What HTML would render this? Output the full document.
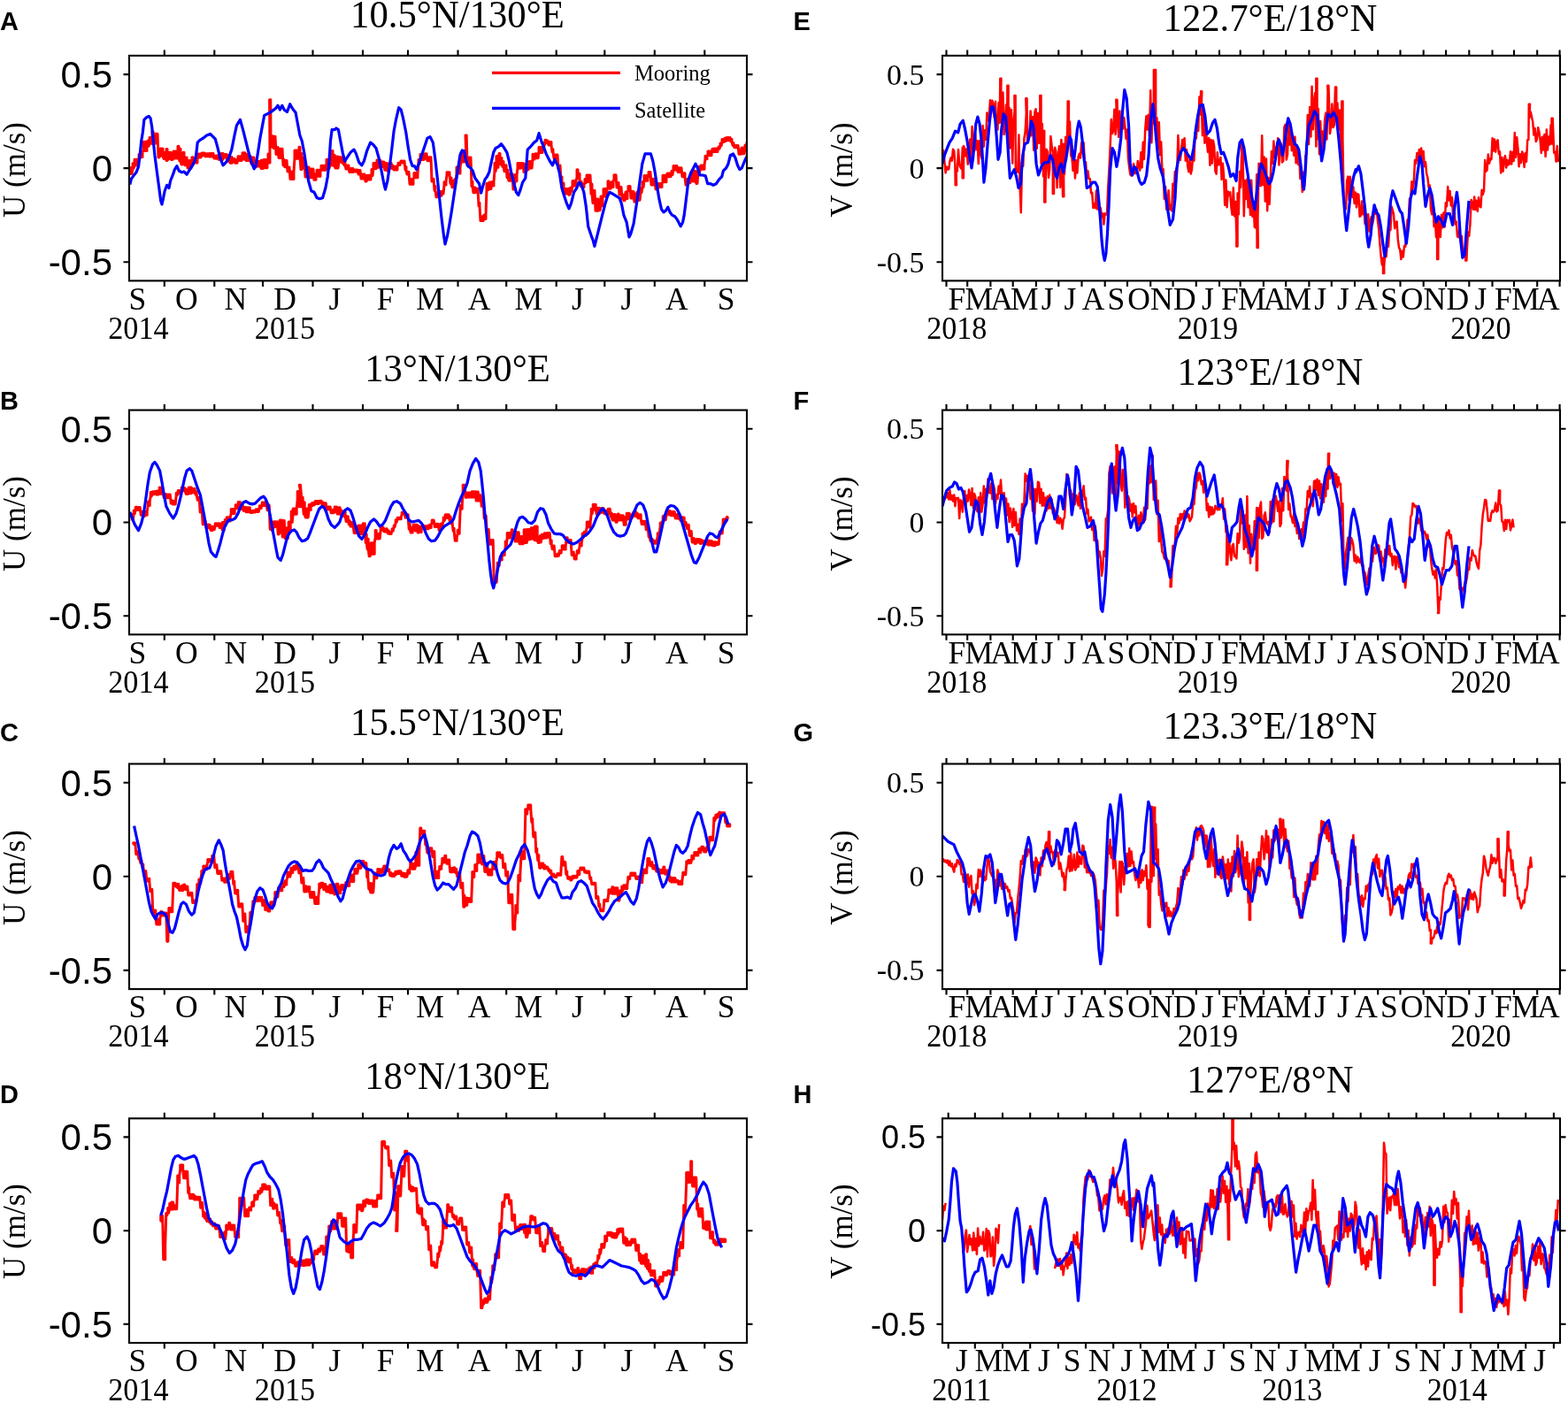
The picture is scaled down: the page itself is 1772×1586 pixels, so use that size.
<!DOCTYPE html><html><head><meta charset="utf-8"><title>Mooring vs Satellite velocity</title><style>html,body{margin:0;padding:0;background:#fff;}svg{display:block;}</style></head><body>
<svg width="1772" height="1586" viewBox="0 0 1772 1586">
<rect width="1772" height="1586" fill="#fff"/>
<clipPath id="cA"><rect x="146" y="62.9" width="698" height="254.49999999999997"/></clipPath>
<g clip-path="url(#cA)" fill="none" stroke-width="2.8" stroke-linejoin="round" stroke-linecap="butt">
<path d="M146.0,196.6 146.0,189.6 147.0,189.6 147.0,196.6 148.0,196.6 148.0,189.6 149.0,189.6 149.0,196.6 150.0,190.3 150.0,184.8 151.0,184.8 151.0,190.3 152.0,186.9 152.0,180.3 153.0,180.3 153.0,186.9 154.0,186.9 154.0,180.3 155.0,180.3 155.0,186.9 156.0,186.9 156.0,180.3 157.0,179.3 157.0,174.4 158.0,174.4 158.0,179.3 159.0,177.4 159.0,171.7 160.0,171.7 160.0,177.4 161.0,177.4 161.0,171.7 162.0,170.4 162.0,160.2 163.0,160.2 163.0,170.4 164.0,170.4 164.0,160.2 165.0,160.2 165.0,170.4 166.0,170.4 166.0,160.2 167.0,165.3 167.0,159.0 168.0,159.0 168.0,165.3 169.0,162.3 169.0,155.6 170.0,155.6 170.0,162.3 171.0,162.3 171.0,155.6 172.0,162.2 172.0,148.5 173.0,148.5 173.0,162.2 174.0,161.9 174.0,151.3 175.0,151.3 175.0,161.9 176.0,161.9 176.0,151.3 177.0,151.3 177.0,161.9 178.0,161.9 178.0,151.3 179.0,177.9 179.0,171.4 180.0,171.4 180.0,177.9 181.0,176.0 181.0,168.1 182.0,168.1 182.0,176.0 183.0,176.0 183.0,168.1 184.0,168.1 184.0,176.0 185.0,179.4 185.0,172.3 186.0,172.3 186.0,179.4 187.0,179.4 187.0,172.3 188.0,181.4 188.0,168.4 189.0,168.4 189.0,181.4 190.0,179.7 190.0,172.2 191.0,172.2 191.0,179.7 192.0,179.7 192.0,172.2 193.0,172.2 193.0,179.7 194.0,180.5 194.0,173.4 195.0,173.4 195.0,180.5 196.0,179.1 196.0,170.9 197.0,170.9 197.0,179.1 198.0,179.1 198.0,170.9 199.0,170.9 199.0,179.1 200.0,179.1 200.0,170.9 201.0,178.5 201.0,165.2 202.0,165.2 202.0,178.5 203.0,182.0 203.0,168.2 204.0,168.2 204.0,182.0 205.0,185.9 205.0,173.5 206.0,173.5 206.0,185.9 207.0,180.6 207.0,172.2 208.0,172.2 208.0,180.6 209.0,186.7 209.0,177.9 210.0,177.9 210.0,186.7 211.0,186.7 211.0,177.9 212.0,189.9 212.0,181.6 213.0,181.6 213.0,189.9 214.0,189.9 214.0,181.6 215.0,181.6 215.0,189.9 216.0,189.9 216.0,181.6 217.0,186.4 217.0,177.7 218.0,177.7 218.0,186.4 219.0,184.0 219.0,179.7 220.0,179.7 220.0,184.0 221.0,184.0 221.0,179.7 222.0,179.7 222.0,184.0 223.0,184.0 223.0,179.7 224.0,177.9 224.0,173.9 225.0,173.9 225.0,177.9 226.0,177.9 226.0,173.9 227.0,173.9 227.0,177.9 228.0,175.7 228.0,173.1 229.0,173.1 229.0,175.7 230.0,175.7 230.0,173.1 231.0,173.1 231.0,175.7 232.0,176.8 232.0,173.7 233.0,173.7 233.0,176.8 234.0,176.8 234.0,173.7 235.0,173.7 235.0,176.8 236.0,176.8 236.0,173.7 237.0,177.1 237.0,173.6 238.0,173.6 238.0,177.1 239.0,177.1 239.0,173.6 240.0,173.6 240.0,177.1 241.0,177.1 241.0,173.6 242.0,179.0 242.0,176.5 243.0,176.5 243.0,179.0 244.0,179.3 244.0,176.1 245.0,176.1 245.0,179.3 246.0,179.3 246.0,176.1 247.0,180.2 247.0,175.3 248.0,175.3 248.0,180.2 249.0,180.2 249.0,175.3 250.0,180.3 250.0,173.4 251.0,173.4 251.0,180.3 252.0,180.3 252.0,173.4 253.0,178.1 253.0,174.5 254.0,174.5 254.0,178.1 255.0,178.1 255.0,174.5 256.0,174.5 256.0,178.1 257.0,182.2 257.0,175.5 258.0,175.5 258.0,182.2 259.0,182.2 259.0,175.5 260.0,184.2 260.0,177.5 261.0,177.5 261.0,184.2 262.0,184.2 262.0,177.5 263.0,183.2 263.0,179.4 264.0,179.4 264.0,183.2 265.0,183.2 265.0,179.4 266.0,184.2 266.0,180.5 267.0,180.5 267.0,184.2 268.0,184.2 268.0,180.5 269.0,181.4 269.0,176.8 270.0,176.8 270.0,181.4 271.0,181.4 271.0,176.8 272.0,176.8 272.0,181.4 273.0,181.4 273.0,176.8 274.0,179.9 274.0,172.7 275.0,172.7 275.0,179.9 276.0,179.9 276.0,172.7 277.0,172.7 277.0,179.9 278.0,181.4 278.0,174.6 279.0,174.6 279.0,181.4 280.0,181.4 280.0,176.5 281.0,176.5 281.0,181.4 282.0,181.4 282.0,176.5 283.0,176.5 283.0,181.4 284.0,185.2 284.0,178.0 285.0,178.0 285.0,185.2 286.0,185.2 286.0,178.0 287.0,178.0 287.0,185.2 288.0,188.8 288.0,181.7 289.0,181.7 289.0,188.8 290.0,188.1 290.0,182.6 291.0,182.6 291.0,188.1 292.0,188.1 292.0,182.6 293.0,182.6 293.0,188.1 294.0,188.1 294.0,182.6 295.0,190.4 295.0,181.3 296.0,181.3 296.0,190.4 297.0,190.4 297.0,181.3 298.0,189.8 298.0,180.5 299.0,180.5 299.0,189.8 300.0,189.8 300.0,180.5 301.0,180.5 301.0,189.8 302.0,189.8 302.0,180.5 303.0,183.9 303.0,174.1 304.0,174.1 304.0,183.9 305.0,183.9 305.0,174.1 304.6,112.8 305.8,112.8 306.0,166.1 306.0,153.7 307.0,153.7 307.0,166.1 308.0,166.1 308.0,153.7 309.0,167.4 309.0,154.3 310.0,154.3 310.0,167.4 311.0,167.4 311.0,154.3 312.0,174.4 312.0,166.5 313.0,166.5 313.0,174.4 314.0,174.4 314.0,166.5 315.0,178.4 315.0,168.2 316.0,168.2 316.0,178.4 317.0,178.4 317.0,168.2 318.0,168.2 318.0,178.4 319.0,178.4 319.0,168.2 320.0,186.8 320.0,180.3 321.0,180.3 321.0,186.8 322.0,188.7 322.0,181.4 323.0,181.4 323.0,188.7 324.0,188.7 324.0,181.4 325.0,194.0 325.0,189.1 326.0,189.1 326.0,194.0 327.0,194.0 327.0,189.1 328.0,202.5 328.0,194.0 329.0,194.0 329.0,202.5 330.0,202.5 330.0,194.0 331.0,194.0 331.0,202.5 332.0,202.5 332.0,194.0 333.0,179.2 333.0,169.9 334.0,169.9 334.0,179.2 335.0,179.2 335.0,169.9 336.0,169.9 336.0,179.2 337.0,179.2 337.0,169.9 338.0,177.5 338.0,166.3 339.0,166.3 339.0,177.5 340.0,191.6 340.0,173.5 341.0,173.5 341.0,191.6 342.0,189.9 342.0,178.5 343.0,178.5 343.0,189.9 344.0,189.9 344.0,178.5 345.0,200.0 345.0,191.1 346.0,191.1 346.0,200.0 347.0,200.0 347.0,191.1 348.0,196.2 348.0,189.0 349.0,189.0 349.0,196.2 350.0,200.8 350.0,191.0 351.0,191.0 351.0,200.8 352.0,200.8 352.0,191.0 353.0,191.0 353.0,200.8 354.0,200.8 354.0,191.0 355.0,203.3 355.0,196.8 356.0,196.8 356.0,203.3 357.0,203.3 357.0,196.8 358.0,199.3 358.0,192.2 359.0,192.2 359.0,199.3 360.0,199.3 360.0,192.2 361.0,192.2 361.0,199.3 362.0,199.3 362.0,192.2 363.0,192.2 363.0,187.2 364.0,187.2 364.0,192.2 365.0,192.3 365.0,187.3 366.0,187.3 366.0,192.3 367.0,192.3 367.0,187.3 368.0,187.3 368.0,192.3 369.0,187.9 369.0,180.3 370.0,180.3 370.0,187.9 371.0,190.4 371.0,181.1 372.0,181.1 372.0,190.4 373.0,186.6 373.0,176.6 374.0,176.6 374.0,186.6 375.0,186.9 375.0,170.6 376.0,170.6 376.0,186.9 377.0,187.3 377.0,175.3 378.0,175.3 378.0,187.3 379.0,190.0 379.0,177.0 380.0,177.0 380.0,190.0 381.0,190.0 381.0,177.0 382.0,177.0 382.0,190.0 383.0,183.1 383.0,177.8 384.0,177.8 384.0,183.1 385.0,183.1 385.0,177.8 386.0,177.8 386.0,183.1 387.0,184.3 387.0,179.8 388.0,179.8 388.0,184.3 389.0,186.7 389.0,182.3 390.0,182.3 390.0,186.7 391.0,191.1 391.0,187.1 392.0,187.1 392.0,191.1 393.0,190.6 393.0,186.9 394.0,186.9 394.0,190.6 395.0,194.6 395.0,190.6 396.0,190.6 396.0,194.6 397.0,194.6 397.0,190.6 398.0,190.6 398.0,194.6 399.0,194.6 399.0,190.6 400.0,194.0 400.0,192.1 401.0,192.1 401.0,194.0 402.0,194.0 402.0,192.1 403.0,192.1 403.0,194.0 404.0,194.0 404.0,192.1 405.0,197.0 405.0,192.4 406.0,192.4 406.0,197.0 407.0,197.0 407.0,192.4 408.0,201.9 408.0,196.9 409.0,196.9 409.0,201.9 410.0,201.9 410.0,196.9 411.0,196.9 411.0,201.9 412.0,201.9 412.0,196.9 413.0,205.0 413.0,200.3 414.0,200.3 414.0,205.0 415.0,202.9 415.0,198.2 416.0,198.2 416.0,202.9 417.0,202.9 417.0,198.2 418.0,198.2 418.0,202.9 419.0,202.9 419.0,198.2 420.0,198.7 420.0,191.5 421.0,191.5 421.0,198.7 422.0,189.9 422.0,184.6 423.0,184.6 423.0,189.9 424.0,190.7 424.0,184.6 425.0,184.6 425.0,190.7 426.0,189.3 426.0,181.1 427.0,181.1 427.0,189.3 428.0,189.3 428.0,181.1 429.0,188.7 429.0,181.3 430.0,181.3 430.0,188.7 431.0,188.6 431.0,183.0 432.0,183.0 432.0,188.6 433.0,188.6 433.0,183.0 434.0,183.0 434.0,188.6 435.0,192.3 435.0,184.4 436.0,184.4 436.0,192.3 437.0,192.3 437.0,184.4 438.0,193.3 438.0,187.3 439.0,187.3 439.0,193.3 440.0,189.5 440.0,184.2 441.0,184.2 441.0,189.5 442.0,189.5 442.0,184.2 443.0,190.5 443.0,186.9 444.0,186.9 444.0,190.5 445.0,191.9 445.0,188.3 446.0,188.3 446.0,191.9 447.0,191.9 447.0,188.3 448.0,188.3 448.0,191.9 449.0,191.9 449.0,188.3 450.0,186.5 450.0,184.3 451.0,184.3 451.0,186.5 452.0,186.5 452.0,184.3 453.0,183.9 453.0,182.1 454.0,182.1 454.0,183.9 455.0,183.9 455.0,182.1 456.0,182.1 456.0,183.9 457.0,183.9 457.0,182.1 458.0,192.2 458.0,188.5 459.0,188.5 459.0,192.2 460.0,196.9 460.0,194.3 461.0,194.3 461.0,196.9 462.0,196.9 462.0,194.3 463.0,208.2 463.0,202.6 464.0,202.6 464.0,208.2 465.0,208.2 465.0,202.6 466.0,202.6 466.0,208.2 467.0,208.2 467.0,202.6 468.0,200.7 468.0,195.6 469.0,195.6 469.0,200.7 470.0,200.7 470.0,195.6 471.0,195.6 471.0,200.7 472.0,200.7 472.0,195.6 473.0,185.0 473.0,180.4 474.0,180.4 474.0,185.0 475.0,180.6 475.0,174.4 476.0,174.4 476.0,180.6 477.0,180.6 477.0,174.4 478.0,174.4 478.0,180.6 479.0,180.6 479.0,174.4 480.0,179.3 480.0,173.8 481.0,173.8 481.0,179.3 482.0,179.3 482.0,173.8 483.0,181.7 483.0,177.7 484.0,177.7 484.0,181.7 485.0,181.7 485.0,177.7 486.0,177.7 486.0,181.7 487.0,181.7 487.0,177.7 488.0,205.1 488.0,202.2 489.0,202.2 489.0,205.1 490.0,205.1 490.0,202.2 491.0,215.4 491.0,210.4 492.0,210.4 492.0,215.4 493.0,222.8 493.0,218.3 494.0,218.3 494.0,222.8 495.0,220.9 495.0,217.5 496.0,217.5 496.0,220.9 497.0,221.3 497.0,216.4 498.0,216.4 498.0,221.3 499.0,221.3 499.0,216.4 500.0,219.0 500.0,215.9 501.0,215.9 501.0,219.0 502.0,209.1 502.0,205.7 503.0,205.7 503.0,209.1 504.0,209.1 504.0,205.7 505.0,197.8 505.0,194.7 506.0,194.7 506.0,197.8 507.0,197.8 507.0,194.7 508.0,194.7 508.0,197.8 509.0,207.4 509.0,201.1 510.0,201.1 510.0,207.4 511.0,211.7 511.0,204.2 512.0,204.2 512.0,211.7 513.0,211.7 513.0,204.2 514.0,206.2 514.0,202.4 515.0,202.4 515.0,206.2 516.0,196.1 516.0,189.0 517.0,189.0 517.0,196.1 518.0,196.1 518.0,189.0 519.0,189.0 519.0,196.1 520.0,196.1 520.0,189.0 521.0,183.0 521.0,172.8 522.0,172.8 522.0,183.0 523.0,183.0 523.0,172.8 524.0,172.8 524.0,183.0 525.0,183.0 525.0,172.8 526.0,180.5 526.0,170.1 527.0,170.1 527.0,180.5 526.0,153.0 527.2,153.0 528.0,186.8 528.0,177.9 529.0,177.9 529.0,186.8 530.0,186.8 530.0,177.9 531.0,177.9 531.0,186.8 532.0,186.8 532.0,177.9 533.0,210.7 533.0,205.1 534.0,205.1 534.0,210.7 535.0,217.8 535.0,211.9 536.0,211.9 536.0,217.8 537.0,217.8 537.0,211.9 538.0,217.3 538.0,213.2 539.0,213.2 539.0,217.3 540.0,217.3 540.0,213.2 541.0,232.8 541.0,229.3 542.0,229.3 542.0,232.8 543.0,249.6 543.0,244.8 544.0,244.8 544.0,249.6 545.0,249.6 545.0,244.8 546.0,244.8 546.0,249.6 547.0,247.5 547.0,243.1 548.0,243.1 548.0,247.5 549.0,247.5 549.0,243.1 550.0,214.4 550.0,207.5 551.0,207.5 551.0,214.4 552.0,214.4 552.0,207.5 553.0,213.6 553.0,206.0 554.0,206.0 554.0,213.6 555.0,213.6 555.0,206.0 556.0,210.1 556.0,205.4 557.0,205.4 557.0,210.1 558.0,210.1 558.0,205.4 559.0,193.7 559.0,184.3 560.0,184.3 560.0,193.7 561.0,189.3 561.0,176.4 562.0,176.4 562.0,189.3 563.0,189.3 563.0,176.4 564.0,179.8 564.0,173.5 565.0,173.5 565.0,179.8 566.0,186.0 566.0,178.4 567.0,178.4 567.0,186.0 568.0,188.4 568.0,182.6 569.0,182.6 569.0,188.4 570.0,193.7 570.0,186.8 571.0,186.8 571.0,193.7 572.0,193.7 572.0,186.8 573.0,200.7 573.0,192.3 574.0,192.3 574.0,200.7 575.0,204.3 575.0,196.7 576.0,196.7 576.0,204.3 577.0,204.3 577.0,196.7 578.0,196.7 578.0,204.3 579.0,204.3 579.0,196.7 580.0,214.1 580.0,208.4 581.0,208.4 581.0,214.1 582.0,204.8 582.0,197.6 583.0,197.6 583.0,204.8 584.0,204.8 584.0,197.6 585.0,190.2 585.0,184.4 586.0,184.4 586.0,190.2 587.0,190.2 587.0,184.4 588.0,184.4 588.0,190.2 589.0,189.6 589.0,184.5 590.0,184.5 590.0,189.6 591.0,189.6 591.0,184.5 592.0,194.6 592.0,185.4 593.0,185.4 593.0,194.6 594.0,193.5 594.0,185.6 595.0,185.6 595.0,193.5 596.0,191.8 596.0,183.0 597.0,183.0 597.0,191.8 598.0,190.0 598.0,182.6 599.0,182.6 599.0,190.0 600.0,190.0 600.0,182.6 601.0,182.6 601.0,190.0 602.0,179.9 602.0,174.2 603.0,174.2 603.0,179.9 604.0,179.9 604.0,174.2 605.0,178.7 605.0,173.8 606.0,173.8 606.0,178.7 607.0,178.7 607.0,173.8 608.0,173.8 608.0,178.7 609.0,172.6 609.0,166.6 610.0,166.6 610.0,172.6 611.0,172.6 611.0,166.6 612.0,166.6 612.0,172.6 613.0,172.6 613.0,166.6 614.0,165.2 614.0,161.6 615.0,161.6 615.0,165.2 616.0,161.6 616.0,158.2 617.0,158.2 617.0,161.6 618.0,161.4 618.0,158.9 619.0,158.9 619.0,161.4 620.0,164.0 620.0,160.6 621.0,160.6 621.0,164.0 622.0,164.0 622.0,160.6 623.0,160.6 623.0,164.0 624.0,171.7 624.0,168.8 625.0,168.8 625.0,171.7 626.0,178.9 626.0,175.1 627.0,175.1 627.0,178.9 628.0,178.9 628.0,175.1 629.0,175.1 629.0,178.9 630.0,178.9 630.0,175.1 631.0,190.4 631.0,187.0 632.0,187.0 632.0,190.4 633.0,190.4 633.0,187.0 634.0,204.9 634.0,199.8 635.0,199.8 635.0,204.9 636.0,215.6 636.0,207.0 637.0,207.0 637.0,215.6 638.0,218.9 638.0,213.5 639.0,213.5 639.0,218.9 640.0,218.9 640.0,213.5 641.0,213.5 641.0,218.9 642.0,218.9 642.0,213.5 643.0,220.2 643.0,213.1 644.0,213.1 644.0,220.2 645.0,216.2 645.0,211.9 646.0,211.9 646.0,216.2 647.0,210.1 647.0,204.5 648.0,204.5 648.0,210.1 649.0,210.1 649.0,204.5 650.0,204.5 650.0,210.1 651.0,210.1 651.0,204.5 652.0,200.6 652.0,191.7 653.0,191.7 653.0,200.6 654.0,202.0 654.0,196.3 655.0,196.3 655.0,202.0 656.0,210.4 656.0,205.3 657.0,205.3 657.0,210.4 658.0,211.5 658.0,207.7 659.0,207.7 659.0,211.5 660.0,211.5 660.0,207.7 661.0,206.9 661.0,202.6 662.0,202.6 662.0,206.9 663.0,205.5 663.0,198.1 664.0,198.1 664.0,205.5 665.0,205.5 665.0,198.1 666.0,198.1 666.0,205.5 667.0,205.5 667.0,198.1 668.0,219.1 668.0,207.9 669.0,207.9 669.0,219.1 670.0,229.5 670.0,215.3 671.0,215.3 671.0,229.5 672.0,229.5 672.0,215.3 673.0,238.3 673.0,224.9 674.0,224.9 674.0,238.3 675.0,238.3 675.0,224.9 676.0,224.9 676.0,238.3 677.0,237.7 677.0,226.8 678.0,226.8 678.0,237.7 679.0,232.8 679.0,222.1 680.0,222.1 680.0,232.8 681.0,232.8 681.0,222.1 682.0,222.0 682.0,213.4 683.0,213.4 683.0,222.0 684.0,222.0 684.0,213.4 685.0,213.4 685.0,222.0 686.0,222.0 686.0,213.4 687.0,212.8 687.0,204.7 688.0,204.7 688.0,212.8 689.0,213.3 689.0,207.0 690.0,207.0 690.0,213.3 691.0,211.4 691.0,205.8 692.0,205.8 692.0,211.4 693.0,211.4 693.0,205.8 694.0,201.8 694.0,197.7 695.0,197.7 695.0,201.8 696.0,201.8 696.0,197.7 697.0,212.1 697.0,206.4 698.0,206.4 698.0,212.1 699.0,212.1 699.0,206.4 700.0,220.1 700.0,211.6 701.0,211.6 701.0,220.1 702.0,220.1 702.0,211.6 703.0,224.8 703.0,221.6 704.0,221.6 704.0,224.8 705.0,226.7 705.0,219.9 706.0,219.9 706.0,226.7 707.0,224.4 707.0,217.0 708.0,217.0 708.0,224.4 709.0,224.4 709.0,217.0 710.0,215.0 710.0,210.4 711.0,210.4 711.0,215.0 712.0,215.0 712.0,210.4 713.0,223.9 713.0,216.5 714.0,216.5 714.0,223.9 715.0,223.9 715.0,216.5 716.0,216.5 716.0,223.9 717.0,228.1 717.0,219.0 718.0,219.0 718.0,228.1 719.0,228.1 719.0,219.0 720.0,226.2 720.0,216.9 721.0,216.9 721.0,226.2 722.0,226.2 722.0,216.9 723.0,216.9 723.0,226.2 724.0,217.7 724.0,212.6 725.0,212.6 725.0,217.7 726.0,211.8 726.0,205.4 727.0,205.4 727.0,211.8 728.0,204.2 728.0,198.6 729.0,198.6 729.0,204.2 730.0,204.2 730.0,198.6 731.0,198.6 731.0,204.2 732.0,204.2 732.0,198.6 733.0,199.4 733.0,194.6 734.0,194.6 734.0,199.4 735.0,199.4 735.0,194.6 736.0,209.0 736.0,202.2 737.0,202.2 737.0,209.0 738.0,209.0 738.0,202.2 739.0,202.2 739.0,209.0 740.0,209.0 740.0,202.2 741.0,213.9 741.0,209.8 742.0,209.8 742.0,213.9 743.0,213.9 743.0,209.8 744.0,211.4 744.0,207.5 745.0,207.5 745.0,211.4 746.0,211.4 746.0,207.5 747.0,207.5 747.0,211.4 748.0,211.4 748.0,207.5 749.0,205.8 749.0,198.2 750.0,198.2 750.0,205.8 751.0,205.8 751.0,198.2 752.0,198.2 752.0,205.8 753.0,205.8 753.0,198.2 754.0,199.8 754.0,195.9 755.0,195.9 755.0,199.8 756.0,199.8 756.0,195.9 757.0,195.9 757.0,199.8 758.0,199.8 758.0,195.9 759.0,197.5 759.0,193.3 760.0,193.3 760.0,197.5 761.0,191.9 761.0,187.6 762.0,187.6 762.0,191.9 763.0,191.9 763.0,187.6 764.0,187.6 764.0,191.9 765.0,191.9 765.0,187.6 766.0,194.5 766.0,189.8 767.0,189.8 767.0,194.5 768.0,194.5 768.0,189.8 769.0,189.8 769.0,194.5 770.0,194.5 770.0,189.8 771.0,199.7 771.0,195.8 772.0,195.8 772.0,199.7 773.0,199.7 773.0,195.8 774.0,195.8 774.0,199.7 775.0,209.1 775.0,204.8 776.0,204.8 776.0,209.1 777.0,206.7 777.0,202.6 778.0,202.6 778.0,206.7 779.0,206.7 779.0,202.6 780.0,202.6 780.0,206.7 781.0,200.8 781.0,194.1 782.0,194.1 782.0,200.8 783.0,205.0 783.0,193.3 784.0,193.3 784.0,205.0 785.0,205.0 785.0,193.3 786.0,193.3 786.0,205.0 787.0,207.5 787.0,198.5 788.0,198.5 788.0,207.5 789.0,193.6 789.0,188.6 790.0,188.6 790.0,193.6 791.0,193.6 791.0,188.6 792.0,191.3 792.0,186.9 793.0,186.9 793.0,191.3 794.0,191.3 794.0,186.9 795.0,186.9 795.0,191.3 796.0,191.3 796.0,186.9 797.0,179.7 797.0,176.3 798.0,176.3 798.0,179.7 799.0,179.7 799.0,176.3 800.0,175.8 800.0,171.0 801.0,171.0 801.0,175.8 802.0,175.8 802.0,171.0 803.0,171.0 803.0,175.8 804.0,175.8 804.0,171.0 805.0,171.8 805.0,168.2 806.0,168.2 806.0,171.8 807.0,171.5 807.0,168.1 808.0,168.1 808.0,171.5 809.0,171.5 809.0,168.1 810.0,168.1 810.0,171.5 811.0,171.5 811.0,168.1 812.0,168.2 812.0,166.0 813.0,166.0 813.0,168.2 814.0,164.9 814.0,161.9 815.0,161.9 815.0,164.9 816.0,160.6 816.0,157.4 817.0,157.4 817.0,160.6 818.0,160.6 818.0,157.4 819.0,159.7 819.0,156.2 820.0,156.2 820.0,159.7 821.0,158.7 821.0,155.4 822.0,155.4 822.0,158.7 823.0,158.7 823.0,155.4 824.0,155.4 824.0,158.7 825.0,158.7 825.0,155.4 826.0,160.0 826.0,157.2 827.0,157.2 827.0,160.0 828.0,164.1 828.0,161.4 829.0,161.4 829.0,164.1 830.0,166.7 830.0,164.5 831.0,164.5 831.0,166.7 832.0,166.7 832.0,164.5 833.0,164.5 833.0,166.7 834.0,166.7 834.0,164.5 835.0,174.2 835.0,169.3 836.0,169.3 836.0,174.2 837.0,174.2 837.0,169.3 838.0,173.7 838.0,167.1 839.0,167.1 839.0,173.7 840.0,173.7 840.0,167.1 841.0,167.1 841.0,173.7 842.0,168.8 842.0,163.9 843.0,163.9 843.0,168.8 844.0,164.4 844.0,160.9 845.0,160.9 845.0,164.4 846.0,164.4 846.0,160.9 847.0,160.9 847.0,164.4 848.0,164.4 848.0,160.9 844.7,160.9" stroke="#ff0000" stroke-width="3.0"/>
<path d="M146.8,208.5 148.4,202.1 150.8,198.9 154.0,194.8 156.5,188.4 158.1,175.5 159.7,159.5 161.3,149.8 162.9,135.3 165.3,132.9 168.2,131.3 170.1,133.7 171.7,143.4 173.3,159.5 174.9,175.5 177.4,194.8 179.8,212.5 181.7,227.0 183.0,231.0 184.6,223.8 186.2,215.7 188.6,209.3 191.0,212.5 192.6,204.5 194.2,200.5 195.8,196.4 197.4,191.6 199.9,187.6 202.3,193.2 205.5,194.8 207.9,194.0 211.1,197.2 213.5,193.2 216.7,188.4 220.0,182.0 221.6,175.5 223.2,161.1 225.6,158.7 229.6,156.2 233.6,153.0 237.6,151.4 240.1,153.8 243.3,157.1 245.7,165.9 248.9,178.8 252.1,186.8 255.3,183.6 258.5,178.8 261.8,169.1 265.0,153.0 267.4,141.8 271.4,135.3 274.6,146.6 277.8,159.5 281.0,172.3 284.3,183.6 287.2,190.8 289.1,187.6 291.5,172.3 293.9,156.2 296.3,143.4 298.7,130.5 301.9,128.9 305.2,127.3 308.4,124.9 311.6,122.5 314.0,119.3 316.4,124.1 318.8,119.3 321.2,124.1 324.5,126.5 327.7,117.7 330.9,123.3 334.1,127.3 336.5,140.2 338.9,153.0 341.3,159.5 343.7,172.3 346.2,188.4 348.6,204.5 351.8,215.7 355.0,217.3 358.2,223.8 361.4,224.6 364.6,223.8 367.9,212.5 370.3,199.7 371.9,183.6 373.5,159.5 375.1,146.6 378.3,146.6 380.0,145.0 382.4,146.6 384.8,159.5 387.2,172.3 389.6,182.0 392.9,177.1 396.1,172.3 400.1,169.1 402.5,173.9 405.7,183.6 408.9,186.8 411.4,182.0 414.6,170.7 418.6,161.1 421.8,163.5 425.0,167.5 428.2,178.8 431.4,194.8 433.9,207.7 435.5,214.1 437.9,204.5 440.3,188.4 442.7,169.1 445.1,148.2 447.5,135.3 450.7,121.7 453.2,124.1 455.6,133.7 458.8,149.8 461.2,165.9 463.6,180.4 466.0,187.6 468.4,187.6 470.8,191.6 473.2,185.2 476.5,175.5 479.7,165.9 482.9,156.2 486.1,154.6 489.3,161.1 491.7,178.8 494.1,199.7 496.6,223.8 499.0,246.3 501.4,265.6 503.0,276.0 505.4,267.2 507.8,254.3 510.2,239.8 512.6,223.8 515.0,207.7 517.5,191.6 519.9,175.5 522.3,169.9 524.7,170.7 526.3,180.4 528.7,187.6 531.9,190.0 534.3,193.2 536.8,201.3 539.2,204.5 541.6,207.7 543.7,218.1 545.6,210.9 548.0,202.9 550.4,199.7 552.8,194.8 555.2,183.6 557.7,172.3 560.1,167.5 563.3,165.9 566.5,162.7 568.9,165.9 572.9,172.3 575.3,182.0 577.7,194.8 581.0,207.7 583.4,217.3 585.8,220.6 588.2,214.1 590.6,206.1 593.8,201.3 596.2,169.1 599.5,165.9 603.5,161.1 606.7,158.7 609.1,150.6 612.3,161.1 613.2,162.7 617.2,173.9 621.3,182.0 624.5,186.8 626.9,180.4 630.1,186.8 632.5,196.4 634.9,212.5 637.3,220.6 640.5,230.2 643.0,235.8 645.4,230.2 648.6,217.3 651.8,212.5 654.2,206.1 656.6,207.7 659.8,217.3 662.3,233.4 664.7,255.9 667.9,265.6 670.3,272.0 671.9,278.4 674.3,268.8 677.5,255.9 680.7,243.1 684.0,230.2 686.4,222.2 688.8,217.3 692.0,218.9 696.0,221.4 700.0,223.8 702.4,230.2 704.9,243.1 708.1,251.1 711.0,268.0 712.9,264.0 716.1,252.7 718.5,236.6 720.9,220.6 723.3,202.9 725.8,185.2 729.0,173.9 732.2,173.9 735.4,173.9 737.8,182.0 740.2,194.8 742.6,210.9 745.0,225.4 747.5,236.6 749.9,239.8 752.3,238.2 754.7,234.2 757.1,239.8 759.5,243.1 762.7,244.7 765.1,247.9 766.8,251.1 769.2,255.9 771.6,251.1 773.2,243.1 774.8,230.2 776.4,217.3 778.0,202.9 780.4,196.4 783.6,190.0 786.0,185.2 788.5,190.0 790.9,198.0 794.1,198.0 797.3,198.9 799.7,207.7 802.9,207.7 806.1,209.3 809.4,207.7 812.6,202.9 815.8,199.7 817.4,193.2 820.6,190.0 823.0,185.2 825.4,175.5 828.6,173.9 831.1,178.8 833.5,186.8 835.9,191.6 838.3,190.0 841.5,182.0 844.7,175.5" stroke="#0000ff" stroke-width="3.2"/>
</g>
<rect x="146" y="62.9" width="698" height="254.49999999999997" fill="none" stroke="#000" stroke-width="2.1"/>
<path d="M185.8,56.4V62.9M185.8,317.4V323.9M242.3,56.4V62.9M242.3,317.4V323.9M297.0,56.4V62.9M297.0,317.4V323.9M353.5,56.4V62.9M353.5,317.4V323.9M410.0,56.4V62.9M410.0,317.4V323.9M461.0,56.4V62.9M461.0,317.4V323.9M517.5,56.4V62.9M517.5,317.4V323.9M572.2,56.4V62.9M572.2,317.4V323.9M628.7,56.4V62.9M628.7,317.4V323.9M683.3,56.4V62.9M683.3,317.4V323.9M739.8,56.4V62.9M739.8,317.4V323.9M796.3,56.4V62.9M796.3,317.4V323.9M139.5,84.1H146M844,84.1H850.5M139.5,190.1H146M844,190.1H850.5M139.5,296.2H146M844,296.2H850.5" stroke="#000" stroke-width="2.1" fill="none"/>
<g font-family="'Liberation Serif','Times New Roman',serif" font-size="35.5" text-anchor="middle"><text x="155.3" y="349.6">S</text><text x="210.8" y="349.6">O</text><text x="266.4" y="349.6">N</text><text x="322.0" y="349.6">D</text><text x="378.5" y="349.6">J</text><text x="435.5" y="349.6">F</text><text x="486.0" y="349.6">M</text><text x="541.6" y="349.6">A</text><text x="597.2" y="349.6">M</text><text x="652.8" y="349.6">J</text><text x="708.4" y="349.6">J</text><text x="764.9" y="349.6">A</text><text x="820.5" y="349.6">S</text><text transform="translate(156.4,382.6) scale(0.962,1)">2014</text><text transform="translate(322.0,382.6) scale(0.962,1)">2015</text></g>
<g font-family="'Liberation Sans',Arial,sans-serif" font-size="42" text-anchor="end"><text x="127.0" y="99.1">0.5</text><text x="127.0" y="205.1">0</text><text x="127.0" y="311.2">-0.5</text></g>
<text transform="translate(27.8,192) rotate(-90)" font-family="'Liberation Serif','Times New Roman',serif" font-size="35" text-anchor="middle">U (m/s)</text>
<text transform="translate(517.0,31.0) scale(0.96,1)" font-family="'Liberation Serif','Times New Roman',serif" font-size="44.5" text-anchor="middle">10.5°N/130°E</text>
<text x="0" y="34" font-family="'Liberation Sans',Arial,sans-serif" font-weight="bold" font-size="29">A</text>
<clipPath id="cB"><rect x="146" y="463.6" width="698" height="253.69999999999993"/></clipPath>
<g clip-path="url(#cB)" fill="none" stroke-width="2.8" stroke-linejoin="round" stroke-linecap="butt">
<path d="M149.2,588.2 149.2,581.5 150.2,581.5 150.2,588.2 151.2,580.8 151.2,577.1 152.2,577.1 152.2,580.8 153.2,576.5 153.2,573.2 154.2,573.2 154.2,576.5 155.2,576.5 155.2,573.2 156.2,576.4 156.2,573.6 157.2,573.6 157.2,576.4 158.2,576.4 158.2,573.6 159.2,582.2 159.2,578.3 160.2,578.3 160.2,582.2 161.2,582.2 161.2,578.3 162.2,583.7 162.2,579.2 163.2,579.2 163.2,583.7 164.2,582.2 164.2,578.4 165.2,578.4 165.2,582.2 166.2,582.2 166.2,578.4 167.2,571.4 167.2,566.9 168.2,566.9 168.2,571.4 169.2,571.4 169.2,566.9 170.2,561.0 170.2,556.4 171.2,556.4 171.2,561.0 172.2,558.8 172.2,555.7 173.2,555.7 173.2,558.8 174.2,558.8 174.2,555.7 175.2,558.5 175.2,555.4 176.2,555.4 176.2,558.5 177.2,559.1 177.2,555.0 178.2,555.0 178.2,559.1 179.2,559.1 179.2,555.0 180.2,558.3 180.2,551.0 181.2,551.0 181.2,558.3 182.2,558.3 182.2,551.0 183.2,557.8 183.2,552.4 184.2,552.4 184.2,557.8 185.2,562.5 185.2,558.6 186.2,558.6 186.2,562.5 187.2,562.5 187.2,558.6 188.2,562.7 188.2,558.9 189.2,558.9 189.2,562.7 190.2,562.7 190.2,558.9 191.2,558.9 191.2,562.7 192.2,562.7 192.2,558.9 193.2,569.0 193.2,565.6 194.2,565.6 194.2,569.0 195.2,570.0 195.2,566.5 196.2,566.5 196.2,570.0 197.2,570.0 197.2,566.5 198.2,566.5 198.2,570.0 199.2,560.0 199.2,557.3 200.2,557.3 200.2,560.0 201.2,557.8 201.2,554.6 202.2,554.6 202.2,557.8 203.2,557.8 203.2,554.6 204.2,554.6 204.2,557.8 205.2,553.8 205.2,551.1 206.2,551.1 206.2,553.8 207.2,553.8 207.2,551.1 208.2,555.0 208.2,551.7 209.2,551.7 209.2,555.0 210.2,558.4 210.2,553.4 211.2,553.4 211.2,558.4 212.2,558.4 212.2,553.4 213.2,557.8 213.2,550.9 214.2,550.9 214.2,557.8 215.2,557.8 215.2,550.9 216.2,550.9 216.2,557.8 217.2,555.9 217.2,552.4 218.2,552.4 218.2,555.9 219.2,556.9 219.2,552.4 220.2,552.4 220.2,556.9 221.2,559.1 221.2,555.7 222.2,555.7 222.2,559.1 223.2,565.3 223.2,562.2 224.2,562.2 224.2,565.3 225.2,565.3 225.2,562.2 226.2,579.1 226.2,575.1 227.2,575.1 227.2,579.1 228.2,579.1 228.2,575.1 229.2,592.8 229.2,589.3 230.2,589.3 230.2,592.8 231.2,592.8 231.2,589.3 232.2,589.3 232.2,592.8 233.2,596.8 233.2,593.0 234.2,593.0 234.2,596.8 235.2,596.8 235.2,593.0 236.2,596.8 236.2,593.3 237.2,593.3 237.2,596.8 238.2,599.4 238.2,595.2 239.2,595.2 239.2,599.4 240.2,599.4 240.2,595.2 241.2,598.6 241.2,595.3 242.2,595.3 242.2,598.6 243.2,594.2 243.2,591.8 244.2,591.8 244.2,594.2 245.2,594.2 245.2,591.8 246.2,591.8 246.2,594.2 247.2,594.2 247.2,591.8 248.2,596.6 248.2,592.0 249.2,592.0 249.2,596.6 250.2,596.6 250.2,592.0 251.2,599.1 251.2,590.5 252.2,590.5 252.2,599.1 253.2,599.1 253.2,590.5 254.2,591.5 254.2,587.4 255.2,587.4 255.2,591.5 256.2,588.9 256.2,584.7 257.2,584.7 257.2,588.9 258.2,588.9 258.2,584.7 259.2,584.7 259.2,588.9 260.2,588.9 260.2,584.7 261.2,580.6 261.2,575.4 262.2,575.4 262.2,580.6 263.2,580.6 263.2,575.4 264.2,575.4 264.2,580.6 265.2,580.6 265.2,575.4 266.2,574.8 266.2,570.7 267.2,570.7 267.2,574.8 268.2,574.8 268.2,570.7 269.2,573.6 269.2,567.6 270.2,567.6 270.2,573.6 271.2,573.6 271.2,567.6 272.2,575.6 272.2,570.5 273.2,570.5 273.2,575.6 274.2,575.6 274.2,570.5 275.2,577.4 275.2,573.4 276.2,573.4 276.2,577.4 277.2,577.4 277.2,573.4 278.2,578.7 278.2,573.7 279.2,573.7 279.2,578.7 280.2,578.7 280.2,573.7 281.2,573.7 281.2,578.7 282.2,578.7 282.2,573.7 283.2,579.5 283.2,577.5 284.2,577.5 284.2,579.5 285.2,579.5 285.2,577.5 286.2,579.1 286.2,577.2 287.2,577.2 287.2,579.1 288.2,579.1 288.2,577.2 289.2,578.6 289.2,575.8 290.2,575.8 290.2,578.6 291.2,578.6 291.2,575.8 292.2,575.8 292.2,578.6 293.2,574.6 293.2,571.8 294.2,571.8 294.2,574.6 295.2,574.6 295.2,571.8 296.2,571.6 296.2,567.9 297.2,567.9 297.2,571.6 298.2,571.6 298.2,567.9 299.2,567.9 299.2,571.6 300.2,571.1 300.2,567.5 301.2,567.5 301.2,571.1 302.2,576.8 302.2,571.0 303.2,571.0 303.2,576.8 304.2,576.8 304.2,571.0 305.2,598.3 305.2,589.9 306.2,589.9 306.2,598.3 307.2,599.4 307.2,591.5 308.2,591.5 308.2,599.4 309.2,595.6 309.2,589.7 310.2,589.7 310.2,595.6 311.2,595.6 311.2,589.7 312.2,589.7 312.2,595.6 313.2,595.6 313.2,589.7 314.2,603.9 314.2,593.8 315.2,593.8 315.2,603.9 316.2,602.0 316.2,587.9 317.2,587.9 317.2,602.0 318.2,602.0 318.2,587.9 319.2,607.0 319.2,588.4 320.2,588.4 320.2,607.0 321.2,607.0 321.2,588.4 322.2,608.8 322.2,596.8 323.2,596.8 323.2,608.8 324.2,608.8 324.2,596.8 325.2,596.8 325.2,608.8 326.2,598.8 326.2,590.1 327.2,590.1 327.2,598.8 328.2,598.8 328.2,590.1 329.2,590.5 329.2,578.0 330.2,578.0 330.2,590.5 331.2,581.2 331.2,574.9 332.2,574.9 332.2,581.2 333.2,581.2 333.2,574.9 334.2,574.9 334.2,581.2 335.2,581.2 335.2,574.9 336.2,565.2 336.2,555.5 337.2,555.5 337.2,565.2 338.2,572.7 338.2,558.7 339.2,558.7 339.2,572.7 340.2,572.7 340.2,558.7 338.3,548.2 339.5,548.2 341.2,568.8 341.2,562.3 342.2,562.3 342.2,568.8 343.2,581.2 343.2,567.8 344.2,567.8 344.2,581.2 345.2,584.9 345.2,575.1 346.2,575.1 346.2,584.9 347.2,584.9 347.2,575.1 348.2,575.1 348.2,584.9 349.2,576.4 349.2,570.4 350.2,570.4 350.2,576.4 351.2,576.4 351.2,570.4 352.2,571.7 352.2,568.8 353.2,568.8 353.2,571.7 354.2,570.8 354.2,568.3 355.2,568.3 355.2,570.8 356.2,569.6 356.2,566.6 357.2,566.6 357.2,569.6 358.2,569.6 358.2,566.6 359.2,566.6 359.2,569.6 360.2,569.6 360.2,566.6 361.2,568.2 361.2,566.2 362.2,566.2 362.2,568.2 363.2,568.2 363.2,566.2 364.2,571.1 364.2,568.1 365.2,568.1 365.2,571.1 366.2,571.8 366.2,568.7 367.2,568.7 367.2,571.8 368.2,571.8 368.2,568.7 369.2,576.0 369.2,573.1 370.2,573.1 370.2,576.0 371.2,576.0 371.2,573.1 372.2,573.1 372.2,576.0 373.2,576.0 373.2,573.1 374.2,579.7 374.2,576.4 375.2,576.4 375.2,579.7 376.2,579.7 376.2,576.4 377.2,576.4 377.2,579.7 378.2,578.7 378.2,573.0 379.2,573.0 379.2,578.7 380.2,578.7 380.2,573.0 381.2,581.1 381.2,573.8 382.2,573.8 382.2,581.1 383.2,581.1 383.2,573.8 384.2,573.8 384.2,581.1 385.2,581.6 385.2,577.0 386.2,577.0 386.2,581.6 387.2,583.4 387.2,579.0 388.2,579.0 388.2,583.4 389.2,583.4 389.2,579.0 390.2,579.0 390.2,583.4 391.2,589.4 391.2,583.8 392.2,583.8 392.2,589.4 393.2,589.4 393.2,583.8 394.2,592.6 394.2,588.4 395.2,588.4 395.2,592.6 396.2,595.1 396.2,590.6 397.2,590.6 397.2,595.1 398.2,595.1 398.2,590.6 399.2,590.6 399.2,595.1 400.2,602.5 400.2,595.0 401.2,595.0 401.2,602.5 402.2,602.5 402.2,595.0 403.2,595.0 403.2,602.5 404.2,602.5 404.2,595.0 405.2,603.8 405.2,593.9 406.2,593.9 406.2,603.8 407.2,603.8 407.2,593.9 408.2,593.9 408.2,603.8 409.2,603.8 409.2,593.9 410.2,603.8 410.2,591.7 411.2,591.7 411.2,603.8 412.2,603.8 412.2,591.7 413.2,613.4 413.2,603.9 414.2,603.9 414.2,613.4 415.2,620.9 415.2,609.2 416.2,609.2 416.2,620.9 417.2,628.7 417.2,617.6 418.2,617.6 418.2,628.7 419.2,626.2 419.2,613.8 420.2,613.8 420.2,626.2 421.2,626.2 421.2,613.8 422.2,613.8 422.2,626.2 423.2,626.2 423.2,613.8 424.2,607.5 424.2,599.6 425.2,599.6 425.2,607.5 426.2,608.9 426.2,603.5 427.2,603.5 427.2,608.9 428.2,608.9 428.2,603.5 429.2,603.5 429.2,608.9 430.2,599.2 430.2,596.3 431.2,596.3 431.2,599.2 432.2,599.2 432.2,596.3 433.2,596.3 433.2,599.2 434.2,601.0 434.2,598.3 435.2,598.3 435.2,601.0 436.2,600.6 436.2,597.7 437.2,597.7 437.2,600.6 438.2,603.0 438.2,599.8 439.2,599.8 439.2,603.0 440.2,603.5 440.2,601.7 441.2,601.7 441.2,603.5 442.2,603.5 442.2,601.7 443.2,600.2 443.2,597.8 444.2,597.8 444.2,600.2 445.2,595.4 445.2,594.1 446.2,594.1 446.2,595.4 447.2,590.3 447.2,587.7 448.2,587.7 448.2,590.3 449.2,586.8 449.2,585.3 450.2,585.3 450.2,586.8 451.2,586.8 451.2,585.3 452.2,585.3 452.2,586.8 453.2,586.8 453.2,585.3 454.2,581.0 454.2,579.3 455.2,579.3 455.2,581.0 456.2,581.0 456.2,579.3 457.2,579.3 457.2,581.0 458.2,585.1 458.2,581.8 459.2,581.8 459.2,585.1 460.2,585.1 460.2,581.8 461.2,581.8 461.2,585.1 462.2,598.1 462.2,592.6 463.2,592.6 463.2,598.1 464.2,602.1 464.2,596.2 465.2,596.2 465.2,602.1 466.2,602.1 466.2,596.2 467.2,597.2 467.2,593.0 468.2,593.0 468.2,597.2 469.2,600.0 469.2,593.3 470.2,593.3 470.2,600.0 471.2,600.0 471.2,593.3 472.2,602.0 472.2,594.4 473.2,594.4 473.2,602.0 474.2,601.4 474.2,595.5 475.2,595.5 475.2,601.4 476.2,601.4 476.2,595.5 477.2,596.4 477.2,593.5 478.2,593.5 478.2,596.4 479.2,597.7 479.2,594.8 480.2,594.8 480.2,597.7 481.2,597.7 481.2,594.8 482.2,594.8 482.2,597.7 483.2,597.8 483.2,594.4 484.2,594.4 484.2,597.8 485.2,596.5 485.2,593.5 486.2,593.5 486.2,596.5 487.2,596.5 487.2,593.5 488.2,590.6 488.2,588.1 489.2,588.1 489.2,590.6 490.2,590.6 490.2,588.1 491.2,595.6 491.2,592.2 492.2,592.2 492.2,595.6 493.2,595.6 493.2,592.2 494.2,592.2 494.2,595.6 495.2,595.6 495.2,592.2 496.2,599.6 496.2,596.7 497.2,596.7 497.2,599.6 498.2,594.7 498.2,592.1 499.2,592.1 499.2,594.7 500.2,594.7 500.2,592.1 501.2,588.6 501.2,584.9 502.2,584.9 502.2,588.6 503.2,585.4 503.2,581.8 504.2,581.8 504.2,585.4 505.2,585.4 505.2,581.8 506.2,581.8 506.2,585.4 507.2,585.4 507.2,581.8 508.2,589.0 508.2,584.0 509.2,584.0 509.2,589.0 510.2,591.9 510.2,587.8 511.2,587.8 511.2,591.9 512.2,600.3 512.2,597.2 513.2,597.2 513.2,600.3 514.2,611.2 514.2,607.1 515.2,607.1 515.2,611.2 516.2,611.2 516.2,607.1 517.2,603.3 517.2,599.3 518.2,599.3 518.2,603.3 519.2,603.3 519.2,599.3 520.2,575.3 520.2,571.6 521.2,571.6 521.2,575.3 522.2,575.3 522.2,571.6 523.2,555.0 523.2,548.2 524.2,548.2 524.2,555.0 525.2,555.0 525.2,548.2 526.2,562.3 526.2,557.2 527.2,557.2 527.2,562.3 528.2,562.1 528.2,557.0 529.2,557.0 529.2,562.1 530.2,562.1 530.2,557.0 531.2,557.0 531.2,562.1 532.2,562.1 532.2,557.0 533.2,562.1 533.2,555.8 534.2,555.8 534.2,562.1 535.2,562.1 535.2,555.8 536.2,555.8 536.2,562.1 537.2,562.1 537.2,555.8 538.2,566.1 538.2,556.0 539.2,556.0 539.2,566.1 540.2,566.1 540.2,556.0 541.2,566.0 541.2,559.7 542.2,559.7 542.2,566.0 543.2,566.0 543.2,559.7 544.2,572.3 544.2,567.1 545.2,567.1 545.2,572.3 546.2,572.3 546.2,567.1 547.2,586.0 547.2,583.0 548.2,583.0 548.2,586.0 549.2,586.0 549.2,583.0 550.2,601.4 550.2,598.6 551.2,598.6 551.2,601.4 552.2,601.4 552.2,598.6 553.2,615.3 553.2,610.5 554.2,610.5 554.2,615.3 555.2,615.3 555.2,610.5 556.2,610.5 556.2,615.3 557.2,615.3 557.2,610.5 558.2,658.2 558.2,653.5 559.2,653.5 559.2,658.2 560.2,658.2 560.2,653.5 561.2,653.5 561.2,658.2 562.2,639.3 562.2,636.2 563.2,636.2 563.2,639.3 564.2,639.3 564.2,636.2 565.2,633.1 565.2,629.1 566.2,629.1 566.2,633.1 567.2,633.1 567.2,629.1 568.2,627.6 568.2,624.4 569.2,624.4 569.2,627.6 570.2,627.6 570.2,624.4 571.2,618.1 571.2,612.0 572.2,612.0 572.2,618.1 573.2,608.0 573.2,602.4 574.2,602.4 574.2,608.0 575.2,608.0 575.2,602.4 576.2,602.4 576.2,608.0 577.2,608.0 577.2,602.4 578.2,603.8 578.2,598.7 579.2,598.7 579.2,603.8 580.2,606.2 580.2,602.0 581.2,602.0 581.2,606.2 582.2,611.9 582.2,601.8 583.2,601.8 583.2,611.9 584.2,611.9 584.2,601.8 585.2,601.8 585.2,611.9 586.2,611.9 586.2,601.8 587.2,614.8 587.2,606.5 588.2,606.5 588.2,614.8 589.2,614.8 589.2,606.5 590.2,606.5 590.2,614.8 591.2,614.8 591.2,606.5 592.2,613.6 592.2,598.8 593.2,598.8 593.2,613.6 594.2,613.6 594.2,598.8 595.2,598.8 595.2,613.6 596.2,609.7 596.2,598.5 597.2,598.5 597.2,609.7 598.2,609.7 598.2,598.5 599.2,598.5 599.2,609.7 600.2,609.1 600.2,596.8 601.2,596.8 601.2,609.1 602.2,609.1 602.2,596.8 603.2,596.8 603.2,609.1 604.2,610.7 604.2,595.0 605.2,595.0 605.2,610.7 606.2,610.7 606.2,595.0 607.2,595.0 607.2,610.7 608.2,613.4 608.2,606.9 609.2,606.9 609.2,613.4 610.2,613.0 610.2,605.7 611.2,605.7 611.2,613.0 612.2,608.5 612.2,604.3 613.2,604.3 613.2,608.5 614.2,608.5 614.2,604.3 615.2,608.0 615.2,602.8 616.2,602.8 616.2,608.0 617.2,608.0 617.2,602.8 618.2,602.8 618.2,608.0 619.2,607.0 619.2,602.6 620.2,602.6 620.2,607.0 621.2,607.0 621.2,602.6 622.2,614.8 622.2,610.7 623.2,610.7 623.2,614.8 624.2,620.7 624.2,617.1 625.2,617.1 625.2,620.7 626.2,620.7 626.2,617.1 627.2,628.7 627.2,626.8 628.2,626.8 628.2,628.7 629.2,628.7 629.2,626.8 630.2,628.5 630.2,626.0 631.2,626.0 631.2,628.5 632.2,625.0 632.2,622.6 633.2,622.6 633.2,625.0 634.2,625.0 634.2,622.6 635.2,620.9 635.2,616.8 636.2,616.8 636.2,620.9 637.2,620.9 637.2,616.8 638.2,616.8 638.2,620.9 639.2,620.9 639.2,616.8 640.2,610.3 640.2,607.7 641.2,607.7 641.2,610.3 642.2,613.3 642.2,610.6 643.2,610.6 643.2,613.3 644.2,613.3 644.2,610.6 645.2,610.6 645.2,613.3 646.2,627.6 646.2,624.1 647.2,624.1 647.2,627.6 648.2,627.6 648.2,624.1 649.2,631.9 649.2,629.0 650.2,629.0 650.2,631.9 651.2,631.9 651.2,629.0 652.2,625.1 652.2,622.6 653.2,622.6 653.2,625.1 654.2,625.1 654.2,622.6 655.2,617.0 655.2,614.2 656.2,614.2 656.2,617.0 657.2,617.0 657.2,614.2 658.2,607.7 658.2,603.1 659.2,603.1 659.2,607.7 660.2,605.3 660.2,601.3 661.2,601.3 661.2,605.3 662.2,605.3 662.2,601.3 663.2,595.9 663.2,590.0 664.2,590.0 664.2,595.9 665.2,595.9 665.2,590.0 666.2,590.0 666.2,595.9 667.2,595.9 667.2,590.0 668.2,580.7 668.2,575.3 669.2,575.3 669.2,580.7 670.2,576.0 670.2,570.3 671.2,570.3 671.2,576.0 672.2,576.0 672.2,570.3 673.2,570.3 673.2,576.0 674.2,581.2 674.2,574.3 675.2,574.3 675.2,581.2 676.2,581.2 676.2,574.3 677.2,574.3 677.2,581.2 678.2,579.2 678.2,574.8 679.2,574.8 679.2,579.2 680.2,579.2 680.2,574.8 681.2,574.8 681.2,579.2 682.2,579.2 682.2,574.8 683.2,580.7 683.2,578.5 684.2,578.5 684.2,580.7 685.2,580.7 685.2,577.3 686.2,577.3 686.2,580.7 687.2,581.1 687.2,575.3 688.2,575.3 688.2,581.1 689.2,581.1 689.2,575.3 690.2,584.2 690.2,579.9 691.2,579.9 691.2,584.2 692.2,588.0 692.2,581.6 693.2,581.6 693.2,588.0 694.2,588.0 694.2,581.6 695.2,581.6 695.2,588.0 696.2,590.3 696.2,584.1 697.2,584.1 697.2,590.3 698.2,587.6 698.2,581.0 699.2,581.0 699.2,587.6 700.2,587.9 700.2,582.8 701.2,582.8 701.2,587.9 702.2,587.9 702.2,582.8 703.2,582.8 703.2,587.9 704.2,587.9 704.2,582.8 705.2,593.3 705.2,584.5 706.2,584.5 706.2,593.3 707.2,593.3 707.2,584.5 708.2,587.0 708.2,580.2 709.2,580.2 709.2,587.0 710.2,587.0 710.2,580.2 711.2,580.2 711.2,587.0 712.2,585.6 712.2,582.1 713.2,582.1 713.2,585.6 714.2,585.6 714.2,582.1 715.2,583.7 715.2,579.8 716.2,579.8 716.2,583.7 717.2,581.3 717.2,577.6 718.2,577.6 718.2,581.3 719.2,583.9 719.2,580.1 720.2,580.1 720.2,583.9 721.2,585.7 721.2,581.7 722.2,581.7 722.2,585.7 723.2,585.7 723.2,581.7 724.2,581.7 724.2,585.7 725.2,592.5 725.2,589.3 726.2,589.3 726.2,592.5 727.2,592.5 727.2,589.3 728.2,589.3 728.2,592.5 729.2,592.5 729.2,589.3 730.2,598.7 730.2,595.5 731.2,595.5 731.2,598.7 732.2,598.7 732.2,595.5 733.2,607.1 733.2,603.8 734.2,603.8 734.2,607.1 735.2,611.6 735.2,609.6 736.2,609.6 736.2,611.6 737.2,611.6 737.2,609.6 738.2,614.3 738.2,611.1 739.2,611.1 739.2,614.3 740.2,614.3 740.2,611.7 741.2,611.7 741.2,614.3 742.2,614.3 742.2,611.7 743.2,606.5 743.2,602.8 744.2,602.8 744.2,606.5 745.2,606.5 745.2,602.8 746.2,595.2 746.2,591.0 747.2,591.0 747.2,595.2 748.2,595.2 748.2,591.0 749.2,587.8 749.2,583.6 750.2,583.6 750.2,587.8 751.2,587.8 751.2,583.6 752.2,583.6 752.2,587.8 753.2,581.3 753.2,577.1 754.2,577.1 754.2,581.3 755.2,581.3 755.2,577.1 756.2,581.9 756.2,577.5 757.2,577.5 757.2,581.9 758.2,582.7 758.2,578.4 759.2,578.4 759.2,582.7 760.2,582.7 760.2,578.4 761.2,578.4 761.2,582.7 762.2,582.7 762.2,578.4 763.2,585.9 763.2,581.8 764.2,581.8 764.2,585.9 765.2,586.1 765.2,581.6 766.2,581.6 766.2,586.1 767.2,586.4 767.2,583.1 768.2,583.1 768.2,586.4 769.2,588.5 769.2,584.7 770.2,584.7 770.2,588.5 771.2,588.5 771.2,584.7 772.2,588.0 772.2,584.9 773.2,584.9 773.2,588.0 774.2,593.4 774.2,590.5 775.2,590.5 775.2,593.4 776.2,597.4 776.2,593.3 777.2,593.3 777.2,597.4 778.2,597.4 778.2,593.3 779.2,605.4 779.2,600.4 780.2,600.4 780.2,605.4 781.2,605.4 781.2,600.4 782.2,612.9 782.2,608.5 783.2,608.5 783.2,612.9 784.2,612.9 784.2,608.5 785.2,614.6 785.2,610.0 786.2,610.0 786.2,614.6 787.2,613.0 787.2,609.6 788.2,609.6 788.2,613.0 789.2,613.0 789.2,609.6 790.2,609.6 790.2,613.0 791.2,614.5 791.2,609.9 792.2,609.9 792.2,614.5 793.2,613.4 793.2,611.1 794.2,611.1 794.2,613.4 795.2,614.9 795.2,611.8 796.2,611.8 796.2,614.9 797.2,614.9 797.2,611.8 798.2,611.8 798.2,614.9 799.2,614.9 799.2,611.8 800.2,615.9 800.2,610.9 801.2,610.9 801.2,615.9 802.2,615.9 802.2,611.5 803.2,611.5 803.2,615.9 804.2,615.9 804.2,611.5 805.2,616.7 805.2,612.8 806.2,612.8 806.2,616.7 807.2,616.7 807.2,612.8 808.2,612.8 808.2,616.7 809.2,615.5 809.2,613.0 810.2,613.0 810.2,615.5 811.2,615.5 811.2,613.0 812.2,613.0 812.2,615.5 813.2,603.1 813.2,600.9 814.2,600.9 814.2,603.1 815.2,603.1 815.2,600.9 816.2,600.9 816.2,603.1 817.2,590.4 817.2,586.9 818.2,586.9 818.2,590.4 819.2,590.4 819.2,586.9 820.2,586.9 820.2,590.4 821.2,587.0 821.2,584.4 822.2,584.4 822.2,587.0 822.2,587.0" stroke="#ff0000" stroke-width="3.0"/>
<path d="M146.8,578.8 149.2,585.2 152.4,593.2 156.5,599.7 159.7,591.6 162.1,582.0 164.5,565.9 166.9,548.2 169.3,533.7 172.5,524.9 174.9,522.5 177.4,525.7 180.6,532.1 183.0,545.0 185.4,559.5 187.8,572.3 191.8,580.4 195.8,586.0 199.1,580.4 201.5,572.3 203.9,562.7 206.3,551.4 208.7,540.2 211.1,532.1 214.3,529.7 216.7,532.1 220.0,541.8 223.2,551.4 226.4,559.5 228.8,572.3 231.2,585.2 233.6,599.7 236.0,614.1 238.4,623.8 241.7,627.8 244.1,629.4 246.5,622.2 248.9,614.1 251.3,604.5 253.7,596.4 256.9,590.0 259.3,587.6 262.6,587.6 265.8,586.0 269.0,580.4 271.4,573.9 274.6,568.3 277.8,566.7 281.9,569.1 285.1,569.9 288.3,569.1 291.5,565.9 294.7,562.7 297.9,561.1 300.3,564.3 302.8,570.7 305.2,582.0 307.6,596.4 310.0,609.3 312.4,622.2 314.0,630.2 317.2,633.4 319.6,627.0 322.0,617.3 324.5,607.7 326.9,602.9 330.1,599.7 332.5,598.9 334.9,601.3 338.1,607.7 341.3,611.7 344.6,610.9 347.8,608.5 350.2,602.9 352.6,596.4 355.0,590.0 357.4,583.6 360.6,575.5 363.8,572.3 366.3,573.9 368.7,578.8 371.1,586.8 374.3,593.2 378.3,596.4 381.5,593.2 383.9,590.0 386.4,582.0 389.6,577.1 392.9,574.7 396.1,577.1 398.5,583.6 400.9,591.6 403.3,599.7 405.7,606.1 408.9,609.3 412.2,604.5 415.4,596.4 418.6,590.0 422.6,586.8 425.8,590.0 429.0,594.8 432.3,593.2 435.5,588.4 438.7,580.4 441.9,572.3 445.1,567.5 448.3,566.7 452.3,569.1 455.6,575.5 458.8,580.4 462.0,587.6 465.2,590.0 469.2,589.2 473.2,588.4 476.5,591.6 478.9,596.4 481.3,602.9 484.5,609.3 487.7,611.7 491.7,610.9 495.0,606.1 498.2,599.7 502.2,594.8 506.2,592.4 510.2,590.0 512.6,586.8 515.0,578.8 518.3,569.1 521.5,561.1 524.7,554.6 527.9,546.6 531.1,532.1 534.3,524.1 537.6,518.5 540.8,522.5 543.2,532.1 544.8,546.6 546.4,562.7 548.0,582.0 549.6,599.7 551.2,615.7 552.8,633.4 554.4,647.9 556.0,659.1 557.7,664.8 560.1,655.9 562.5,643.1 564.9,631.8 567.3,625.4 570.5,622.2 573.7,618.9 576.9,615.7 580.2,607.7 582.6,598.0 585.0,590.0 587.4,585.2 590.6,584.4 593.8,586.8 597.0,590.8 601.1,591.6 604.3,588.4 607.5,578.8 610.7,574.7 613.9,575.5 617.1,582.0 619.6,591.6 622.9,598.0 626.1,602.9 629.3,603.7 633.3,603.7 636.5,605.3 639.7,610.1 643.8,613.3 647.8,614.9 651.8,613.3 655.8,610.1 659.8,606.1 663.9,603.7 667.1,599.7 670.3,594.8 673.5,586.8 676.7,580.4 680.7,574.7 684.0,578.0 687.2,585.2 690.4,594.8 693.6,601.3 697.6,605.3 700.8,606.1 704.9,605.3 707.3,602.9 710.5,594.8 713.7,585.2 716.9,578.0 720.1,570.7 723.3,568.3 726.6,570.7 729.8,578.8 732.2,591.6 734.6,602.9 737.0,614.1 739.4,623.8 741.8,623.8 744.2,614.1 746.7,602.9 749.1,591.6 751.5,582.0 754.7,573.9 757.9,571.5 761.9,572.3 765.1,575.5 768.4,582.0 771.6,593.2 774.8,604.5 778.0,615.7 781.2,627.0 784.4,635.8 786.8,636.6 790.1,630.2 793.3,622.2 796.5,614.1 799.7,606.1 802.1,602.9 805.3,603.7 808.6,606.9 811.0,607.7 814.2,601.3 817.4,594.8 819.8,590.0 822.2,586.8" stroke="#0000ff" stroke-width="3.2"/>
</g>
<rect x="146" y="463.6" width="698" height="253.69999999999993" fill="none" stroke="#000" stroke-width="2.1"/>
<path d="M185.8,457.1V463.6M185.8,717.3V723.8M242.3,457.1V463.6M242.3,717.3V723.8M297.0,457.1V463.6M297.0,717.3V723.8M353.5,457.1V463.6M353.5,717.3V723.8M410.0,457.1V463.6M410.0,717.3V723.8M461.0,457.1V463.6M461.0,717.3V723.8M517.5,457.1V463.6M517.5,717.3V723.8M572.2,457.1V463.6M572.2,717.3V723.8M628.7,457.1V463.6M628.7,717.3V723.8M683.3,457.1V463.6M683.3,717.3V723.8M739.8,457.1V463.6M739.8,717.3V723.8M796.3,457.1V463.6M796.3,717.3V723.8M139.5,484.7H146M844,484.7H850.5M139.5,590.5H146M844,590.5H850.5M139.5,696.2H146M844,696.2H850.5" stroke="#000" stroke-width="2.1" fill="none"/>
<g font-family="'Liberation Serif','Times New Roman',serif" font-size="35.5" text-anchor="middle"><text x="155.3" y="749.6">S</text><text x="210.8" y="749.6">O</text><text x="266.4" y="749.6">N</text><text x="322.0" y="749.6">D</text><text x="378.5" y="749.6">J</text><text x="435.5" y="749.6">F</text><text x="486.0" y="749.6">M</text><text x="541.6" y="749.6">A</text><text x="597.2" y="749.6">M</text><text x="652.8" y="749.6">J</text><text x="708.4" y="749.6">J</text><text x="764.9" y="749.6">A</text><text x="820.5" y="749.6">S</text><text transform="translate(156.4,782.6) scale(0.962,1)">2014</text><text transform="translate(322.0,782.6) scale(0.962,1)">2015</text></g>
<g font-family="'Liberation Sans',Arial,sans-serif" font-size="42" text-anchor="end"><text x="127.0" y="499.7">0.5</text><text x="127.0" y="605.4">0</text><text x="127.0" y="711.2">-0.5</text></g>
<text transform="translate(27.8,592) rotate(-90)" font-family="'Liberation Serif','Times New Roman',serif" font-size="35" text-anchor="middle">U (m/s)</text>
<text transform="translate(517.0,430.7) scale(0.96,1)" font-family="'Liberation Serif','Times New Roman',serif" font-size="44.5" text-anchor="middle">13°N/130°E</text>
<text x="0" y="463" font-family="'Liberation Sans',Arial,sans-serif" font-weight="bold" font-size="29">B</text>
<clipPath id="cC"><rect x="146" y="863.5" width="698" height="254.5999999999999"/></clipPath>
<g clip-path="url(#cC)" fill="none" stroke-width="2.8" stroke-linejoin="round" stroke-linecap="butt">
<path d="M150.8,954.8 150.8,952.7 151.8,952.7 151.8,954.8 152.8,954.8 152.8,952.7 153.8,965.7 153.8,962.6 154.8,962.6 154.8,965.7 155.8,965.7 155.8,962.6 156.8,970.8 156.8,969.2 157.8,969.2 157.8,970.8 158.8,975.5 158.8,972.3 159.8,972.3 159.8,975.5 160.8,979.3 160.8,976.9 161.8,976.9 161.8,979.3 162.8,988.5 162.8,984.5 163.8,984.5 163.8,988.5 164.8,988.5 164.8,984.5 165.8,995.9 165.8,993.3 166.8,993.3 166.8,995.9 167.8,995.9 167.8,993.3 168.8,993.3 168.8,995.9 169.8,1007.8 169.8,1005.3 170.8,1005.3 170.8,1007.8 171.8,1007.8 171.8,1005.3 172.8,1033.9 172.8,1028.9 173.8,1028.9 173.8,1033.9 174.8,1033.9 174.8,1028.9 175.8,1028.9 175.8,1033.9 176.8,1044.9 176.8,1039.0 177.8,1039.0 177.8,1044.9 178.8,1044.9 178.8,1039.0 179.8,1039.0 179.8,1044.9 180.8,1044.9 180.8,1039.0 181.8,1033.5 181.8,1030.4 182.8,1030.4 182.8,1033.5 183.8,1034.9 183.8,1032.0 184.8,1032.0 184.8,1034.9 185.8,1034.9 185.8,1032.0 186.8,1032.0 186.8,1034.9 187.8,1034.9 187.8,1032.0 188.8,1064.3 188.8,1057.4 189.8,1057.4 189.8,1064.3 190.8,1030.7 190.8,1026.5 191.8,1026.5 191.8,1030.7 192.8,1030.7 192.8,1026.5 193.8,1026.5 193.8,1030.7 194.8,1030.7 194.8,1026.5 195.8,1001.2 195.8,998.3 196.8,998.3 196.8,1001.2 197.8,1001.2 197.8,998.3 198.8,1002.1 198.8,999.3 199.8,999.3 199.8,1002.1 200.8,1003.7 200.8,999.2 201.8,999.2 201.8,1003.7 202.8,1006.5 202.8,1002.3 203.8,1002.3 203.8,1006.5 204.8,1006.5 204.8,1002.3 205.8,1006.4 205.8,1001.0 206.8,1001.0 206.8,1006.4 207.8,1004.1 207.8,1000.1 208.8,1000.1 208.8,1004.1 209.8,1005.6 209.8,1002.0 210.8,1002.0 210.8,1005.6 211.8,1005.6 211.8,1002.0 212.8,1012.0 212.8,1009.2 213.8,1009.2 213.8,1012.0 214.8,1012.0 214.8,1009.2 215.8,1009.2 215.8,1012.0 216.8,1012.0 216.8,1009.2 217.8,1020.6 217.8,1018.0 218.8,1018.0 218.8,1020.6 219.8,1020.6 219.8,1018.0 220.8,1018.0 220.8,1020.6 221.8,1020.6 221.8,1018.0 222.8,1003.3 222.8,999.5 223.8,999.5 223.8,1003.3 224.8,998.7 224.8,994.0 225.8,994.0 225.8,998.7 226.8,998.7 226.8,994.0 227.8,987.4 227.8,984.5 228.8,984.5 228.8,987.4 229.8,982.7 229.8,979.0 230.8,979.0 230.8,982.7 231.8,982.7 231.8,979.0 232.8,979.0 232.8,982.7 233.8,982.7 233.8,979.0 234.8,974.0 234.8,971.6 235.8,971.6 235.8,974.0 236.8,974.0 236.8,971.6 237.8,971.6 237.8,974.0 238.8,974.0 238.8,971.6 239.8,970.2 239.8,967.3 240.8,967.3 240.8,970.2 241.8,970.2 241.8,967.3 242.8,980.7 242.8,977.4 243.8,977.4 243.8,980.7 244.8,980.7 244.8,977.4 245.8,987.4 245.8,984.8 246.8,984.8 246.8,987.4 247.8,987.4 247.8,984.8 248.8,984.8 248.8,987.4 249.8,987.4 249.8,984.8 250.8,995.2 250.8,992.9 251.8,992.9 251.8,995.2 252.8,995.2 252.8,992.9 253.8,997.3 253.8,993.0 254.8,993.0 254.8,997.3 255.8,997.3 255.8,993.0 256.8,993.2 256.8,988.4 257.8,988.4 257.8,993.2 258.8,993.2 258.8,988.4 259.8,988.4 259.8,993.2 260.8,987.9 260.8,985.2 261.8,985.2 261.8,987.9 262.8,987.9 262.8,985.2 263.8,999.5 263.8,996.2 264.8,996.2 264.8,999.5 265.8,1010.1 265.8,1006.3 266.8,1006.3 266.8,1010.1 267.8,1010.1 267.8,1006.3 268.8,1006.3 268.8,1010.1 269.8,1025.1 269.8,1021.8 270.8,1021.8 270.8,1025.1 271.8,1025.1 271.8,1021.8 272.8,1021.8 272.8,1025.1 273.8,1025.1 273.8,1021.8 274.8,1041.3 274.8,1032.9 275.8,1032.9 275.8,1041.3 276.8,1041.3 276.8,1032.9 277.8,1053.7 277.8,1048.7 278.8,1048.7 278.8,1053.7 279.8,1050.4 279.8,1047.5 280.8,1047.5 280.8,1050.4 281.8,1050.4 281.8,1047.5 282.8,1034.6 282.8,1031.2 283.8,1031.2 283.8,1034.6 284.8,1034.6 284.8,1031.2 285.8,1021.3 285.8,1018.7 286.8,1018.7 286.8,1021.3 287.8,1018.6 287.8,1014.6 288.8,1014.6 288.8,1018.6 289.8,1018.6 289.8,1014.6 290.8,1014.6 290.8,1018.6 291.8,1018.3 291.8,1014.3 292.8,1014.3 292.8,1018.3 293.8,1018.3 293.8,1014.3 294.8,1014.3 294.8,1018.3 295.8,1018.3 295.8,1014.3 296.8,1023.5 296.8,1017.4 297.8,1017.4 297.8,1023.5 298.8,1023.5 298.8,1017.4 299.8,1028.6 299.8,1023.0 300.8,1023.0 300.8,1028.6 301.8,1028.6 301.8,1023.0 302.8,1029.9 302.8,1024.1 303.8,1024.1 303.8,1029.9 304.8,1029.9 304.8,1024.1 305.8,1023.7 305.8,1019.7 306.8,1019.7 306.8,1023.7 307.8,1023.7 307.8,1019.7 308.8,1019.7 308.8,1023.7 309.8,1023.7 309.8,1019.7 310.8,1014.0 310.8,1008.6 311.8,1008.6 311.8,1014.0 312.8,1014.0 312.8,1008.6 313.8,1008.6 313.8,1014.0 314.8,1006.8 314.8,1002.9 315.8,1002.9 315.8,1006.8 316.8,1006.8 316.8,1002.9 317.8,1002.9 317.8,1006.8 318.8,1006.8 318.8,1002.9 319.8,1002.6 319.8,998.6 320.8,998.6 320.8,1002.6 321.8,1000.1 321.8,995.7 322.8,995.7 322.8,1000.1 323.8,1000.1 323.8,995.7 324.8,991.1 324.8,985.9 325.8,985.9 325.8,991.1 326.8,991.1 326.8,985.9 327.8,985.9 327.8,991.1 328.8,986.4 328.8,981.2 329.8,981.2 329.8,986.4 330.8,986.4 330.8,981.2 331.8,983.1 331.8,979.2 332.8,979.2 332.8,983.1 333.8,983.1 333.8,979.2 334.8,982.1 334.8,977.3 335.8,977.3 335.8,982.1 336.8,982.1 336.8,977.3 337.8,986.9 337.8,981.6 338.8,981.6 338.8,986.9 339.8,986.9 339.8,981.6 340.8,998.0 340.8,992.3 341.8,992.3 341.8,998.0 342.8,998.0 342.8,992.3 343.8,1007.9 343.8,1001.7 344.8,1001.7 344.8,1007.9 345.8,1007.9 345.8,1001.7 346.8,1007.5 346.8,1002.4 347.8,1002.4 347.8,1007.5 348.8,1007.5 348.8,1002.4 349.8,1002.4 349.8,1007.5 350.8,1014.5 350.8,1008.5 351.8,1008.5 351.8,1014.5 352.8,1014.5 352.8,1008.5 353.8,1008.5 353.8,1014.5 354.8,1014.5 354.8,1008.5 355.8,1021.5 355.8,1014.3 356.8,1014.3 356.8,1021.5 357.8,1021.5 357.8,1014.3 358.8,1014.3 358.8,1021.5 359.8,1021.5 359.8,1014.3 360.8,1003.9 360.8,998.9 361.8,998.9 361.8,1003.9 362.8,1002.6 362.8,998.2 363.8,998.2 363.8,1002.6 364.8,1002.6 364.8,998.2 365.8,1005.6 365.8,999.6 366.8,999.6 366.8,1005.6 367.8,1005.6 367.8,999.6 368.8,1007.9 368.8,1002.2 369.8,1002.2 369.8,1007.9 370.8,1007.9 370.8,1002.2 371.8,1002.2 371.8,1007.9 372.8,1009.2 372.8,1000.2 373.8,1000.2 373.8,1009.2 374.8,1009.2 374.8,1000.2 375.8,1000.2 375.8,1009.2 376.8,1009.2 376.8,1000.2 377.8,1010.9 377.8,1003.0 378.8,1003.0 378.8,1010.9 379.8,1007.8 379.8,999.2 380.8,999.2 380.8,1007.8 381.8,1007.8 381.8,999.2 382.8,1009.8 382.8,1002.3 383.8,1002.3 383.8,1009.8 384.8,1009.8 384.8,1002.3 385.8,1005.4 385.8,1000.6 386.8,1000.6 386.8,1005.4 387.8,1005.4 387.8,1000.6 388.8,1000.6 388.8,1005.4 389.8,1005.4 389.8,1000.6 390.8,1001.5 390.8,997.5 391.8,997.5 391.8,1001.5 392.8,1001.5 392.8,997.5 393.8,997.5 393.8,1001.5 394.8,1001.5 394.8,997.5 395.8,996.4 395.8,989.1 396.8,989.1 396.8,996.4 397.8,996.4 397.8,989.1 398.8,989.1 398.8,996.4 399.8,996.4 399.8,989.1 400.8,987.2 400.8,982.2 401.8,982.2 401.8,987.2 402.8,987.2 402.8,982.2 403.8,982.2 403.8,987.2 404.8,981.5 404.8,977.0 405.8,977.0 405.8,981.5 406.8,981.5 406.8,977.0 407.8,977.0 407.8,981.5 408.8,977.4 408.8,973.4 409.8,973.4 409.8,977.4 410.8,977.4 410.8,973.4 411.8,978.5 411.8,975.5 412.8,975.5 412.8,978.5 413.8,978.5 413.8,975.5 414.8,991.7 414.8,984.6 415.8,984.6 415.8,991.7 416.8,1004.9 416.8,998.3 417.8,998.3 417.8,1004.9 418.8,1008.9 418.8,998.7 419.8,998.7 419.8,1008.9 420.8,1008.9 420.8,998.7 421.8,998.7 421.8,1008.9 422.8,992.8 422.8,986.9 423.8,986.9 423.8,992.8 424.8,992.8 424.8,986.9 425.8,986.9 425.8,992.8 426.8,987.5 426.8,982.6 427.8,982.6 427.8,987.5 428.8,987.5 428.8,982.6 429.8,986.5 429.8,984.1 430.8,984.1 430.8,986.5 431.8,986.0 431.8,981.9 432.8,981.9 432.8,986.0 433.8,983.2 433.8,979.0 434.8,979.0 434.8,983.2 435.8,983.2 435.8,979.0 436.8,984.5 436.8,982.8 437.8,982.8 437.8,984.5 438.8,984.5 438.8,982.8 439.8,982.8 439.8,984.5 440.8,989.8 440.8,986.4 441.8,986.4 441.8,989.8 442.8,990.4 442.8,987.7 443.8,987.7 443.8,990.4 444.8,990.4 444.8,987.7 445.8,987.7 445.8,990.4 446.8,988.5 446.8,985.3 447.8,985.3 447.8,988.5 448.8,987.4 448.8,985.0 449.8,985.0 449.8,987.4 450.8,987.4 450.8,984.7 451.8,984.7 451.8,987.4 452.8,987.4 452.8,984.7 453.8,990.3 453.8,986.9 454.8,986.9 454.8,990.3 455.8,990.3 455.8,986.9 456.8,991.2 456.8,987.6 457.8,987.6 457.8,991.2 458.8,991.2 458.8,987.6 459.8,987.6 459.8,991.2 460.8,987.2 460.8,983.7 461.8,983.7 461.8,987.2 462.8,987.2 462.8,983.7 463.8,979.0 463.8,975.0 464.8,975.0 464.8,979.0 465.8,982.2 465.8,976.6 466.8,976.6 466.8,982.2 467.8,982.3 467.8,976.3 468.8,976.3 468.8,982.3 469.8,978.2 469.8,963.5 470.8,963.5 470.8,978.2 471.8,978.2 471.8,963.5 472.8,963.5 472.8,978.2 473.8,978.2 473.8,963.5 474.8,939.0 474.8,936.0 475.8,936.0 475.8,939.0 476.8,942.8 476.8,939.3 477.8,939.3 477.8,942.8 478.8,942.8 478.8,939.3 479.8,939.3 479.8,942.8 480.8,954.9 480.8,951.4 481.8,951.4 481.8,954.9 482.8,963.9 482.8,959.2 483.8,959.2 483.8,963.9 484.8,963.9 484.8,959.2 485.8,962.0 485.8,958.8 486.8,958.8 486.8,962.0 487.8,962.0 487.8,958.8 488.8,968.4 488.8,962.6 489.8,962.6 489.8,968.4 490.8,968.4 490.8,962.6 491.8,992.5 491.8,985.2 492.8,985.2 492.8,992.5 493.8,992.5 493.8,985.2 494.8,985.2 494.8,992.5 495.8,992.5 495.8,985.2 496.8,982.2 496.8,979.5 497.8,979.5 497.8,982.2 498.8,982.2 498.8,979.5 499.8,974.9 499.8,970.3 500.8,970.3 500.8,974.9 501.8,974.9 501.8,970.3 502.8,970.8 502.8,967.3 503.8,967.3 503.8,970.8 504.8,976.3 504.8,972.1 505.8,972.1 505.8,976.3 506.8,976.3 506.8,972.1 507.8,972.1 507.8,976.3 508.8,985.7 508.8,981.5 509.8,981.5 509.8,985.7 510.8,985.7 510.8,981.5 511.8,981.5 511.8,985.7 512.8,985.3 512.8,980.8 513.8,980.8 513.8,985.3 514.8,986.5 514.8,982.6 515.8,982.6 515.8,986.5 516.8,991.0 516.8,986.8 517.8,986.8 517.8,991.0 518.8,991.0 518.8,986.8 519.8,986.8 519.8,991.0 520.8,1003.5 520.8,998.3 521.8,998.3 521.8,1003.5 522.8,1003.5 522.8,998.3 523.8,1025.2 523.8,1012.0 524.8,1012.0 524.8,1025.2 525.8,1023.3 525.8,1014.9 526.8,1014.9 526.8,1023.3 527.8,1023.3 527.8,1014.9 528.8,1019.4 528.8,1015.4 529.8,1015.4 529.8,1019.4 530.8,1019.4 530.8,1015.4 531.8,1015.4 531.8,1019.4 532.8,1019.4 532.8,1015.4 533.8,991.4 533.8,985.5 534.8,985.5 534.8,991.4 535.8,991.4 535.8,985.5 536.8,984.6 536.8,977.5 537.8,977.5 537.8,984.6 538.8,984.6 538.8,977.5 539.8,975.1 539.8,966.1 540.8,966.1 540.8,975.1 541.8,975.1 541.8,966.1 542.8,966.1 542.8,975.1 543.8,975.1 543.8,966.1 544.8,977.1 544.8,967.4 545.8,967.4 545.8,977.1 546.8,977.1 546.8,967.4 547.8,985.5 547.8,976.1 548.8,976.1 548.8,985.5 549.8,985.5 549.8,976.1 550.8,976.1 550.8,985.5 551.8,989.0 551.8,983.0 552.8,983.0 552.8,989.0 553.8,989.0 553.8,983.0 554.8,983.0 554.8,989.0 555.8,989.0 555.8,983.0 556.8,982.2 556.8,974.6 557.8,974.6 557.8,982.2 558.8,982.2 558.8,974.6 559.8,974.6 559.8,982.2 560.8,982.2 560.8,974.6 561.8,968.5 561.8,963.8 562.8,963.8 562.8,968.5 563.8,967.5 563.8,963.8 564.8,963.8 564.8,967.5 565.8,969.6 565.8,966.5 566.8,966.5 566.8,969.6 567.8,969.6 567.8,966.5 568.8,980.8 568.8,976.4 569.8,976.4 569.8,980.8 570.8,980.8 570.8,976.4 571.8,990.1 571.8,985.6 572.8,985.6 572.8,990.1 573.8,990.1 573.8,985.6 574.8,1020.8 574.8,1011.3 575.8,1011.3 575.8,1020.8 576.8,1020.8 576.8,1011.3 577.8,1011.3 577.8,1020.8 578.8,1020.8 578.8,1011.3 579.8,1050.5 579.8,1043.8 580.8,1043.8 580.8,1050.5 581.8,1050.5 581.8,1043.8 582.8,1031.9 582.8,1023.4 583.8,1023.4 583.8,1031.9 584.8,1031.9 584.8,1023.4 585.8,995.8 585.8,989.4 586.8,989.4 586.8,995.8 587.8,995.8 587.8,989.4 588.8,970.8 588.8,962.4 589.8,962.4 589.8,970.8 590.8,970.8 590.8,962.4 591.8,962.4 591.8,970.8 592.8,970.8 592.8,962.4 593.8,919.9 593.8,914.7 594.8,914.7 594.8,919.9 595.8,919.9 595.8,914.7 596.8,914.6 596.8,909.9 597.8,909.9 597.8,914.6 598.8,914.6 598.8,909.9 599.8,909.9 599.8,914.6 600.8,929.3 600.8,925.5 601.8,925.5 601.8,929.3 602.8,946.0 602.8,941.0 603.8,941.0 603.8,946.0 604.8,946.0 604.8,941.0 605.8,963.4 605.8,959.2 606.8,959.2 606.8,963.4 607.8,972.6 607.8,966.4 608.8,966.4 608.8,972.6 609.8,981.3 609.8,976.2 610.8,976.2 610.8,981.3 611.8,980.2 611.8,976.1 612.8,976.1 612.8,980.2 613.8,980.2 613.8,976.1 614.8,982.1 614.8,978.2 615.8,978.2 615.8,982.1 616.8,981.7 616.8,980.1 617.8,980.1 617.8,981.7 618.8,981.7 618.8,980.1 619.8,984.1 619.8,982.8 620.8,982.8 620.8,984.1 621.8,986.6 621.8,984.2 622.8,984.2 622.8,986.6 623.8,990.6 623.8,988.1 624.8,988.1 624.8,990.6 625.8,990.6 625.8,988.1 626.8,991.5 626.8,990.0 627.8,990.0 627.8,991.5 628.8,991.5 628.8,990.0 629.8,989.3 629.8,987.4 630.8,987.4 630.8,989.3 631.8,989.3 631.8,987.4 632.8,987.4 632.8,989.3 633.8,989.3 633.8,987.4 634.8,970.4 634.8,968.4 635.8,968.4 635.8,970.4 636.8,978.0 636.8,974.5 637.8,974.5 637.8,978.0 638.8,978.0 638.8,974.5 639.8,988.4 639.8,985.1 640.8,985.1 640.8,988.4 641.8,993.2 641.8,991.4 642.8,991.4 642.8,993.2 643.8,993.2 643.8,991.4 644.8,995.0 644.8,993.4 645.8,993.4 645.8,995.0 646.8,992.7 646.8,990.6 647.8,990.6 647.8,992.7 648.8,992.1 648.8,990.2 649.8,990.2 649.8,992.1 650.8,992.1 650.8,990.2 651.8,990.2 651.8,992.1 652.8,988.4 652.8,984.6 653.8,984.6 653.8,988.4 654.8,988.4 654.8,984.6 655.8,982.9 655.8,980.9 656.8,980.9 656.8,982.9 657.8,982.9 657.8,980.9 658.8,980.9 658.8,982.9 659.8,982.9 659.8,980.9 660.8,986.1 660.8,984.4 661.8,984.4 661.8,986.1 662.8,986.6 662.8,985.1 663.8,985.1 663.8,986.6 664.8,986.6 664.8,985.1 665.8,985.1 665.8,986.6 666.8,993.5 666.8,992.1 667.8,992.1 667.8,993.5 668.8,999.4 668.8,998.3 669.8,998.3 669.8,999.4 670.8,999.4 670.8,998.3 671.8,998.3 671.8,999.4 672.8,999.4 672.8,998.3 673.8,1015.6 673.8,1013.5 674.8,1013.5 674.8,1015.6 675.8,1015.6 675.8,1013.5 676.8,1024.5 676.8,1022.1 677.8,1022.1 677.8,1024.5 678.8,1029.8 678.8,1028.5 679.8,1028.5 679.8,1029.8 680.8,1029.8 680.8,1028.5 681.8,1028.5 681.8,1029.8 682.8,1018.5 682.8,1017.2 683.8,1017.2 683.8,1018.5 684.8,1018.5 684.8,1017.2 685.8,1017.2 685.8,1018.5 686.8,1018.5 686.8,1017.2 687.8,1009.7 687.8,1005.8 688.8,1005.8 688.8,1009.7 689.8,1009.7 689.8,1005.8 690.8,1005.8 690.8,1009.7 691.8,1010.1 691.8,1002.7 692.8,1002.7 692.8,1010.1 693.8,1010.2 693.8,1003.7 694.8,1003.7 694.8,1010.2 695.8,1010.2 695.8,1003.7 696.8,1003.7 696.8,1010.2 697.8,1010.2 697.8,1003.7 698.8,1018.1 698.8,1013.2 699.8,1013.2 699.8,1018.1 700.8,1011.2 700.8,1006.7 701.8,1006.7 701.8,1011.2 702.8,1006.6 702.8,1001.9 703.8,1001.9 703.8,1006.6 704.8,1004.4 704.8,1000.8 705.8,1000.8 705.8,1004.4 706.8,1004.4 706.8,1000.8 707.8,1000.8 707.8,1004.4 708.8,1004.4 708.8,1000.8 709.8,993.6 709.8,991.2 710.8,991.2 710.8,993.6 711.8,993.6 711.8,991.2 712.8,989.5 712.8,987.1 713.8,987.1 713.8,989.5 714.8,989.5 714.8,987.0 715.8,987.0 715.8,989.5 716.8,989.5 716.8,987.0 717.8,987.0 717.8,989.5 718.8,993.4 718.8,991.0 719.8,991.0 719.8,993.4 720.8,993.4 720.8,991.0 721.8,991.0 721.8,993.4 722.8,993.4 722.8,991.0 723.8,997.5 723.8,994.5 724.8,994.5 724.8,997.5 725.8,997.5 725.8,994.5 726.8,986.8 726.8,983.0 727.8,983.0 727.8,986.8 728.8,986.8 728.8,983.0 729.8,983.0 729.8,986.8 730.8,986.8 730.8,983.0 731.8,976.3 731.8,970.6 732.8,970.6 732.8,976.3 733.8,976.3 733.8,970.6 734.8,978.7 734.8,974.6 735.8,974.6 735.8,978.7 736.8,978.7 736.8,974.6 737.8,981.9 737.8,978.2 738.8,978.2 738.8,981.9 739.8,981.9 739.8,978.2 740.8,978.2 740.8,981.9 741.8,985.1 741.8,982.0 742.8,982.0 742.8,985.1 743.8,985.1 743.8,982.0 744.8,987.0 744.8,983.3 745.8,983.3 745.8,987.0 746.8,987.0 746.8,983.3 747.8,983.3 747.8,987.0 748.8,987.0 748.8,983.3 749.8,986.6 749.8,980.1 750.8,980.1 750.8,986.6 751.8,988.3 751.8,984.1 752.8,984.1 752.8,988.3 753.8,988.3 753.8,984.1 754.8,984.1 754.8,988.3 755.8,988.3 755.8,984.1 756.8,995.9 756.8,991.7 757.8,991.7 757.8,995.9 758.8,997.1 758.8,992.4 759.8,992.4 759.8,997.1 760.8,997.1 760.8,992.4 761.8,992.4 761.8,997.1 762.8,997.1 762.8,992.4 763.8,996.9 763.8,995.2 764.8,995.2 764.8,996.9 765.8,996.9 765.8,995.2 766.8,999.5 766.8,996.3 767.8,996.3 767.8,999.5 768.8,999.5 768.8,996.3 769.8,996.3 769.8,999.5 770.8,999.5 770.8,996.3 771.8,988.8 771.8,986.2 772.8,986.2 772.8,988.8 773.8,988.8 773.8,986.2 774.8,986.2 774.8,988.8 775.8,976.3 775.8,973.7 776.8,973.7 776.8,976.3 777.8,975.5 777.8,972.4 778.8,972.4 778.8,975.5 779.8,975.5 779.8,972.4 780.8,972.4 780.8,975.5 781.8,970.9 781.8,967.2 782.8,967.2 782.8,970.9 783.8,970.9 783.8,967.2 784.8,966.9 784.8,963.5 785.8,963.5 785.8,966.9 786.8,966.9 786.8,963.5 787.8,963.5 787.8,966.9 788.8,966.9 788.8,963.5 789.8,963.8 789.8,959.6 790.8,959.6 790.8,963.8 791.8,963.8 791.8,959.6 792.8,960.8 792.8,957.3 793.8,957.3 793.8,960.8 794.8,960.8 794.8,957.3 795.8,962.9 795.8,959.3 796.8,959.3 796.8,962.9 797.8,962.9 797.8,959.3 798.8,960.7 798.8,957.3 799.8,957.3 799.8,960.7 800.8,960.7 800.8,957.3 801.8,949.8 801.8,946.2 802.8,946.2 802.8,949.8 803.8,949.8 803.8,946.2 804.8,946.2 804.8,949.8 805.8,949.8 805.8,946.2 806.8,927.9 806.8,924.6 807.8,924.6 807.8,927.9 808.8,924.7 808.8,921.2 809.8,921.2 809.8,924.7 810.8,923.6 810.8,920.2 811.8,920.2 811.8,923.6 812.8,921.3 812.8,918.3 813.8,918.3 813.8,921.3 814.8,921.2 814.8,918.8 815.8,918.8 815.8,921.2 816.8,921.2 816.8,918.8 817.8,918.8 817.8,921.2 818.8,921.2 818.8,918.8 819.8,929.6 819.8,927.1 820.8,927.1 820.8,929.6 821.8,933.9 821.8,931.8 822.8,931.8 822.8,933.9 823.8,933.9 823.8,931.8 824.8,931.8 824.8,933.9 823.0,933.9" stroke="#ff0000" stroke-width="3.0"/>
<path d="M151.6,933.7 154.0,945.0 156.5,956.2 158.9,969.1 161.3,982.0 163.7,994.8 166.1,1007.7 168.5,1020.6 170.9,1030.2 173.3,1035.0 175.7,1039.0 178.2,1033.4 181.4,1031.8 184.6,1031.8 187.8,1035.0 190.2,1044.7 192.6,1053.5 195.0,1054.3 197.4,1049.5 199.9,1039.8 202.3,1030.2 204.7,1022.2 207.1,1019.8 210.3,1022.2 213.5,1030.2 216.7,1034.2 219.2,1031.8 221.6,1020.6 224.0,1007.7 226.4,998.0 228.8,990.0 231.2,983.6 233.6,982.0 236.8,981.2 239.2,975.5 241.7,965.9 244.1,956.2 247.3,949.8 249.7,954.6 252.1,961.1 253.7,972.3 255.3,982.0 257.7,994.8 260.1,1007.7 262.6,1022.2 265.0,1030.2 267.4,1036.6 269.8,1047.9 272.2,1060.7 274.6,1068.8 277.0,1073.6 279.4,1068.8 281.0,1055.9 283.5,1043.1 285.9,1027.0 288.3,1015.7 290.7,1007.7 293.9,1003.7 297.1,1006.1 299.5,1012.5 301.9,1020.6 305.2,1025.4 307.6,1027.0 310.0,1022.2 312.4,1012.5 314.8,1004.5 318.0,998.0 320.4,990.0 322.8,985.2 326.1,978.8 329.3,975.5 332.5,973.9 335.7,974.7 338.9,978.8 342.1,984.4 345.4,983.6 348.6,984.4 352.6,984.4 355.0,981.2 357.4,975.5 360.6,972.3 363.0,975.5 365.5,981.2 368.7,984.4 371.1,986.8 374.3,994.8 377.5,1001.3 379.9,1007.7 382.3,1014.1 384.7,1018.1 384.8,1018.9 387.2,1015.7 389.6,1006.1 392.9,994.8 396.1,985.2 399.3,978.8 402.5,973.9 406.5,973.1 409.7,977.1 413.0,981.2 416.2,982.8 419.4,983.6 422.6,987.6 426.6,989.2 430.6,990.0 434.7,988.4 437.1,982.0 439.5,969.1 441.9,961.1 445.1,955.4 448.3,959.5 450.7,957.9 453.2,953.8 455.6,961.1 458.8,965.9 461.2,970.7 463.6,973.9 466.8,970.7 470.0,965.9 472.4,957.9 475.7,948.2 479.7,943.4 482.1,951.4 484.5,962.7 486.9,977.1 489.3,991.6 491.7,1001.3 494.1,1006.1 497.4,1002.9 500.6,998.0 503.8,999.7 507.0,999.7 510.2,1002.9 512.6,1005.3 515.9,1001.3 518.3,991.6 520.7,982.0 523.1,972.3 525.5,962.7 527.9,956.2 531.1,945.0 533.5,940.2 536.8,941.8 540.0,945.0 542.4,953.0 544.8,965.9 547.2,973.9 549.6,978.8 552.0,975.5 554.4,973.9 556.8,975.5 560.1,978.8 562.5,988.4 564.9,994.8 568.1,998.0 571.3,998.9 573.7,998.0 576.9,991.6 580.2,982.0 583.4,972.3 586.6,965.9 589.8,957.9 593.0,954.6 596.2,961.1 599.5,973.9 601.9,991.6 604.3,1004.5 606.7,1010.9 609.1,1014.9 611.5,1010.9 613.9,1004.5 617.1,998.0 618.8,994.8 622.1,991.6 625.3,996.4 628.5,998.0 631.7,1007.7 634.9,1014.9 638.1,1014.9 641.4,1014.1 644.6,1015.7 647.0,1008.5 650.2,1004.5 653.4,997.2 656.6,995.6 659.8,998.0 663.1,1001.3 666.3,1010.9 669.5,1020.6 672.7,1025.4 675.9,1031.8 679.1,1036.6 681.5,1039.0 684.8,1035.0 688.0,1030.2 691.2,1023.8 694.4,1018.9 697.6,1016.5 700.8,1014.1 704.1,1010.9 707.3,1008.5 709.7,1012.5 712.9,1018.9 716.1,1022.2 719.3,1015.7 721.7,1004.5 724.1,988.4 726.6,973.9 729.0,961.1 731.4,951.4 733.8,947.4 736.2,953.0 738.6,961.1 741.0,972.3 743.4,983.6 745.9,993.2 749.1,1002.9 752.3,998.0 755.5,988.4 758.7,975.5 761.9,962.7 764.3,955.4 766.8,957.9 769.2,962.7 771.6,964.3 774.8,961.1 777.2,956.2 779.6,945.0 782.0,935.3 785.2,925.7 788.5,918.5 791.7,920.9 794.1,930.5 796.5,938.6 798.9,949.8 801.3,961.1 802.9,966.7 805.3,961.1 807.7,956.2 810.2,945.0 812.6,932.1 815.0,922.5 818.2,920.1 820.6,924.1 823.0,932.1" stroke="#0000ff" stroke-width="3.2"/>
</g>
<rect x="146" y="863.5" width="698" height="254.5999999999999" fill="none" stroke="#000" stroke-width="2.1"/>
<path d="M185.8,857.0V863.5M185.8,1118.1V1124.6M242.3,857.0V863.5M242.3,1118.1V1124.6M297.0,857.0V863.5M297.0,1118.1V1124.6M353.5,857.0V863.5M353.5,1118.1V1124.6M410.0,857.0V863.5M410.0,1118.1V1124.6M461.0,857.0V863.5M461.0,1118.1V1124.6M517.5,857.0V863.5M517.5,1118.1V1124.6M572.2,857.0V863.5M572.2,1118.1V1124.6M628.7,857.0V863.5M628.7,1118.1V1124.6M683.3,857.0V863.5M683.3,1118.1V1124.6M739.8,857.0V863.5M739.8,1118.1V1124.6M796.3,857.0V863.5M796.3,1118.1V1124.6M139.5,884.7H146M844,884.7H850.5M139.5,990.8H146M844,990.8H850.5M139.5,1096.9H146M844,1096.9H850.5" stroke="#000" stroke-width="2.1" fill="none"/>
<g font-family="'Liberation Serif','Times New Roman',serif" font-size="35.5" text-anchor="middle"><text x="155.3" y="1149.6">S</text><text x="210.8" y="1149.6">O</text><text x="266.4" y="1149.6">N</text><text x="322.0" y="1149.6">D</text><text x="378.5" y="1149.6">J</text><text x="435.5" y="1149.6">F</text><text x="486.0" y="1149.6">M</text><text x="541.6" y="1149.6">A</text><text x="597.2" y="1149.6">M</text><text x="652.8" y="1149.6">J</text><text x="708.4" y="1149.6">J</text><text x="764.9" y="1149.6">A</text><text x="820.5" y="1149.6">S</text><text transform="translate(156.4,1182.6) scale(0.962,1)">2014</text><text transform="translate(322.0,1182.6) scale(0.962,1)">2015</text></g>
<g font-family="'Liberation Sans',Arial,sans-serif" font-size="42" text-anchor="end"><text x="127.0" y="899.7">0.5</text><text x="127.0" y="1005.8">0</text><text x="127.0" y="1111.9">-0.5</text></g>
<text transform="translate(27.8,992) rotate(-90)" font-family="'Liberation Serif','Times New Roman',serif" font-size="35" text-anchor="middle">U (m/s)</text>
<text transform="translate(517.0,830.8) scale(0.96,1)" font-family="'Liberation Serif','Times New Roman',serif" font-size="44.5" text-anchor="middle">15.5°N/130°E</text>
<text x="0" y="838" font-family="'Liberation Sans',Arial,sans-serif" font-weight="bold" font-size="29">C</text>
<clipPath id="cD"><rect x="146" y="1264.3" width="698" height="253.70000000000005"/></clipPath>
<g clip-path="url(#cD)" fill="none" stroke-width="2.8" stroke-linejoin="round" stroke-linecap="butt">
<path d="M181.7,1380.8 181.7,1374.5 182.7,1374.5 182.7,1380.8 183.7,1380.8 183.7,1374.5 184.7,1423.7 184.7,1407.6 185.7,1407.6 185.7,1423.7 186.7,1423.7 186.7,1407.6 187.7,1373.9 187.7,1371.4 188.7,1371.4 188.7,1373.9 189.7,1370.9 189.7,1365.4 190.7,1365.4 190.7,1370.9 191.7,1365.5 191.7,1360.6 192.7,1360.6 192.7,1365.5 193.7,1367.1 193.7,1359.1 194.7,1359.1 194.7,1367.1 195.7,1367.1 195.7,1359.1 196.7,1366.7 196.7,1362.8 197.7,1362.8 197.7,1366.7 198.7,1366.7 198.7,1362.8 199.7,1362.8 199.7,1366.7 200.7,1337.0 200.7,1328.9 201.7,1328.9 201.7,1337.0 202.7,1337.0 202.7,1328.9 203.7,1322.5 203.7,1316.9 204.7,1316.9 204.7,1322.5 205.7,1322.5 205.7,1316.9 206.7,1316.9 206.7,1322.5 207.7,1331.8 207.7,1324.3 208.7,1324.3 208.7,1331.8 209.7,1331.8 209.7,1324.3 210.7,1324.3 210.7,1331.8 211.7,1331.8 211.7,1324.3 212.7,1348.5 212.7,1342.5 213.7,1342.5 213.7,1348.5 214.7,1354.7 214.7,1350.3 215.7,1350.3 215.7,1354.7 216.7,1354.7 216.7,1350.3 217.7,1350.3 217.7,1354.7 218.7,1354.7 218.7,1350.3 219.7,1356.0 219.7,1352.2 220.7,1352.2 220.7,1356.0 221.7,1355.9 221.7,1353.2 222.7,1353.2 222.7,1355.9 223.7,1355.9 223.7,1353.2 224.7,1353.2 224.7,1355.9 225.7,1355.9 225.7,1353.2 226.7,1365.3 226.7,1359.5 227.7,1359.5 227.7,1365.3 228.7,1365.3 228.7,1359.5 229.7,1375.1 229.7,1370.2 230.7,1370.2 230.7,1375.1 231.7,1377.3 231.7,1371.8 232.7,1371.8 232.7,1377.3 233.7,1380.4 233.7,1376.9 234.7,1376.9 234.7,1380.4 235.7,1380.4 235.7,1376.9 236.7,1381.7 236.7,1378.1 237.7,1378.1 237.7,1381.7 238.7,1383.8 238.7,1381.1 239.7,1381.1 239.7,1383.8 240.7,1385.8 240.7,1383.1 241.7,1383.1 241.7,1385.8 242.7,1385.8 242.7,1383.1 243.7,1388.9 243.7,1385.8 244.7,1385.8 244.7,1388.9 245.7,1388.9 245.7,1385.8 246.7,1385.8 246.7,1388.9 247.7,1388.9 247.7,1385.8 248.7,1398.5 248.7,1394.5 249.7,1394.5 249.7,1398.5 250.7,1398.5 250.7,1394.5 251.7,1394.5 251.7,1398.5 252.7,1398.5 252.7,1394.5 253.7,1400.5 253.7,1392.8 254.7,1392.8 254.7,1400.5 255.7,1389.8 255.7,1385.1 256.7,1385.1 256.7,1389.8 257.7,1389.8 257.7,1385.1 258.7,1385.5 258.7,1382.2 259.7,1382.2 259.7,1385.5 260.7,1389.9 260.7,1385.0 261.7,1385.0 261.7,1389.9 262.7,1389.9 262.7,1385.0 263.7,1385.0 263.7,1389.9 264.7,1389.9 264.7,1385.0 265.7,1398.4 265.7,1393.2 266.7,1393.2 266.7,1398.4 267.7,1398.4 267.7,1393.2 268.7,1393.2 268.7,1398.4 269.7,1398.4 269.7,1393.2 270.7,1363.6 270.7,1354.3 271.7,1354.3 271.7,1363.6 272.7,1363.6 272.7,1354.3 273.7,1362.0 273.7,1354.1 274.7,1354.1 274.7,1362.0 275.7,1362.0 275.7,1354.1 276.7,1374.7 276.7,1367.6 277.7,1367.6 277.7,1374.7 278.7,1374.7 278.7,1367.6 279.7,1367.6 279.7,1374.7 280.7,1374.7 280.7,1367.6 281.7,1367.9 281.7,1365.0 282.7,1365.0 282.7,1367.9 283.7,1367.9 283.7,1365.0 284.7,1363.3 284.7,1359.0 285.7,1359.0 285.7,1363.3 286.7,1363.3 286.7,1359.0 287.7,1355.8 287.7,1351.1 288.7,1351.1 288.7,1355.8 289.7,1355.8 289.7,1351.1 290.7,1351.1 290.7,1355.8 291.7,1349.2 291.7,1346.4 292.7,1346.4 292.7,1349.2 293.7,1349.2 293.7,1346.4 294.7,1347.7 294.7,1343.2 295.7,1343.2 295.7,1347.7 296.7,1344.1 296.7,1339.0 297.7,1339.0 297.7,1344.1 298.7,1344.1 298.7,1339.0 299.7,1339.0 299.7,1344.1 300.7,1344.2 300.7,1340.9 301.7,1340.9 301.7,1344.2 302.7,1344.2 302.7,1340.9 303.7,1340.9 303.7,1344.2 304.7,1344.2 304.7,1340.9 305.7,1362.8 305.7,1355.2 306.7,1355.2 306.7,1362.8 307.7,1362.8 307.7,1355.2 308.7,1366.2 308.7,1360.1 309.7,1360.1 309.7,1366.2 310.7,1365.4 310.7,1362.0 311.7,1362.0 311.7,1365.4 312.7,1365.4 312.7,1362.0 313.7,1373.9 313.7,1370.5 314.7,1370.5 314.7,1373.9 315.7,1373.9 315.7,1370.5 316.7,1382.9 316.7,1379.3 317.7,1379.3 317.7,1382.9 318.7,1391.7 318.7,1385.7 319.7,1385.7 319.7,1391.7 320.7,1391.7 320.7,1385.7 321.7,1385.7 321.7,1391.7 322.7,1407.6 322.7,1401.6 323.7,1401.6 323.7,1407.6 324.7,1407.6 324.7,1401.6 325.7,1401.6 325.7,1407.6 326.7,1407.6 326.7,1401.6 327.7,1426.5 327.7,1421.4 328.7,1421.4 328.7,1426.5 329.7,1426.5 329.7,1421.4 330.7,1427.7 330.7,1423.9 331.7,1423.9 331.7,1427.7 332.7,1427.7 332.7,1423.9 333.7,1431.3 333.7,1427.1 334.7,1427.1 334.7,1431.3 335.7,1431.3 335.7,1427.1 336.7,1430.0 336.7,1426.4 337.7,1426.4 337.7,1430.0 338.7,1430.0 338.7,1426.4 339.7,1426.4 339.7,1430.0 340.7,1430.0 340.7,1426.4 341.7,1430.5 341.7,1424.9 342.7,1424.9 342.7,1430.5 343.7,1430.5 343.7,1424.9 344.7,1424.9 344.7,1430.5 345.7,1429.9 345.7,1424.1 346.7,1424.1 346.7,1429.9 347.7,1429.9 347.7,1424.1 348.7,1424.1 348.7,1429.9 349.7,1429.9 349.7,1424.1 350.7,1428.1 350.7,1424.1 351.7,1424.1 351.7,1428.1 352.7,1423.8 352.7,1419.7 353.7,1419.7 353.7,1423.8 354.7,1423.8 354.7,1419.7 355.7,1417.4 355.7,1414.0 356.7,1414.0 356.7,1417.4 357.7,1417.4 357.7,1414.0 358.7,1414.0 358.7,1417.4 359.7,1414.7 359.7,1411.8 360.7,1411.8 360.7,1414.7 361.7,1414.7 361.7,1411.8 362.7,1412.2 362.7,1408.4 363.7,1408.4 363.7,1412.2 364.7,1412.2 364.7,1408.4 365.7,1418.1 365.7,1411.7 366.7,1411.7 366.7,1418.1 367.7,1418.1 367.7,1411.7 368.7,1404.5 368.7,1398.1 369.7,1398.1 369.7,1404.5 370.7,1404.5 370.7,1398.1 371.7,1391.7 371.7,1386.0 372.7,1386.0 372.7,1391.7 373.7,1391.7 373.7,1386.0 374.7,1389.1 374.7,1380.4 375.7,1380.4 375.7,1389.1 376.7,1389.1 376.7,1380.4 377.7,1389.0 377.7,1381.3 378.7,1381.3 378.7,1389.0 379.7,1389.0 379.7,1381.3 380.7,1381.3 380.7,1389.0 381.7,1376.5 381.7,1371.8 382.7,1371.8 382.7,1376.5 383.7,1376.5 383.7,1371.8 384.7,1371.8 384.7,1376.5 385.7,1376.5 385.7,1371.8 386.7,1386.2 386.7,1377.1 387.7,1377.1 387.7,1386.2 388.7,1386.2 388.7,1377.1 389.7,1377.1 389.7,1386.2 390.7,1386.2 390.7,1377.1 391.7,1414.5 391.7,1405.4 392.7,1405.4 392.7,1414.5 393.7,1415.2 393.7,1405.3 394.7,1405.3 394.7,1415.2 395.7,1415.2 395.7,1405.3 396.7,1421.8 396.7,1407.9 397.7,1407.9 397.7,1421.8 398.7,1421.8 398.7,1407.9 399.7,1393.1 399.7,1384.5 400.7,1384.5 400.7,1393.1 401.7,1393.1 401.7,1384.5 402.7,1384.5 402.7,1393.1 403.7,1367.0 403.7,1361.9 404.7,1361.9 404.7,1367.0 405.7,1367.0 405.7,1361.9 406.7,1361.9 406.7,1367.0 407.7,1367.0 407.7,1361.9 408.7,1368.8 408.7,1362.0 409.7,1362.0 409.7,1368.8 410.7,1363.4 410.7,1357.6 411.7,1357.6 411.7,1363.4 412.7,1363.4 412.7,1357.6 413.7,1359.8 413.7,1356.0 414.7,1356.0 414.7,1359.8 415.7,1359.8 415.7,1356.0 416.7,1360.4 416.7,1356.9 417.7,1356.9 417.7,1360.4 418.7,1360.4 418.7,1356.9 419.7,1356.9 419.7,1360.4 420.7,1360.4 420.7,1356.9 421.7,1364.0 421.7,1357.4 422.7,1357.4 422.7,1364.0 423.7,1364.0 423.7,1357.4 424.7,1357.4 424.7,1364.0 425.7,1364.0 425.7,1357.4 426.7,1354.8 426.7,1350.9 427.7,1350.9 427.7,1354.8 428.7,1354.8 428.7,1350.9 429.7,1350.9 429.7,1354.8 430.7,1354.8 430.7,1350.9 431.7,1294.2 431.7,1290.6 432.7,1290.6 432.7,1294.2 433.7,1294.2 433.7,1290.6 434.7,1290.6 434.7,1294.2 435.7,1297.9 435.7,1296.2 436.7,1296.2 436.7,1297.9 437.7,1297.9 437.7,1296.2 438.7,1296.2 438.7,1297.9 439.7,1317.7 439.7,1312.0 440.7,1312.0 440.7,1317.7 441.7,1317.7 441.7,1312.0 442.7,1330.7 442.7,1326.2 443.7,1326.2 443.7,1330.7 444.7,1330.7 444.7,1326.2 445.7,1368.1 445.7,1347.6 446.7,1347.6 446.7,1368.1 447.7,1365.8 447.7,1354.8 448.7,1354.8 448.7,1365.8 447.7,1391.6 448.9,1391.6 449.7,1351.9 449.7,1340.8 450.7,1340.8 450.7,1351.9 451.7,1351.9 451.7,1340.8 452.7,1340.8 452.7,1351.9 453.7,1329.7 453.7,1318.4 454.7,1318.4 454.7,1329.7 455.7,1329.7 455.7,1318.4 456.7,1318.4 456.7,1329.7 457.7,1310.4 457.7,1301.2 458.7,1301.2 458.7,1310.4 459.7,1310.4 459.7,1301.2 460.7,1312.7 460.7,1307.3 461.7,1307.3 461.7,1312.7 462.7,1344.3 462.7,1339.8 463.7,1339.8 463.7,1344.3 464.7,1346.2 464.7,1342.0 465.7,1342.0 465.7,1346.2 466.7,1346.2 466.7,1342.0 467.7,1345.8 467.7,1343.6 468.7,1343.6 468.7,1345.8 469.7,1345.8 469.7,1343.6 470.7,1343.6 470.7,1345.8 471.7,1370.5 471.7,1362.2 472.7,1362.2 472.7,1370.5 473.7,1371.9 473.7,1366.0 474.7,1366.0 474.7,1371.9 475.7,1371.9 475.7,1366.0 476.7,1366.0 476.7,1371.9 477.7,1384.7 477.7,1377.9 478.7,1377.9 478.7,1384.7 479.7,1383.6 479.7,1379.9 480.7,1379.9 480.7,1383.6 481.7,1389.9 481.7,1386.4 482.7,1386.4 482.7,1389.9 483.7,1389.9 483.7,1386.4 484.7,1412.7 484.7,1408.1 485.7,1408.1 485.7,1412.7 486.7,1412.7 486.7,1408.1 487.7,1430.4 487.7,1426.7 488.7,1426.7 488.7,1430.4 489.7,1430.4 489.7,1426.7 490.7,1426.7 490.7,1430.4 491.7,1432.8 491.7,1430.7 492.7,1430.7 492.7,1432.8 493.7,1432.8 493.7,1430.7 494.7,1420.7 494.7,1416.9 495.7,1416.9 495.7,1420.7 496.7,1413.8 496.7,1409.6 497.7,1409.6 497.7,1413.8 498.7,1406.1 498.7,1403.3 499.7,1403.3 499.7,1406.1 500.7,1388.1 500.7,1379.7 501.7,1379.7 501.7,1388.1 502.7,1388.1 502.7,1379.7 503.7,1379.7 503.7,1388.1 504.7,1388.1 504.7,1379.7 505.7,1366.5 505.7,1361.8 506.7,1361.8 506.7,1366.5 507.7,1369.4 507.7,1364.9 508.7,1364.9 508.7,1369.4 509.7,1369.4 509.7,1364.9 510.7,1364.9 510.7,1369.4 511.7,1375.7 511.7,1373.3 512.7,1373.3 512.7,1375.7 513.7,1378.1 513.7,1375.0 514.7,1375.0 514.7,1378.1 515.7,1378.1 515.7,1375.0 516.7,1383.9 516.7,1380.8 517.7,1380.8 517.7,1383.9 518.7,1383.9 518.7,1380.8 519.7,1380.6 519.7,1376.9 520.7,1376.9 520.7,1380.6 521.7,1380.6 521.7,1376.9 522.7,1390.6 522.7,1386.9 523.7,1386.9 523.7,1390.6 524.7,1390.6 524.7,1386.9 525.7,1386.9 525.7,1390.6 526.7,1390.6 526.7,1386.9 527.7,1407.0 527.7,1404.5 528.7,1404.5 528.7,1407.0 529.7,1407.0 529.7,1404.5 530.7,1416.0 530.7,1409.9 531.7,1409.9 531.7,1416.0 532.7,1416.0 532.7,1409.9 533.7,1430.9 533.7,1424.0 534.7,1424.0 534.7,1430.9 535.7,1434.7 535.7,1428.6 536.7,1428.6 536.7,1434.7 537.7,1434.7 537.7,1428.6 538.7,1428.6 538.7,1434.7 539.7,1442.4 539.7,1436.3 540.7,1436.3 540.7,1442.4 541.7,1442.4 541.7,1436.3 542.7,1436.3 542.7,1442.4 543.7,1478.6 543.7,1474.1 544.7,1474.1 544.7,1478.6 545.7,1473.9 545.7,1470.0 546.7,1470.0 546.7,1473.9 547.7,1472.3 547.7,1468.1 548.7,1468.1 548.7,1472.3 549.7,1472.3 549.7,1468.1 550.7,1468.1 550.7,1472.3 551.7,1468.8 551.7,1465.1 552.7,1465.1 552.7,1468.8 553.7,1468.8 553.7,1465.1 554.7,1450.0 554.7,1443.8 555.7,1443.8 555.7,1450.0 556.7,1435.6 556.7,1430.8 557.7,1430.8 557.7,1435.6 558.7,1435.6 558.7,1430.8 559.7,1421.8 559.7,1417.7 560.7,1417.7 560.7,1421.8 561.7,1421.8 561.7,1417.7 562.7,1417.7 562.7,1421.8 563.7,1421.8 563.7,1417.7 564.7,1388.3 564.7,1383.0 565.7,1383.0 565.7,1388.3 566.7,1388.3 566.7,1383.0 567.7,1364.0 567.7,1358.9 568.7,1358.9 568.7,1364.0 569.7,1364.0 569.7,1358.9 570.7,1354.0 570.7,1350.4 571.7,1350.4 571.7,1354.0 572.7,1354.0 572.7,1350.4 573.7,1350.4 573.7,1354.0 574.7,1354.0 574.7,1350.4 575.7,1361.1 575.7,1357.1 576.7,1357.1 576.7,1361.1 577.7,1361.1 577.7,1357.1 578.7,1379.5 578.7,1373.3 579.7,1373.3 579.7,1379.5 580.7,1379.5 580.7,1373.3 581.7,1373.3 581.7,1379.5 582.7,1391.3 582.7,1386.9 583.7,1386.9 583.7,1391.3 584.7,1391.3 584.7,1386.9 585.7,1386.9 585.7,1391.3 586.7,1391.3 586.7,1386.9 587.7,1389.5 587.7,1384.5 588.7,1384.5 588.7,1389.5 589.7,1389.5 589.7,1384.5 590.7,1384.5 590.7,1389.5 591.7,1389.5 591.7,1384.5 592.7,1393.5 592.7,1384.2 593.7,1384.2 593.7,1393.5 594.7,1398.6 594.7,1391.1 595.7,1391.1 595.7,1398.6 596.7,1393.5 596.7,1388.0 597.7,1388.0 597.7,1393.5 598.7,1393.5 598.7,1388.0 599.7,1378.1 599.7,1374.7 600.7,1374.7 600.7,1378.1 601.7,1378.1 601.7,1374.7 602.7,1379.1 602.7,1376.3 603.7,1376.3 603.7,1379.1 604.7,1379.1 604.7,1376.3 605.7,1393.7 605.7,1386.8 606.7,1386.8 606.7,1393.7 607.7,1393.7 607.7,1386.8 608.7,1386.8 608.7,1393.7 609.7,1393.7 609.7,1386.8 610.7,1408.6 610.7,1404.6 611.7,1404.6 611.7,1408.6 612.7,1408.6 612.7,1404.6 613.7,1414.4 613.7,1409.7 614.7,1409.7 614.7,1414.4 615.7,1414.4 615.7,1409.7 616.7,1405.7 616.7,1401.4 617.7,1401.4 617.7,1405.7 618.7,1405.7 618.7,1401.4 619.7,1392.8 619.7,1388.5 620.7,1388.5 620.7,1392.8 621.7,1392.8 621.7,1388.5 622.7,1388.5 622.7,1392.8 623.7,1392.8 623.7,1388.5 624.7,1397.4 624.7,1394.2 625.7,1394.2 625.7,1397.4 626.7,1397.4 626.7,1394.2 627.7,1400.9 627.7,1396.7 628.7,1396.7 628.7,1400.9 629.7,1400.9 629.7,1396.7 630.7,1396.7 630.7,1400.9 631.7,1407.0 631.7,1404.3 632.7,1404.3 632.7,1407.0 633.7,1413.3 633.7,1409.9 634.7,1409.9 634.7,1413.3 635.7,1413.3 635.7,1409.9 636.7,1420.1 636.7,1417.3 637.7,1417.3 637.7,1420.1 638.7,1423.4 638.7,1418.5 639.7,1418.5 639.7,1423.4 640.7,1426.1 640.7,1421.0 641.7,1421.0 641.7,1426.1 642.7,1426.8 642.7,1422.7 643.7,1422.7 643.7,1426.8 644.7,1426.8 644.7,1422.7 645.7,1434.4 645.7,1430.5 646.7,1430.5 646.7,1434.4 647.7,1438.9 647.7,1435.6 648.7,1435.6 648.7,1438.9 649.7,1438.9 649.7,1435.6 650.7,1438.7 650.7,1436.2 651.7,1436.2 651.7,1438.7 652.7,1438.5 652.7,1433.5 653.7,1433.5 653.7,1438.5 654.7,1445.5 654.7,1436.7 655.7,1436.7 655.7,1445.5 656.7,1445.5 656.7,1436.7 657.7,1438.2 657.7,1434.4 658.7,1434.4 658.7,1438.2 659.7,1438.2 659.7,1434.4 660.7,1438.5 660.7,1435.1 661.7,1435.1 661.7,1438.5 662.7,1438.5 662.7,1435.1 663.7,1435.1 663.7,1438.5 664.7,1438.5 664.7,1435.1 665.7,1438.0 665.7,1433.3 666.7,1433.3 666.7,1438.0 667.7,1439.2 667.7,1431.9 668.7,1431.9 668.7,1439.2 669.7,1439.2 669.7,1431.9 670.7,1433.8 670.7,1429.0 671.7,1429.0 671.7,1433.8 672.7,1430.5 672.7,1427.6 673.7,1427.6 673.7,1430.5 674.7,1430.5 674.7,1427.6 675.7,1422.5 675.7,1419.3 676.7,1419.3 676.7,1422.5 677.7,1416.9 677.7,1412.6 678.7,1412.6 678.7,1416.9 679.7,1410.3 679.7,1406.4 680.7,1406.4 680.7,1410.3 681.7,1410.3 681.7,1406.4 682.7,1406.4 682.7,1410.3 683.7,1402.7 683.7,1397.3 684.7,1397.3 684.7,1402.7 685.7,1402.7 685.7,1397.3 686.7,1396.6 686.7,1393.2 687.7,1393.2 687.7,1396.6 688.7,1396.6 688.7,1393.2 689.7,1393.2 689.7,1396.6 690.7,1396.6 690.7,1393.2 691.7,1398.5 691.7,1394.3 692.7,1394.3 692.7,1398.5 693.7,1399.0 693.7,1394.6 694.7,1394.6 694.7,1399.0 695.7,1399.0 695.7,1394.6 696.7,1394.6 696.7,1399.0 697.7,1394.7 697.7,1389.7 698.7,1389.7 698.7,1394.7 699.7,1392.3 699.7,1389.0 700.7,1389.0 700.7,1392.3 701.7,1392.3 701.7,1389.0 702.7,1389.0 702.7,1392.3 703.7,1392.3 703.7,1389.0 704.7,1405.2 704.7,1398.8 705.7,1398.8 705.7,1405.2 706.7,1405.2 706.7,1398.8 707.7,1407.7 707.7,1400.6 708.7,1400.6 708.7,1407.7 709.7,1407.6 709.7,1403.7 710.7,1403.7 710.7,1407.6 711.7,1407.6 711.7,1403.7 712.7,1403.7 712.7,1407.6 713.7,1404.5 713.7,1401.1 714.7,1401.1 714.7,1404.5 715.7,1404.5 715.7,1401.1 716.7,1401.1 716.7,1404.5 717.7,1404.5 717.7,1401.1 718.7,1413.4 718.7,1407.5 719.7,1407.5 719.7,1413.4 720.7,1413.4 720.7,1407.5 721.7,1407.5 721.7,1413.4 722.7,1425.0 722.7,1417.4 723.7,1417.4 723.7,1425.0 724.7,1428.3 724.7,1419.4 725.7,1419.4 725.7,1428.3 726.7,1428.3 726.7,1419.4 727.7,1419.4 727.7,1428.3 728.7,1428.3 728.7,1419.4 729.7,1431.3 729.7,1417.7 730.7,1417.7 730.7,1431.3 731.7,1434.2 731.7,1424.6 732.7,1424.6 732.7,1434.2 733.7,1437.2 733.7,1428.9 734.7,1428.9 734.7,1437.2 735.7,1441.8 735.7,1436.4 736.7,1436.4 736.7,1441.8 737.7,1441.8 737.7,1436.4 738.7,1436.4 738.7,1441.8 739.7,1441.8 739.7,1436.4 740.7,1453.9 740.7,1449.1 741.7,1449.1 741.7,1453.9 742.7,1453.9 742.7,1449.1 743.7,1452.0 743.7,1447.1 744.7,1447.1 744.7,1452.0 745.7,1448.3 745.7,1443.4 746.7,1443.4 746.7,1448.3 747.7,1448.3 747.7,1443.4 748.7,1443.4 748.7,1448.3 749.7,1441.6 749.7,1438.2 750.7,1438.2 750.7,1441.6 751.7,1441.6 751.7,1438.2 752.7,1438.2 752.7,1441.6 753.7,1441.6 753.7,1438.2 754.7,1439.4 754.7,1436.4 755.7,1436.4 755.7,1439.4 756.7,1439.4 756.7,1436.4 757.7,1441.0 757.7,1437.2 758.7,1437.2 758.7,1441.0 759.7,1441.0 759.7,1437.2 760.7,1437.2 760.7,1441.0 761.7,1441.0 761.7,1437.2 762.7,1435.5 762.7,1426.0 763.7,1426.0 763.7,1435.5 764.7,1435.5 764.7,1426.0 765.7,1419.8 765.7,1412.8 766.7,1412.8 766.7,1419.8 767.7,1419.8 767.7,1412.8 768.7,1410.8 768.7,1404.4 769.7,1404.4 769.7,1410.8 770.7,1410.8 770.7,1404.4 771.7,1404.4 771.7,1410.8 772.7,1370.0 772.7,1362.6 773.7,1362.6 773.7,1370.0 774.7,1370.0 774.7,1362.6 775.7,1336.6 775.7,1325.4 776.7,1325.4 776.7,1336.6 777.7,1336.6 777.7,1325.4 778.7,1325.4 778.7,1336.6 779.7,1336.6 779.7,1325.4 780.7,1329.7 780.7,1312.7 781.7,1312.7 781.7,1329.7 782.7,1341.0 782.7,1331.1 783.7,1331.1 783.7,1341.0 784.7,1341.0 784.7,1331.1 785.7,1331.1 785.7,1341.0 786.7,1341.0 786.7,1331.1 787.7,1366.9 787.7,1361.0 788.7,1361.0 788.7,1366.9 789.7,1374.9 789.7,1366.3 790.7,1366.3 790.7,1374.9 791.7,1374.9 791.7,1366.3 792.7,1366.3 792.7,1374.9 793.7,1374.9 793.7,1366.3 794.7,1388.4 794.7,1382.6 795.7,1382.6 795.7,1388.4 796.7,1388.4 796.7,1382.6 797.7,1389.9 797.7,1381.1 798.7,1381.1 798.7,1389.9 799.7,1389.9 799.7,1381.1 800.7,1381.1 800.7,1389.9 801.7,1389.9 801.7,1381.1 802.7,1399.8 802.7,1392.8 803.7,1392.8 803.7,1399.8 804.7,1399.8 804.7,1392.8 805.7,1392.8 805.7,1399.8 806.7,1405.0 806.7,1401.7 807.7,1401.7 807.7,1405.0 808.7,1407.2 808.7,1404.0 809.7,1404.0 809.7,1407.2 810.7,1407.2 810.7,1404.0 811.7,1404.0 811.7,1407.2 812.7,1404.4 812.7,1400.8 813.7,1400.8 813.7,1404.4 814.7,1404.4 814.7,1400.8 815.7,1403.4 815.7,1401.1 816.7,1401.1 816.7,1403.4 817.7,1403.4 817.7,1401.1 818.7,1401.1 818.7,1403.4 819.7,1403.4 819.7,1401.1 815.8,1401.1" stroke="#ff0000" stroke-width="3.0"/>
<path d="M181.7,1373.9 183.8,1367.5 186.2,1356.2 188.6,1346.6 191.0,1333.7 193.4,1320.9 195.8,1311.2 198.3,1307.2 201.5,1306.4 204.7,1308.8 207.9,1310.4 211.1,1309.6 215.1,1308.0 219.2,1306.4 221.6,1308.8 224.0,1316.1 226.4,1327.3 228.8,1340.2 231.2,1353.0 233.6,1365.9 236.0,1377.1 239.2,1382.0 242.5,1384.4 246.5,1385.2 249.7,1391.6 252.9,1401.3 256.1,1410.9 259.3,1416.5 262.6,1413.3 265.8,1406.1 268.2,1394.8 270.6,1380.4 273.0,1362.7 275.4,1346.6 277.8,1333.7 280.2,1327.3 283.5,1320.9 285.9,1316.9 289.1,1315.3 292.3,1314.4 296.3,1312.8 299.5,1319.3 301.9,1325.7 305.2,1330.5 308.4,1333.7 311.6,1338.6 314.8,1345.0 317.2,1356.2 319.6,1372.3 322.0,1394.8 324.5,1417.3 326.9,1441.5 329.3,1455.9 331.7,1462.4 334.1,1455.9 336.5,1443.1 338.9,1427.0 341.3,1412.5 343.7,1401.3 347.0,1398.0 349.4,1402.9 351.8,1414.1 354.2,1428.6 356.6,1441.5 359.0,1454.3 361.4,1457.5 363.8,1449.5 366.3,1436.6 368.7,1420.6 371.1,1401.3 373.5,1386.8 376.7,1378.8 379.1,1380.4 381.5,1388.4 383.9,1398.0 384.8,1399.7 388.8,1403.7 392.9,1406.1 396.1,1403.7 400.1,1401.3 404.1,1401.3 408.1,1400.5 411.4,1394.8 414.6,1388.4 417.8,1384.4 421.8,1382.0 425.8,1383.6 429.8,1386.0 433.9,1382.8 437.1,1378.0 440.3,1372.3 442.7,1365.9 444.3,1356.2 445.9,1345.0 447.5,1335.3 449.9,1324.1 452.3,1314.4 455.6,1308.0 458.8,1304.8 462.0,1304.0 465.2,1305.6 468.4,1309.6 471.6,1316.1 474.1,1327.3 476.5,1340.2 478.9,1351.4 481.3,1357.9 484.5,1361.1 487.7,1360.3 490.9,1360.3 494.1,1362.7 497.4,1367.5 499.8,1375.5 502.2,1382.0 505.4,1385.2 508.6,1386.0 512.6,1384.4 515.9,1388.4 518.3,1394.8 520.7,1401.3 523.1,1407.7 525.5,1414.1 527.9,1420.6 531.1,1425.4 534.3,1428.6 537.6,1432.6 540.8,1438.2 543.2,1444.7 545.6,1451.1 548.0,1457.5 550.4,1462.4 552.8,1459.1 555.2,1449.5 557.7,1436.6 560.1,1423.8 562.5,1410.9 564.9,1398.0 567.3,1393.2 570.5,1390.8 573.7,1392.4 577.7,1394.8 582.6,1392.4 587.4,1389.2 592.2,1386.8 597.0,1386.0 601.1,1386.8 605.1,1386.8 609.1,1385.2 613.9,1382.8 617.1,1383.6 618.0,1384.4 621.3,1390.0 624.5,1399.7 627.7,1407.7 630.9,1414.1 634.9,1417.3 638.1,1423.8 640.5,1431.8 643.0,1438.2 647.0,1441.5 651.0,1442.3 655.0,1440.7 658.2,1440.7 661.4,1442.3 664.7,1439.0 667.9,1434.2 671.9,1431.0 675.9,1431.0 680.7,1432.6 684.8,1428.6 688.8,1424.6 692.8,1426.2 697.6,1428.6 702.4,1431.0 706.5,1431.8 710.5,1432.6 714.5,1434.2 718.5,1436.6 721.7,1441.5 725.0,1447.9 728.2,1451.1 732.2,1449.5 736.2,1446.3 739.4,1447.9 742.6,1452.7 745.9,1460.7 749.9,1468.0 753.1,1465.6 756.3,1455.9 759.5,1443.1 761.9,1427.0 764.3,1410.9 766.8,1399.7 769.2,1390.0 771.6,1382.0 774.0,1375.5 777.2,1369.1 780.4,1362.7 784.4,1357.1 788.5,1349.8 791.7,1341.8 794.9,1336.2 798.1,1340.2 801.3,1349.8 803.7,1362.7 806.1,1375.5 808.6,1388.4 811.0,1399.7 813.4,1406.1 815.8,1410.1" stroke="#0000ff" stroke-width="3.2"/>
</g>
<rect x="146" y="1264.3" width="698" height="253.70000000000005" fill="none" stroke="#000" stroke-width="2.1"/>
<path d="M185.8,1257.8V1264.3M185.8,1518.0V1524.5M242.3,1257.8V1264.3M242.3,1518.0V1524.5M297.0,1257.8V1264.3M297.0,1518.0V1524.5M353.5,1257.8V1264.3M353.5,1518.0V1524.5M410.0,1257.8V1264.3M410.0,1518.0V1524.5M461.0,1257.8V1264.3M461.0,1518.0V1524.5M517.5,1257.8V1264.3M517.5,1518.0V1524.5M572.2,1257.8V1264.3M572.2,1518.0V1524.5M628.7,1257.8V1264.3M628.7,1518.0V1524.5M683.3,1257.8V1264.3M683.3,1518.0V1524.5M739.8,1257.8V1264.3M739.8,1518.0V1524.5M796.3,1257.8V1264.3M796.3,1518.0V1524.5M139.5,1285.4H146M844,1285.4H850.5M139.5,1391.2H146M844,1391.2H850.5M139.5,1496.9H146M844,1496.9H850.5" stroke="#000" stroke-width="2.1" fill="none"/>
<g font-family="'Liberation Serif','Times New Roman',serif" font-size="35.5" text-anchor="middle"><text x="155.3" y="1549.6">S</text><text x="210.8" y="1549.6">O</text><text x="266.4" y="1549.6">N</text><text x="322.0" y="1549.6">D</text><text x="378.5" y="1549.6">J</text><text x="435.5" y="1549.6">F</text><text x="486.0" y="1549.6">M</text><text x="541.6" y="1549.6">A</text><text x="597.2" y="1549.6">M</text><text x="652.8" y="1549.6">J</text><text x="708.4" y="1549.6">J</text><text x="764.9" y="1549.6">A</text><text x="820.5" y="1549.6">S</text><text transform="translate(156.4,1582.6) scale(0.962,1)">2014</text><text transform="translate(322.0,1582.6) scale(0.962,1)">2015</text></g>
<g font-family="'Liberation Sans',Arial,sans-serif" font-size="42" text-anchor="end"><text x="127.0" y="1300.4">0.5</text><text x="127.0" y="1406.1">0</text><text x="127.0" y="1511.9">-0.5</text></g>
<text transform="translate(27.8,1392) rotate(-90)" font-family="'Liberation Serif','Times New Roman',serif" font-size="35" text-anchor="middle">U (m/s)</text>
<text transform="translate(517.0,1230.9) scale(0.96,1)" font-family="'Liberation Serif','Times New Roman',serif" font-size="44.5" text-anchor="middle">18°N/130°E</text>
<text x="0" y="1246.5" font-family="'Liberation Sans',Arial,sans-serif" font-weight="bold" font-size="29">D</text>
<clipPath id="cE"><rect x="1065" y="62.9" width="698" height="254.49999999999997"/></clipPath>
<g clip-path="url(#cE)" fill="none" stroke-width="2.8" stroke-linejoin="round" stroke-linecap="butt">
<path d="M1065.0,174.5 1066.2,169.9 1067.4,182.6 1068.6,195.4 1069.8,188.6 1071.0,191.4 1072.2,191.3 1073.4,182.4 1074.6,178.4 1075.8,181.6 1077.0,168.8 1078.2,170.6 1079.4,187.0 1079.7,209.3 1080.9,209.3 1080.6,192.3 1081.8,193.6 1083.0,169.1 1084.2,185.3 1085.4,189.1 1086.6,190.9 1087.8,166.8 1087.7,201.3 1088.9,201.3 1089.0,165.0 1090.2,168.0 1091.4,176.5 1092.6,168.5 1093.8,185.7 1095.0,172.2 1096.2,157.5 1097.4,178.0 1098.6,143.0 1099.8,160.8 1101.0,170.8 1102.2,150.9 1103.4,168.9 1104.6,159.2 1105.8,185.1 1107.0,159.2 1108.2,171.7 1109.4,179.0 1110.6,142.1 1111.8,165.7 1113.0,147.3 1114.2,157.7 1115.4,127.5 1116.6,136.6 1117.8,130.7 1119.0,113.3 1120.2,127.9 1121.4,113.7 1122.6,118.4 1123.8,133.5 1125.0,114.7 1126.2,146.6 1127.4,146.6 1128.6,116.1 1129.8,138.8 1130.3,88.7 1131.5,88.7 1131.0,118.6 1132.2,139.7 1133.4,104.5 1134.6,151.9 1135.8,141.2 1137.0,118.4 1138.2,154.0 1138.4,96.8 1139.6,96.8 1139.4,170.0 1140.6,121.8 1141.8,167.2 1143.0,123.9 1144.2,184.6 1145.4,138.7 1146.6,125.9 1146.4,108.0 1147.6,108.0 1147.8,192.4 1149.0,194.3 1150.2,194.6 1151.4,152.4 1152.6,210.1 1153.8,240.3 1155.0,183.1 1156.2,187.9 1157.4,156.7 1158.6,149.0 1159.8,128.6 1159.3,111.2 1160.5,111.2 1161.0,160.5 1162.2,158.5 1163.4,154.7 1164.6,125.6 1165.8,153.3 1167.0,131.9 1168.2,169.6 1169.4,126.7 1170.6,123.2 1171.8,167.7 1173.0,128.0 1174.2,161.8 1175.4,120.1 1175.3,108.0 1176.5,108.0 1176.6,184.8 1177.8,139.9 1179.0,199.2 1180.2,147.7 1180.2,228.6 1181.4,228.6 1181.4,215.5 1182.6,168.7 1183.8,171.8 1185.0,200.9 1186.2,191.3 1187.4,154.1 1188.6,164.5 1189.8,172.5 1189.8,218.9 1191.0,218.9 1191.0,199.7 1192.2,166.8 1193.4,171.4 1194.6,212.1 1195.8,176.7 1197.0,165.2 1198.2,211.8 1199.4,157.9 1200.6,201.3 1201.1,222.2 1202.3,222.2 1201.8,162.8 1203.0,196.6 1204.2,155.1 1205.4,172.9 1206.6,132.5 1206.7,114.4 1207.9,114.4 1207.8,162.0 1209.0,137.4 1210.2,176.3 1211.4,177.7 1212.6,193.0 1213.8,176.2 1215.0,201.5 1216.2,181.3 1217.4,195.4 1218.6,177.3 1219.8,173.7 1221.0,178.6 1222.2,161.2 1223.4,173.2 1224.6,161.2 1225.8,183.0 1227.0,183.2 1228.2,201.8 1229.4,193.3 1230.6,202.1 1231.8,202.2 1233.0,218.3 1234.2,217.8 1235.4,234.9 1236.6,230.1 1237.8,235.2 1239.0,215.4 1240.2,236.6 1241.4,226.9 1242.6,238.2 1243.8,235.2 1245.0,245.2 1246.2,241.4 1247.4,253.6 1248.6,241.3 1249.8,242.2 1251.0,242.5 1252.2,212.8 1253.4,192.1 1254.6,167.9 1255.8,135.1 1257.0,151.1 1258.2,147.3 1259.4,123.7 1260.6,151.9 1261.8,127.7 1261.3,112.8 1262.5,112.8 1263.0,133.7 1264.2,155.0 1265.4,125.6 1266.6,151.7 1267.8,135.1 1269.0,145.6 1270.2,132.9 1271.4,142.8 1272.6,156.9 1273.8,146.4 1275.0,179.2 1276.2,189.5 1277.4,197.4 1278.6,198.6 1279.8,197.4 1281.0,185.1 1282.2,195.9 1283.4,196.0 1284.6,194.3 1285.8,181.9 1287.0,188.5 1288.2,192.6 1289.4,172.3 1290.6,189.4 1291.8,160.8 1293.0,180.0 1294.2,146.1 1295.4,131.3 1296.6,146.6 1297.8,129.7 1299.0,153.6 1300.2,102.2 1301.4,161.3 1302.6,120.3 1303.8,139.4 1303.9,79.1 1305.1,79.1 1305.0,104.2 1304.9,79.1 1306.1,79.1 1306.2,147.3 1307.4,133.2 1308.6,168.1 1309.8,138.2 1311.0,175.2 1312.2,160.5 1313.4,193.9 1314.6,191.2 1315.8,224.7 1317.0,210.9 1318.2,236.6 1319.4,233.0 1320.6,215.3 1321.8,236.8 1323.0,231.8 1324.2,238.5 1325.4,207.8 1326.6,223.6 1327.8,193.9 1329.0,205.8 1330.2,194.7 1331.4,153.1 1332.6,178.8 1333.8,181.0 1335.0,169.6 1336.2,157.9 1337.4,169.1 1338.6,156.2 1339.8,181.6 1341.0,169.3 1342.2,188.3 1343.4,194.2 1344.6,179.8 1345.8,196.4 1347.0,191.1 1348.2,174.4 1349.4,181.8 1350.6,149.9 1351.8,156.5 1353.0,137.0 1354.2,147.9 1355.4,109.6 1356.6,129.6 1357.1,103.2 1358.3,103.2 1357.8,118.0 1359.0,153.1 1360.2,126.2 1361.4,161.7 1362.6,137.1 1363.8,159.4 1365.0,172.0 1366.2,156.0 1367.4,186.8 1368.6,157.9 1369.8,184.6 1371.0,158.7 1372.2,165.5 1373.4,193.5 1374.6,196.6 1375.8,172.2 1377.0,186.4 1378.2,185.4 1379.4,177.9 1380.6,203.0 1381.8,184.7 1383.0,197.6 1384.2,231.8 1385.4,203.6 1386.6,234.2 1387.8,216.5 1389.0,221.0 1390.2,217.3 1391.4,234.4 1392.6,242.7 1393.8,212.2 1395.0,244.3 1396.2,228.0 1397.4,267.8 1397.3,278.4 1398.5,278.4 1398.6,218.5 1399.8,242.2 1401.0,194.1 1402.2,211.9 1403.4,162.6 1404.6,176.3 1405.8,244.2 1407.0,203.9 1408.2,224.9 1409.4,202.4 1410.6,234.5 1411.8,213.0 1413.0,242.9 1414.2,203.8 1415.4,244.7 1416.6,228.4 1417.8,256.7 1419.0,257.4 1420.2,197.2 1420.6,280.0 1421.8,280.0 1421.4,248.9 1422.6,184.8 1423.8,209.7 1425.0,210.0 1426.2,153.2 1427.4,208.9 1428.6,177.5 1429.8,227.6 1431.0,179.5 1432.2,238.2 1433.4,200.9 1434.6,230.7 1435.8,200.3 1437.0,170.9 1438.2,185.0 1439.4,159.5 1440.6,177.8 1441.8,166.5 1443.0,174.1 1444.2,156.2 1445.4,186.5 1446.6,160.5 1447.8,162.9 1449.0,183.4 1450.2,181.9 1451.4,143.4 1452.6,140.8 1453.8,180.5 1455.0,174.6 1456.2,137.6 1457.4,163.6 1458.6,147.6 1459.8,170.2 1461.0,153.6 1462.2,175.7 1463.4,154.8 1464.6,184.2 1465.8,166.4 1467.0,186.0 1468.2,174.5 1469.4,201.9 1470.6,191.9 1471.8,217.0 1473.0,194.8 1474.2,210.3 1475.4,176.3 1476.6,173.8 1477.8,129.9 1479.0,163.0 1480.2,120.9 1481.4,154.5 1482.6,97.7 1483.8,146.3 1485.0,114.5 1486.2,105.1 1487.4,165.5 1487.3,88.7 1488.5,88.7 1488.6,157.2 1489.8,123.0 1491.0,174.2 1492.2,137.1 1493.4,175.3 1494.6,148.5 1495.8,171.7 1497.0,136.7 1498.2,127.8 1499.4,157.5 1500.6,103.9 1500.2,96.8 1501.4,96.8 1501.8,108.7 1503.0,151.0 1504.2,141.9 1505.4,117.6 1506.6,144.1 1507.8,141.2 1509.0,99.0 1509.0,98.4 1510.2,98.4 1510.2,136.4 1511.4,116.4 1512.6,147.1 1513.8,124.5 1515.0,139.6 1516.2,197.2 1516.3,114.4 1517.5,114.4 1517.4,157.9 1518.6,226.4 1519.8,231.5 1521.0,236.4 1522.2,204.3 1523.4,199.6 1524.6,226.2 1525.8,199.8 1527.0,210.4 1528.2,222.9 1529.4,211.4 1530.6,230.0 1531.8,217.5 1533.0,234.5 1534.2,219.3 1535.4,220.1 1536.6,244.7 1537.8,243.9 1539.0,227.6 1540.2,242.3 1541.4,234.4 1542.6,253.0 1543.8,241.9 1545.0,260.4 1546.2,242.3 1547.4,261.7 1548.6,250.0 1549.8,245.1 1551.0,253.6 1552.2,247.3 1553.4,232.1 1554.6,241.8 1555.8,237.1 1557.0,249.9 1558.2,259.4 1559.4,275.4 1560.6,289.2 1561.8,299.4 1563.0,291.5 1563.0,309.0 1564.2,309.0 1564.2,301.4 1565.4,284.6 1566.6,290.2 1567.8,275.4 1569.0,278.6 1570.2,259.1 1571.4,260.0 1572.6,233.6 1573.8,237.7 1575.0,242.1 1576.2,258.2 1577.4,251.9 1578.6,250.4 1579.8,270.4 1581.0,279.8 1582.2,282.1 1583.4,293.1 1584.6,283.8 1585.8,290.5 1587.0,278.0 1588.2,278.8 1589.4,265.6 1590.6,248.4 1591.8,248.0 1593.0,224.6 1594.2,224.0 1595.4,205.3 1596.6,213.4 1597.8,205.8 1599.0,181.1 1600.2,184.9 1601.4,173.0 1602.6,181.4 1603.8,169.1 1605.0,177.8 1606.2,167.4 1607.4,183.8 1608.6,170.9 1609.8,188.2 1611.0,183.2 1612.2,196.5 1613.4,200.6 1614.6,211.9 1615.8,209.6 1617.0,236.4 1618.2,242.2 1619.4,229.5 1620.6,256.1 1621.8,247.6 1623.0,268.2 1624.2,253.5 1624.1,292.9 1625.3,292.9 1625.4,248.2 1626.6,257.1 1627.8,268.0 1629.0,242.8 1630.2,257.3 1631.4,240.6 1632.6,256.4 1633.8,229.2 1635.0,233.2 1636.2,211.0 1637.4,226.5 1638.6,215.9 1639.8,232.5 1641.0,223.3 1642.2,245.7 1643.4,233.3 1644.6,253.4 1645.8,250.6 1647.0,267.5 1648.2,268.1 1649.4,260.0 1650.6,272.8 1651.8,266.7 1653.0,283.6 1654.2,285.9 1655.4,289.8 1656.6,274.9 1656.2,294.5 1657.4,294.5 1657.8,283.3 1659.0,262.5 1660.2,266.8 1661.4,254.0 1662.6,225.9 1663.8,229.3 1665.0,236.8 1666.2,222.4 1667.4,237.1 1668.6,226.8 1669.8,238.8 1671.0,223.2 1672.2,232.9 1673.4,234.3 1674.6,214.8 1675.8,219.9 1677.0,215.5 1678.2,180.9 1679.4,193.9 1680.6,192.0 1681.8,174.6 1683.0,184.7 1684.2,179.4 1685.4,180.1 1686.6,156.3 1687.8,170.6 1689.0,157.5 1690.2,171.7 1691.4,160.3 1692.6,158.4 1693.8,173.9 1695.0,171.3 1696.2,195.5 1697.4,177.9 1698.6,193.7 1699.8,181.1 1701.0,176.1 1702.2,189.6 1703.4,180.8 1704.6,186.4 1705.8,185.3 1707.0,171.2 1708.2,185.6 1709.4,172.1 1710.6,182.1 1711.8,150.1 1713.0,177.7 1714.2,155.2 1715.4,167.6 1716.6,188.3 1717.8,174.2 1719.0,184.0 1720.2,171.4 1721.4,174.8 1722.6,188.9 1723.8,173.1 1725.0,182.8 1726.2,158.3 1727.4,158.1 1727.8,117.7 1729.0,117.7 1728.6,132.8 1729.8,126.6 1731.0,132.2 1732.2,137.6 1733.4,152.6 1734.6,145.0 1735.8,160.1 1737.0,157.5 1738.2,144.2 1739.4,149.3 1740.6,158.0 1741.8,173.0 1743.0,154.7 1744.2,169.6 1745.4,151.9 1746.6,177.0 1747.8,146.5 1749.0,169.5 1750.2,154.4 1751.4,163.5 1752.6,141.2 1753.8,162.6 1753.5,133.7 1754.7,133.7 1755.0,141.9 1756.2,172.6 1757.4,171.7 1758.6,182.7 1759.8,165.1 1761.0,183.2" stroke="#ff0000" stroke-width="2.5"/>
<path d="M1065.0,185.2 1067.4,175.5 1069.8,169.1 1073.0,161.1 1076.3,156.2 1079.5,148.2 1082.7,149.8 1085.1,140.2 1088.3,136.2 1090.7,146.6 1093.1,159.5 1095.5,175.5 1098.0,190.0 1099.6,178.8 1101.2,159.5 1102.8,140.2 1104.9,132.1 1107.1,140.2 1109.2,159.5 1110.8,185.2 1111.9,206.1 1114.0,190.0 1116.1,162.7 1118.4,137.0 1120.5,120.9 1122.6,120.9 1124.5,132.1 1126.1,153.0 1128.0,180.4 1130.1,172.3 1131.7,146.6 1134.1,128.9 1136.5,132.1 1138.2,153.0 1139.8,178.8 1141.4,201.3 1143.8,196.4 1146.2,191.6 1148.6,199.7 1151.0,212.5 1153.4,207.7 1155.8,175.5 1158.2,162.7 1161.5,161.1 1163.9,148.2 1165.5,137.0 1167.9,143.4 1169.5,162.7 1171.1,185.2 1173.5,198.0 1175.9,191.6 1177.5,186.8 1180.8,183.6 1184.8,183.6 1187.2,175.5 1189.6,180.4 1192.0,194.8 1194.4,201.3 1196.8,190.0 1199.2,185.2 1201.7,194.8 1204.9,178.8 1207.3,162.7 1208.9,154.6 1210.5,157.9 1212.1,175.5 1213.7,180.4 1215.3,167.5 1217.4,146.6 1219.3,137.0 1221.3,143.4 1223.4,161.1 1225.0,178.8 1226.6,191.6 1228.2,212.5 1231.4,210.9 1234.6,206.1 1237.8,206.1 1240.2,210.9 1241.8,227.0 1243.5,247.9 1245.1,272.0 1246.7,286.5 1248.3,294.5 1249.9,286.5 1251.5,264.0 1253.1,231.8 1254.7,191.6 1257.1,167.5 1259.5,172.3 1261.9,188.4 1264.4,175.5 1266.8,156.2 1268.4,127.3 1270.8,101.6 1273.2,111.2 1275.6,143.4 1277.2,185.2 1279.6,198.0 1282.0,188.4 1284.5,191.6 1287.7,204.5 1290.1,208.5 1293.3,206.1 1295.7,198.0 1298.1,175.5 1300.5,135.3 1302.9,117.7 1303.8,124.1 1306.3,153.0 1308.7,178.8 1311.1,190.0 1314.3,199.7 1316.7,217.3 1319.1,233.4 1322.3,254.3 1325.5,247.9 1328.0,223.8 1329.6,191.6 1332.0,178.8 1335.2,170.7 1337.6,167.5 1340.8,172.3 1344.0,177.1 1346.4,180.4 1348.9,167.5 1351.3,146.6 1353.7,130.5 1356.1,119.3 1359.3,118.5 1361.7,130.5 1364.1,151.4 1367.3,148.2 1370.6,138.6 1373.0,135.3 1375.4,145.0 1377.8,162.7 1380.2,173.9 1382.6,172.3 1385.0,178.8 1388.2,188.4 1390.7,199.7 1393.9,196.4 1397.1,204.5 1398.7,178.8 1401.1,161.1 1403.5,157.9 1405.9,167.5 1408.3,185.2 1410.8,201.3 1413.2,214.1 1415.6,227.0 1418.0,236.6 1420.4,217.3 1422.8,196.4 1425.2,185.2 1428.4,191.6 1431.7,201.3 1434.1,207.7 1436.5,204.5 1438.9,194.8 1441.3,180.4 1443.7,161.1 1445.3,157.9 1447.7,165.9 1449.3,175.5 1451.8,161.1 1454.2,141.8 1455.8,133.7 1458.2,140.2 1460.6,154.6 1463.0,162.7 1465.4,164.3 1467.8,169.1 1470.2,188.4 1471.8,202.9 1473.5,214.1 1475.1,194.8 1476.7,164.3 1479.1,141.8 1482.3,135.3 1485.5,125.7 1488.7,130.5 1491.1,153.0 1493.6,182.0 1496.0,169.1 1498.4,146.6 1500.8,128.9 1504.0,132.1 1507.2,127.3 1510.4,133.7 1512.8,156.2 1515.3,183.6 1517.7,215.7 1520.1,244.7 1521.7,260.7 1524.1,239.8 1526.5,217.3 1529.7,199.7 1532.1,191.6 1532.2,194.8 1535.5,187.6 1537.9,196.4 1540.3,215.7 1542.7,236.6 1545.1,268.8 1546.7,279.2 1549.1,265.6 1550.7,247.9 1553.1,231.8 1555.5,239.8 1558.0,243.1 1560.4,255.9 1562.8,275.2 1564.9,289.7 1566.8,278.4 1569.2,255.9 1571.6,227.0 1574.0,215.7 1576.4,222.2 1579.7,231.8 1582.1,238.2 1584.5,241.5 1586.9,257.5 1589.3,275.2 1591.7,255.9 1594.1,223.8 1596.5,215.7 1599.0,218.9 1601.4,199.7 1604.6,177.1 1607.0,185.2 1608.6,207.7 1611.0,233.4 1613.4,220.6 1615.8,212.5 1618.2,220.6 1620.7,239.8 1623.1,251.1 1625.5,244.7 1628.7,249.5 1631.9,255.9 1635.1,241.5 1638.3,241.5 1641.6,254.3 1644.0,233.4 1646.4,217.3 1648.0,230.2 1650.4,268.8 1652.8,291.3 1655.2,288.1 1657.6,255.9 1660.0,227.0" stroke="#0000ff" stroke-width="3.2"/>
</g>
<rect x="1065" y="62.9" width="698" height="254.49999999999997" fill="none" stroke="#000" stroke-width="2.1"/>
<path d="M1069.5,56.4V62.9M1069.5,317.4V323.9M1093.2,56.4V62.9M1093.2,317.4V323.9M1119.4,56.4V62.9M1119.4,317.4V323.9M1144.7,56.4V62.9M1144.7,317.4V323.9M1170.9,56.4V62.9M1170.9,317.4V323.9M1196.3,56.4V62.9M1196.3,317.4V323.9M1222.5,56.4V62.9M1222.5,317.4V323.9M1248.7,56.4V62.9M1248.7,317.4V323.9M1274.0,56.4V62.9M1274.0,317.4V323.9M1300.2,56.4V62.9M1300.2,317.4V323.9M1325.6,56.4V62.9M1325.6,317.4V323.9M1351.8,56.4V62.9M1351.8,317.4V323.9M1378.0,56.4V62.9M1378.0,317.4V323.9M1401.7,56.4V62.9M1401.7,317.4V323.9M1427.9,56.4V62.9M1427.9,317.4V323.9M1453.2,56.4V62.9M1453.2,317.4V323.9M1479.4,56.4V62.9M1479.4,317.4V323.9M1504.8,56.4V62.9M1504.8,317.4V323.9M1531.0,56.4V62.9M1531.0,317.4V323.9M1557.2,56.4V62.9M1557.2,317.4V323.9M1582.5,56.4V62.9M1582.5,317.4V323.9M1608.7,56.4V62.9M1608.7,317.4V323.9M1634.1,56.4V62.9M1634.1,317.4V323.9M1660.3,56.4V62.9M1660.3,317.4V323.9M1686.5,56.4V62.9M1686.5,317.4V323.9M1711.0,56.4V62.9M1711.0,317.4V323.9M1737.2,56.4V62.9M1737.2,317.4V323.9M1762.6,56.4V62.9M1762.6,317.4V323.9M1058.5,84.1H1065M1763,84.1H1769.5M1058.5,190.1H1065M1763,190.1H1769.5M1058.5,296.2H1065M1763,296.2H1769.5" stroke="#000" stroke-width="2.1" fill="none"/>
<g font-family="'Liberation Serif','Times New Roman',serif" font-size="35.5" text-anchor="middle"><text x="1081.3" y="349.6">F</text><text x="1106.3" y="349.6">M</text><text x="1132.0" y="349.6">A</text><text x="1157.8" y="349.6">M</text><text x="1183.6" y="349.6">J</text><text x="1209.4" y="349.6">J</text><text x="1235.6" y="349.6">A</text><text x="1261.4" y="349.6">S</text><text x="1287.1" y="349.6">O</text><text x="1312.9" y="349.6">N</text><text x="1338.7" y="349.6">D</text><text x="1364.9" y="349.6">J</text><text x="1389.8" y="349.6">F</text><text x="1414.8" y="349.6">M</text><text x="1440.5" y="349.6">A</text><text x="1466.3" y="349.6">M</text><text x="1492.1" y="349.6">J</text><text x="1517.9" y="349.6">J</text><text x="1544.1" y="349.6">A</text><text x="1569.9" y="349.6">S</text><text x="1595.6" y="349.6">O</text><text x="1621.4" y="349.6">N</text><text x="1647.2" y="349.6">D</text><text x="1673.4" y="349.6">J</text><text x="1698.8" y="349.6">F</text><text x="1724.1" y="349.6">M</text><text x="1749.9" y="349.6">A</text><text transform="translate(1081.3,382.6) scale(0.962,1)">2018</text><text transform="translate(1364.9,382.6) scale(0.962,1)">2019</text><text transform="translate(1673.4,382.6) scale(0.962,1)">2020</text></g>
<g font-family="'Liberation Serif','Times New Roman',serif" font-size="34" text-anchor="end"><text x="1044.6" y="95.6">0.5</text><text x="1044.6" y="201.6">0</text><text x="1044.6" y="307.7">-0.5</text></g>
<text transform="translate(962.8,192) rotate(-90)" font-family="'Liberation Serif','Times New Roman',serif" font-size="35" text-anchor="middle">V (m/s)</text>
<text transform="translate(1435.4,35.0) scale(0.96,1)" font-family="'Liberation Serif','Times New Roman',serif" font-size="44.5" text-anchor="middle">122.7°E/18°N</text>
<text x="896.5" y="34" font-family="'Liberation Sans',Arial,sans-serif" font-weight="bold" font-size="29">E</text>
<clipPath id="cF"><rect x="1065" y="463.6" width="698" height="253.69999999999993"/></clipPath>
<g clip-path="url(#cF)" fill="none" stroke-width="2.8" stroke-linejoin="round" stroke-linecap="butt">
<path d="M1065.0,568.7 1066.2,563.0 1067.4,565.1 1068.6,557.2 1069.8,562.6 1071.0,557.2 1072.2,564.5 1073.4,554.2 1074.6,564.8 1075.8,560.1 1077.0,566.6 1078.2,559.4 1079.4,572.2 1080.6,562.9 1081.8,563.7 1083.0,562.9 1084.2,586.0 1085.4,565.3 1086.6,566.9 1087.8,578.7 1089.0,562.5 1090.2,554.9 1091.4,573.7 1092.6,560.0 1093.8,566.5 1095.0,553.4 1096.2,559.1 1097.4,571.0 1098.6,551.9 1099.8,573.8 1101.0,557.9 1102.2,561.0 1103.4,576.2 1104.6,578.3 1105.8,562.2 1107.0,581.8 1108.2,557.0 1109.4,578.6 1110.6,570.1 1111.8,549.5 1113.0,568.4 1114.2,553.0 1115.4,557.0 1116.6,541.3 1117.8,556.9 1119.0,557.4 1120.2,546.6 1121.4,564.2 1122.6,548.3 1123.8,552.3 1125.0,569.3 1126.2,559.6 1127.4,563.8 1128.6,549.6 1129.8,558.0 1131.0,542.6 1132.2,561.2 1133.4,564.9 1134.6,557.2 1135.8,568.9 1137.0,563.4 1138.2,582.5 1139.4,569.4 1140.6,590.1 1141.8,574.5 1143.0,580.5 1144.2,595.8 1145.4,575.1 1146.6,593.9 1147.8,578.9 1149.0,599.8 1150.2,592.8 1151.4,603.9 1152.6,586.6 1153.8,605.0 1155.0,569.7 1156.2,573.8 1157.4,569.2 1158.6,535.6 1159.8,543.8 1161.0,537.8 1162.2,551.5 1163.4,542.7 1164.6,564.1 1165.8,556.4 1167.0,577.8 1168.2,552.7 1169.4,581.3 1170.6,552.9 1171.8,566.7 1173.0,544.7 1174.2,545.5 1175.4,568.6 1176.6,552.8 1177.8,571.7 1179.0,556.9 1180.2,572.0 1181.4,562.7 1182.6,577.3 1183.8,560.9 1185.0,574.8 1186.2,559.5 1187.4,574.6 1188.6,564.5 1189.8,580.4 1191.0,574.8 1192.2,578.6 1193.4,580.0 1194.6,591.1 1195.8,583.2 1197.0,591.8 1198.2,585.7 1199.4,588.3 1200.6,597.8 1201.8,587.0 1203.0,585.0 1204.2,565.2 1205.4,536.0 1206.6,539.6 1207.8,540.9 1209.0,561.3 1210.2,554.7 1211.4,576.5 1212.6,558.6 1213.8,570.4 1215.0,569.9 1216.2,559.8 1217.4,563.0 1218.6,571.4 1219.8,557.2 1221.0,574.8 1222.2,555.1 1223.4,561.2 1224.6,549.2 1225.8,564.8 1227.0,562.7 1228.2,580.4 1229.4,575.8 1230.6,589.4 1231.8,585.8 1233.0,584.7 1234.2,599.1 1235.4,590.3 1236.6,611.0 1237.8,594.4 1239.0,611.1 1240.2,611.1 1241.4,629.4 1242.6,623.5 1243.8,630.8 1245.0,650.7 1246.2,643.9 1247.4,623.2 1248.6,628.8 1249.8,586.4 1251.0,585.1 1252.2,576.7 1253.4,535.2 1254.6,527.1 1255.8,539.8 1257.0,557.5 1258.2,556.9 1259.4,527.6 1260.6,571.4 1261.8,511.6 1261.3,503.2 1262.5,503.2 1263.0,546.6 1264.2,510.1 1265.4,511.2 1266.6,547.3 1267.8,554.8 1269.0,530.9 1270.2,538.2 1271.4,573.8 1272.6,547.8 1273.8,570.2 1275.0,561.1 1276.2,564.6 1277.4,577.8 1278.6,570.0 1279.8,584.5 1281.0,568.9 1282.2,579.2 1283.4,572.1 1284.6,589.9 1285.8,596.0 1287.0,582.7 1288.2,592.6 1289.4,579.2 1290.6,587.7 1291.8,591.3 1293.0,573.8 1294.2,587.7 1295.4,564.5 1296.6,574.9 1297.8,536.4 1299.0,546.3 1300.2,526.6 1301.4,545.2 1302.6,515.1 1303.8,564.9 1305.0,564.1 1306.2,543.5 1307.4,581.3 1308.6,565.7 1309.8,612.1 1311.0,590.2 1312.2,611.2 1313.4,623.7 1314.6,625.5 1315.8,631.1 1317.0,632.4 1318.2,630.6 1319.4,636.7 1320.6,633.7 1321.8,649.3 1323.0,650.6 1322.5,663.2 1323.7,663.2 1324.2,650.3 1325.4,617.1 1326.6,625.7 1327.8,614.1 1329.0,594.8 1330.2,603.8 1331.4,585.7 1332.6,591.4 1333.8,581.1 1335.0,587.5 1336.2,581.1 1337.4,586.3 1338.6,577.5 1339.8,585.9 1341.0,578.3 1342.2,584.4 1343.4,581.5 1344.6,589.2 1345.8,587.1 1347.0,584.2 1348.2,569.2 1349.4,570.0 1350.6,553.5 1351.8,551.6 1353.0,535.0 1354.2,543.3 1355.4,534.5 1356.6,538.0 1357.8,547.6 1359.0,543.8 1360.2,556.9 1361.4,544.8 1362.6,550.4 1363.8,576.8 1365.0,569.6 1366.2,584.6 1367.4,572.7 1368.6,581.8 1369.8,573.6 1371.0,581.2 1372.2,579.7 1373.4,571.8 1374.6,573.4 1375.8,576.4 1377.0,573.4 1378.2,576.2 1379.4,570.2 1380.6,572.1 1381.8,563.2 1383.0,586.6 1384.2,575.6 1385.4,601.4 1386.6,594.2 1386.0,638.2 1387.2,638.2 1387.8,624.5 1389.0,609.9 1390.2,623.8 1391.4,633.3 1392.6,617.1 1393.8,614.9 1395.0,629.0 1396.2,627.9 1397.4,631.4 1398.6,603.1 1399.8,613.8 1401.0,607.5 1402.2,570.6 1403.4,591.6 1404.6,578.3 1405.8,620.7 1407.0,582.6 1408.2,618.4 1409.4,561.1 1410.6,625.2 1411.8,593.9 1413.0,636.8 1414.2,603.8 1415.4,620.7 1416.6,619.6 1417.8,589.1 1419.0,621.0 1420.2,573.9 1419.8,644.7 1421.0,644.7 1421.4,574.4 1422.6,608.0 1423.8,573.7 1425.0,567.5 1426.2,608.7 1427.4,607.0 1428.6,582.8 1429.8,579.3 1431.0,590.5 1432.2,592.4 1433.4,589.8 1434.6,602.2 1435.8,566.9 1437.0,591.8 1438.2,564.7 1439.4,589.6 1440.6,570.6 1441.8,560.7 1443.0,567.8 1444.2,577.9 1445.4,566.8 1446.6,594.9 1447.8,592.0 1449.0,551.9 1450.2,577.2 1451.4,539.1 1452.6,545.4 1453.8,554.7 1454.4,520.9 1455.6,520.9 1455.0,533.3 1456.2,576.1 1457.4,569.5 1458.6,583.1 1459.8,585.5 1461.0,591.0 1462.2,580.5 1463.4,595.0 1464.6,591.0 1465.8,602.9 1467.0,591.5 1468.2,609.0 1469.4,608.6 1470.6,598.2 1471.8,607.7 1473.0,590.5 1474.2,601.1 1475.4,575.2 1476.6,576.7 1477.8,555.0 1479.0,561.6 1480.2,550.0 1481.4,567.1 1482.6,558.6 1483.8,572.3 1485.0,544.2 1486.2,543.2 1487.4,553.9 1488.6,541.7 1489.8,560.0 1491.0,543.5 1492.2,563.5 1493.4,547.2 1494.6,564.0 1495.8,567.9 1497.0,552.0 1498.2,561.0 1499.4,530.7 1500.6,552.5 1501.0,512.8 1502.2,512.8 1501.8,523.5 1503.0,541.1 1504.2,530.2 1505.4,534.8 1506.6,547.2 1507.8,534.7 1509.0,549.5 1510.2,535.9 1511.4,550.9 1512.6,539.3 1513.8,548.3 1515.0,546.7 1516.2,588.7 1517.4,569.3 1518.6,638.3 1519.8,643.3 1521.0,624.6 1522.2,617.0 1523.4,607.8 1524.6,617.2 1525.8,621.6 1527.0,608.0 1528.2,611.1 1529.4,616.5 1530.6,634.2 1531.8,627.6 1533.0,636.3 1534.2,629.5 1535.4,634.6 1536.6,635.9 1537.8,630.2 1539.0,639.0 1540.2,638.0 1541.4,646.2 1542.6,647.5 1543.8,655.4 1545.0,661.3 1546.2,650.5 1547.4,642.5 1548.6,644.2 1549.8,631.7 1551.0,634.8 1552.2,624.3 1553.4,618.6 1554.6,626.1 1555.8,624.3 1557.0,616.1 1558.2,616.7 1559.4,628.6 1560.6,623.5 1561.8,634.9 1563.0,630.9 1564.2,640.1 1565.4,621.2 1566.6,629.8 1567.8,613.6 1569.0,626.7 1570.2,616.9 1571.4,628.6 1572.6,626.0 1573.8,639.2 1575.0,629.1 1576.2,628.7 1577.4,643.4 1578.6,629.4 1579.8,629.4 1581.0,641.2 1582.2,637.1 1583.4,647.4 1584.6,645.8 1585.8,653.1 1587.0,654.3 1588.2,664.4 1589.4,650.7 1590.6,633.2 1591.8,617.4 1593.0,605.9 1594.2,584.1 1595.4,582.1 1596.6,568.9 1597.8,569.9 1599.0,572.8 1600.2,571.8 1601.4,576.5 1602.6,591.7 1603.8,586.7 1605.0,590.2 1606.2,600.2 1607.4,597.6 1608.6,603.5 1609.8,600.7 1611.0,603.6 1612.2,609.8 1613.4,604.6 1614.6,618.2 1615.8,614.7 1617.0,631.8 1618.2,642.3 1619.4,649.6 1620.6,645.7 1621.8,653.6 1623.0,643.5 1624.2,662.9 1625.4,691.1 1624.9,692.9 1626.1,692.9 1626.6,675.5 1627.8,677.7 1629.0,657.8 1630.2,642.2 1631.4,643.1 1632.6,626.6 1633.8,610.2 1635.0,602.1 1636.2,604.4 1637.4,599.5 1638.6,608.5 1639.8,604.8 1641.0,619.2 1642.2,622.9 1643.4,632.2 1644.6,637.9 1645.8,634.3 1647.0,650.5 1648.2,644.7 1649.4,665.8 1650.6,665.6 1651.8,671.1 1653.0,664.8 1654.2,666.0 1655.4,658.6 1656.6,659.0 1657.8,653.2 1659.0,642.1 1660.2,643.9 1661.4,630.7 1662.6,633.5 1663.8,621.9 1665.0,626.6 1666.2,628.5 1667.4,628.5 1668.6,635.9 1669.8,640.1 1671.0,642.8 1672.2,622.3 1673.4,616.0 1674.6,595.3 1675.8,581.5 1677.0,574.2 1678.2,564.9 1679.4,565.4 1680.6,576.3 1681.8,589.0 1683.0,588.1 1684.2,588.8 1685.4,580.2 1686.6,577.1 1687.8,578.6 1689.0,576.5 1690.2,568.6 1691.4,578.4 1692.6,577.4 1693.8,558.8 1694.0,554.6 1695.2,554.6 1695.0,569.8 1696.2,571.2 1697.4,589.1 1698.6,590.4 1699.8,600.1 1701.0,587.7 1702.2,598.0 1703.4,587.8 1704.6,590.0 1705.8,587.7 1707.0,599.4 1708.2,594.3 1709.4,587.5 1710.6,596.4" stroke="#ff0000" stroke-width="2.5"/>
<path d="M1065.0,572.3 1067.4,562.7 1069.8,554.6 1073.0,551.4 1076.3,549.8 1078.7,545.0 1081.1,546.6 1083.5,553.0 1085.9,551.4 1088.3,556.2 1090.7,569.1 1093.1,585.2 1095.5,601.3 1098.0,596.4 1100.4,578.8 1102.8,565.9 1105.2,569.1 1107.6,591.6 1110.0,604.5 1112.4,590.0 1114.8,562.7 1117.3,543.4 1119.7,535.3 1122.1,548.2 1124.5,575.5 1126.9,596.4 1129.3,575.5 1131.7,559.5 1134.1,561.1 1136.5,585.2 1139.0,612.5 1141.4,604.5 1143.8,604.5 1146.2,610.9 1147.8,623.8 1149.4,639.8 1151.8,631.8 1153.4,610.9 1155.0,586.8 1157.4,573.9 1159.9,569.1 1162.3,543.4 1164.4,530.5 1166.3,546.6 1168.7,585.2 1171.1,614.1 1173.5,601.3 1175.9,591.6 1178.3,588.4 1180.8,578.8 1184.0,567.5 1187.2,562.7 1189.6,572.3 1192.0,586.8 1194.4,580.4 1196.8,561.1 1199.2,561.1 1201.7,575.5 1204.1,553.0 1206.5,537.0 1208.9,553.0 1211.3,582.0 1213.7,565.9 1216.1,527.3 1218.5,532.1 1220.9,553.0 1223.4,572.3 1225.8,582.0 1229.0,596.4 1232.2,594.8 1235.4,588.4 1237.8,599.7 1239.4,615.7 1241.0,639.8 1242.7,664.0 1244.3,688.1 1245.9,691.3 1248.3,672.0 1249.9,647.9 1251.5,615.7 1253.1,575.5 1254.7,535.3 1256.3,524.1 1258.7,553.0 1261.1,577.1 1263.6,556.2 1266.0,516.1 1268.4,506.4 1270.8,517.7 1273.2,556.2 1275.6,585.2 1278.0,596.4 1280.4,588.4 1282.8,585.2 1285.3,599.7 1287.7,598.0 1290.1,591.6 1292.5,590.0 1294.9,575.5 1297.3,533.7 1299.7,506.4 1302.1,516.1 1302.2,524.1 1304.6,556.2 1307.1,578.8 1310.3,582.0 1312.7,594.8 1315.1,610.9 1317.5,630.2 1319.9,639.8 1322.3,652.7 1324.7,639.8 1327.2,620.6 1329.6,609.3 1332.8,602.9 1336.0,596.4 1339.2,585.2 1342.4,575.5 1345.6,573.9 1348.1,562.7 1350.5,540.2 1352.9,528.9 1356.1,522.5 1359.3,527.3 1361.7,543.4 1364.1,561.1 1366.5,553.0 1369.0,545.0 1372.2,537.0 1374.6,553.0 1377.0,572.3 1380.2,570.7 1382.6,575.5 1385.0,588.4 1387.4,602.9 1389.9,612.5 1392.3,596.4 1395.5,593.2 1397.9,590.0 1400.3,572.3 1401.9,564.3 1404.3,578.8 1406.7,598.0 1410.0,607.7 1412.4,617.3 1414.8,628.6 1417.2,617.3 1419.6,601.3 1422.0,585.2 1425.2,588.4 1428.4,591.6 1430.9,599.7 1433.3,604.5 1435.7,591.6 1438.1,572.3 1440.5,556.2 1442.9,546.6 1445.3,553.0 1447.7,565.9 1450.1,556.2 1452.6,545.0 1455.0,543.4 1458.2,551.4 1460.6,562.7 1463.0,580.4 1465.4,588.4 1467.8,598.0 1470.2,607.7 1471.8,617.3 1474.3,607.7 1476.7,588.4 1479.1,575.5 1482.3,565.9 1485.5,554.6 1487.9,565.9 1490.3,582.0 1492.7,575.5 1495.2,556.2 1497.6,538.6 1500.0,530.5 1502.4,527.3 1504.8,532.1 1507.2,546.6 1510.4,559.5 1513.6,575.5 1516.1,607.7 1518.5,647.9 1520.1,660.7 1522.5,639.8 1524.9,610.9 1527.3,585.2 1529.7,575.5 1532.1,585.2 1532.2,585.2 1534.6,596.4 1537.1,612.5 1539.5,636.6 1541.9,655.9 1544.3,672.0 1546.7,664.0 1549.1,639.8 1550.7,617.3 1553.1,606.1 1555.5,615.7 1558.0,623.8 1560.4,636.6 1562.8,655.9 1565.2,639.8 1567.6,615.7 1570.0,591.6 1571.6,586.8 1574.0,602.9 1576.4,620.6 1578.9,623.8 1581.3,628.6 1583.7,639.8 1586.1,657.5 1588.5,652.7 1590.9,628.6 1593.3,607.7 1595.7,612.5 1598.2,609.3 1600.6,588.4 1603.0,572.3 1605.4,580.4 1607.8,604.5 1610.2,633.4 1612.6,617.3 1614.2,610.9 1616.6,617.3 1619.1,631.8 1621.5,639.8 1624.7,641.5 1627.1,649.5 1629.5,660.7 1631.9,652.7 1634.3,644.7 1637.5,644.7 1640.8,639.8 1644.0,617.3 1646.4,617.3 1648.8,639.8 1651.2,672.0 1652.8,686.5 1655.2,668.8 1657.6,639.8 1660.0,617.3" stroke="#0000ff" stroke-width="3.2"/>
</g>
<rect x="1065" y="463.6" width="698" height="253.69999999999993" fill="none" stroke="#000" stroke-width="2.1"/>
<path d="M1069.5,457.1V463.6M1069.5,717.3V723.8M1093.2,457.1V463.6M1093.2,717.3V723.8M1119.4,457.1V463.6M1119.4,717.3V723.8M1144.7,457.1V463.6M1144.7,717.3V723.8M1170.9,457.1V463.6M1170.9,717.3V723.8M1196.3,457.1V463.6M1196.3,717.3V723.8M1222.5,457.1V463.6M1222.5,717.3V723.8M1248.7,457.1V463.6M1248.7,717.3V723.8M1274.0,457.1V463.6M1274.0,717.3V723.8M1300.2,457.1V463.6M1300.2,717.3V723.8M1325.6,457.1V463.6M1325.6,717.3V723.8M1351.8,457.1V463.6M1351.8,717.3V723.8M1378.0,457.1V463.6M1378.0,717.3V723.8M1401.7,457.1V463.6M1401.7,717.3V723.8M1427.9,457.1V463.6M1427.9,717.3V723.8M1453.2,457.1V463.6M1453.2,717.3V723.8M1479.4,457.1V463.6M1479.4,717.3V723.8M1504.8,457.1V463.6M1504.8,717.3V723.8M1531.0,457.1V463.6M1531.0,717.3V723.8M1557.2,457.1V463.6M1557.2,717.3V723.8M1582.5,457.1V463.6M1582.5,717.3V723.8M1608.7,457.1V463.6M1608.7,717.3V723.8M1634.1,457.1V463.6M1634.1,717.3V723.8M1660.3,457.1V463.6M1660.3,717.3V723.8M1686.5,457.1V463.6M1686.5,717.3V723.8M1711.0,457.1V463.6M1711.0,717.3V723.8M1737.2,457.1V463.6M1737.2,717.3V723.8M1762.6,457.1V463.6M1762.6,717.3V723.8M1058.5,484.7H1065M1763,484.7H1769.5M1058.5,590.5H1065M1763,590.5H1769.5M1058.5,696.2H1065M1763,696.2H1769.5" stroke="#000" stroke-width="2.1" fill="none"/>
<g font-family="'Liberation Serif','Times New Roman',serif" font-size="35.5" text-anchor="middle"><text x="1081.3" y="749.6">F</text><text x="1106.3" y="749.6">M</text><text x="1132.0" y="749.6">A</text><text x="1157.8" y="749.6">M</text><text x="1183.6" y="749.6">J</text><text x="1209.4" y="749.6">J</text><text x="1235.6" y="749.6">A</text><text x="1261.4" y="749.6">S</text><text x="1287.1" y="749.6">O</text><text x="1312.9" y="749.6">N</text><text x="1338.7" y="749.6">D</text><text x="1364.9" y="749.6">J</text><text x="1389.8" y="749.6">F</text><text x="1414.8" y="749.6">M</text><text x="1440.5" y="749.6">A</text><text x="1466.3" y="749.6">M</text><text x="1492.1" y="749.6">J</text><text x="1517.9" y="749.6">J</text><text x="1544.1" y="749.6">A</text><text x="1569.9" y="749.6">S</text><text x="1595.6" y="749.6">O</text><text x="1621.4" y="749.6">N</text><text x="1647.2" y="749.6">D</text><text x="1673.4" y="749.6">J</text><text x="1698.8" y="749.6">F</text><text x="1724.1" y="749.6">M</text><text x="1749.9" y="749.6">A</text><text transform="translate(1081.3,782.6) scale(0.962,1)">2018</text><text transform="translate(1364.9,782.6) scale(0.962,1)">2019</text><text transform="translate(1673.4,782.6) scale(0.962,1)">2020</text></g>
<g font-family="'Liberation Serif','Times New Roman',serif" font-size="34" text-anchor="end"><text x="1044.6" y="496.2">0.5</text><text x="1044.6" y="601.9">0</text><text x="1044.6" y="707.7">-0.5</text></g>
<text transform="translate(962.8,592) rotate(-90)" font-family="'Liberation Serif','Times New Roman',serif" font-size="35" text-anchor="middle">V (m/s)</text>
<text transform="translate(1435.4,434.6) scale(0.96,1)" font-family="'Liberation Serif','Times New Roman',serif" font-size="44.5" text-anchor="middle">123°E/18°N</text>
<text x="896.5" y="463" font-family="'Liberation Sans',Arial,sans-serif" font-weight="bold" font-size="29">F</text>
<clipPath id="cG"><rect x="1065" y="863.5" width="698" height="254.5999999999999"/></clipPath>
<g clip-path="url(#cG)" fill="none" stroke-width="2.8" stroke-linejoin="round" stroke-linecap="butt">
<path d="M1065.0,973.8 1066.2,971.4 1067.4,974.2 1068.6,972.6 1069.8,975.3 1071.0,972.5 1072.2,978.1 1073.4,973.5 1074.6,979.4 1075.8,976.2 1077.0,982.1 1078.2,985.6 1079.4,977.0 1080.6,979.4 1081.8,972.0 1083.0,973.0 1084.2,976.9 1085.4,974.6 1086.6,988.5 1087.8,988.4 1089.0,996.9 1090.2,986.5 1091.4,988.8 1092.6,999.7 1093.8,988.6 1095.0,1002.7 1096.2,992.9 1097.4,990.0 1098.6,1010.1 1099.8,1007.4 1101.0,1023.2 1102.2,1017.9 1103.4,999.8 1104.6,1004.1 1105.8,982.9 1107.0,991.0 1108.2,983.6 1109.4,988.5 1110.6,997.8 1111.8,990.7 1113.0,995.2 1114.2,993.9 1115.4,979.6 1116.6,969.9 1117.8,973.6 1119.0,985.3 1120.2,988.1 1121.4,990.6 1122.6,985.8 1123.8,1007.6 1125.0,994.9 1126.2,1005.2 1127.4,983.3 1128.6,987.5 1129.8,1001.3 1131.0,992.7 1132.2,1004.9 1133.4,998.0 1134.6,1005.2 1135.8,999.0 1137.0,1003.9 1138.2,1002.2 1139.4,1007.7 1140.6,1006.1 1141.8,1015.8 1143.0,1014.9 1144.2,1022.8 1145.4,1029.2 1146.6,1043.0 1147.8,1032.3 1149.0,1032.0 1150.2,1015.9 1151.4,1005.7 1152.6,992.4 1153.8,973.2 1155.0,976.7 1156.2,967.6 1157.4,976.6 1158.6,960.6 1159.8,968.6 1161.0,966.8 1162.2,960.1 1163.4,962.4 1164.6,964.0 1165.8,981.3 1167.0,975.3 1168.2,974.6 1169.4,986.8 1170.6,969.4 1171.8,972.5 1173.0,984.2 1174.2,975.0 1175.4,989.4 1176.6,969.5 1177.8,979.3 1179.0,961.5 1180.2,971.2 1181.4,955.9 1182.6,952.0 1183.8,965.0 1185.0,945.7 1185.0,940.2 1186.2,940.2 1186.2,967.9 1187.4,956.4 1188.6,963.2 1189.8,963.2 1191.0,977.3 1192.2,961.3 1193.4,961.6 1194.6,968.1 1195.8,963.8 1197.0,982.3 1198.2,975.5 1199.4,982.3 1200.6,990.9 1201.8,986.8 1203.0,1000.0 1202.7,1006.1 1203.9,1006.1 1204.2,996.3 1205.4,983.0 1206.6,980.1 1207.8,967.7 1209.0,984.9 1210.2,964.0 1211.4,984.2 1212.6,979.2 1213.8,966.1 1215.0,983.5 1216.2,981.5 1217.4,963.5 1218.6,980.1 1219.8,968.1 1221.0,976.3 1222.2,976.6 1223.4,955.8 1224.6,956.7 1225.8,980.5 1227.0,973.7 1228.2,986.2 1229.4,978.8 1230.6,986.6 1231.8,983.5 1233.0,990.1 1234.2,985.7 1235.4,987.1 1236.6,989.9 1237.8,995.5 1239.0,1009.8 1240.2,1024.9 1241.4,1017.8 1242.6,1046.4 1243.8,1050.8 1245.0,1051.1 1246.2,1038.8 1247.4,1006.5 1248.6,1014.7 1249.8,1002.0 1251.0,987.5 1252.2,956.6 1253.4,964.9 1254.6,949.0 1255.8,969.8 1257.0,957.8 1258.2,981.7 1259.4,968.5 1260.6,973.8 1261.8,997.1 1262.1,1035.0 1263.3,1035.0 1263.0,1011.8 1264.2,996.2 1265.4,974.1 1266.6,1008.4 1267.8,973.9 1269.0,976.6 1270.2,999.9 1271.4,980.3 1272.6,985.3 1273.8,965.0 1275.0,979.6 1276.2,958.9 1277.4,978.8 1278.6,962.4 1279.8,976.1 1281.0,974.0 1282.2,988.3 1283.4,995.1 1284.6,987.3 1285.8,991.1 1287.0,1003.2 1288.2,985.0 1289.4,997.8 1290.6,983.2 1291.8,995.1 1293.0,985.0 1294.2,990.0 1295.4,978.2 1296.6,1005.0 1297.8,994.8 1297.5,1046.0 1298.7,1046.0 1299.0,1026.7 1298.4,1047.9 1299.6,1047.9 1300.2,985.0 1300.7,912.0 1301.9,912.0 1301.4,996.7 1302.6,953.8 1303.8,990.1 1304.0,912.8 1305.2,912.8 1305.0,971.1 1306.2,931.5 1307.4,979.5 1308.6,960.3 1309.8,1011.7 1311.0,1007.3 1312.2,1021.8 1313.4,1029.4 1314.6,1021.9 1315.8,1026.1 1317.0,1021.1 1318.2,1020.6 1319.4,1035.7 1320.6,1026.3 1321.8,1035.4 1323.0,1030.6 1324.2,1036.3 1325.4,1035.9 1326.6,1026.9 1327.8,1032.5 1329.0,1024.9 1330.2,1020.7 1331.4,1004.1 1332.6,1014.3 1333.8,1006.5 1335.0,990.9 1336.2,1000.1 1337.4,983.4 1338.6,993.7 1339.8,981.6 1341.0,989.2 1342.2,976.9 1343.4,984.8 1344.6,971.6 1345.8,967.1 1347.0,971.3 1348.2,968.6 1349.4,952.1 1350.6,943.4 1351.8,935.4 1353.0,949.7 1354.2,938.2 1355.4,944.6 1356.6,934.1 1357.8,933.4 1359.0,935.8 1360.2,939.1 1361.4,958.2 1362.6,944.6 1363.8,944.8 1365.0,980.1 1366.2,953.0 1367.4,979.7 1368.6,945.6 1369.8,968.3 1371.0,978.9 1372.2,959.9 1373.4,991.8 1374.6,968.0 1375.8,987.2 1377.0,972.3 1378.2,971.6 1379.4,991.3 1380.6,993.0 1381.8,968.5 1383.0,976.8 1384.2,996.7 1385.4,977.3 1386.6,993.0 1387.8,971.4 1389.0,999.4 1390.2,976.1 1391.4,1007.5 1392.6,968.4 1393.8,990.7 1395.0,962.0 1396.2,986.2 1397.4,980.3 1398.6,944.4 1399.8,991.3 1401.0,986.5 1402.2,970.6 1403.4,951.6 1404.6,960.1 1405.8,999.8 1407.0,969.5 1408.2,993.0 1409.4,963.3 1410.6,1020.2 1411.8,976.3 1411.8,1039.8 1413.0,1039.8 1413.0,1020.4 1414.2,987.3 1415.4,975.4 1416.6,971.4 1417.8,1008.8 1419.0,1000.7 1420.2,971.2 1421.4,989.6 1422.6,963.4 1423.8,990.4 1425.0,963.2 1426.2,945.3 1427.4,948.5 1428.6,971.3 1429.8,960.9 1431.0,939.0 1432.2,963.7 1433.4,945.6 1434.6,981.0 1435.8,978.0 1437.0,949.0 1438.2,969.5 1439.4,938.4 1440.6,950.4 1441.8,947.8 1443.0,939.1 1444.2,937.6 1445.4,958.4 1446.6,936.0 1446.3,925.7 1447.5,925.7 1447.8,947.0 1449.0,938.8 1450.2,926.8 1451.4,958.3 1452.6,937.2 1453.8,955.7 1455.0,962.6 1456.2,950.7 1457.4,981.8 1458.6,981.5 1459.8,992.7 1461.0,984.0 1462.2,1013.9 1463.4,992.6 1464.6,1016.6 1465.8,1022.7 1467.0,1015.4 1468.2,1032.7 1469.4,1037.7 1470.6,1029.2 1471.8,1037.5 1473.0,1009.8 1474.2,1021.9 1475.4,997.1 1476.6,1008.9 1477.8,988.0 1479.0,1001.4 1480.2,1001.4 1481.4,975.3 1482.6,993.2 1483.8,994.5 1485.0,976.5 1486.2,994.3 1487.4,967.8 1488.6,987.9 1489.8,956.5 1491.0,943.6 1492.2,951.5 1493.4,927.9 1494.6,934.8 1495.8,929.0 1497.0,942.1 1498.2,932.9 1499.4,947.8 1500.6,932.5 1501.8,950.9 1503.0,941.9 1504.2,947.7 1505.4,965.0 1506.6,955.7 1507.8,969.7 1509.0,965.5 1510.2,982.1 1511.4,973.5 1512.6,978.8 1513.8,1001.9 1515.0,994.8 1516.2,1032.4 1517.4,1049.6 1518.6,1064.3 1519.8,1035.1 1521.0,1041.5 1522.2,1003.4 1523.4,1019.1 1524.6,990.0 1525.8,1000.1 1527.0,956.2 1528.2,963.5 1529.4,943.9 1530.6,968.8 1531.8,957.3 1533.0,992.2 1534.2,987.9 1535.4,1011.6 1536.6,1014.1 1537.8,1023.1 1539.0,1012.2 1540.2,1025.0 1541.4,1015.5 1542.6,1016.2 1543.8,1001.4 1545.0,1007.5 1546.2,1000.1 1547.4,998.9 1548.6,993.3 1549.8,987.8 1551.0,988.4 1552.2,971.5 1553.4,981.5 1554.6,969.1 1555.8,966.1 1557.0,981.6 1558.2,970.7 1559.4,990.9 1560.6,984.2 1561.8,983.7 1563.0,996.2 1564.2,1000.9 1565.4,991.2 1566.6,1004.8 1567.8,1003.5 1569.0,1017.2 1570.2,1015.2 1571.4,1034.4 1572.6,1032.0 1573.8,1026.2 1575.0,1008.0 1576.2,1014.7 1577.4,1004.9 1578.6,1014.1 1579.8,1002.5 1581.0,1005.1 1582.2,1000.3 1583.4,1009.2 1584.6,1001.7 1585.8,1009.6 1587.0,1004.7 1588.2,1006.5 1589.4,1000.2 1590.6,1004.4 1591.8,989.9 1593.0,987.2 1594.2,992.5 1595.4,976.7 1596.6,980.4 1597.8,976.5 1599.0,985.6 1600.2,991.8 1601.4,990.2 1602.6,999.1 1603.8,997.5 1605.0,997.9 1606.2,1011.4 1607.4,1004.7 1608.6,1020.4 1609.8,1020.0 1611.0,1036.9 1612.2,1031.1 1613.4,1041.1 1614.6,1040.2 1615.8,1052.3 1617.0,1051.4 1616.8,1066.4 1618.0,1066.4 1618.2,1060.2 1619.4,1060.9 1620.6,1058.9 1621.8,1052.1 1623.0,1055.0 1624.2,1047.2 1625.4,1054.1 1626.6,1042.8 1627.8,1044.7 1629.0,1032.0 1630.2,1020.4 1631.4,1006.8 1632.6,1000.9 1633.8,997.8 1635.0,999.1 1636.2,990.4 1637.4,987.7 1638.6,991.6 1639.8,989.5 1641.0,995.1 1642.2,993.7 1643.4,1001.8 1644.6,1001.8 1645.8,1013.9 1647.0,1011.4 1648.2,1018.8 1649.4,1037.8 1650.6,1035.2 1651.8,1035.1 1653.0,1015.2 1654.2,1015.7 1655.4,1015.6 1656.6,1021.6 1657.8,1011.6 1659.0,1028.4 1660.2,1014.0 1661.4,1007.0 1662.6,1016.3 1663.8,1010.7 1665.0,1017.0 1666.2,1008.5 1667.4,1012.1 1668.6,1016.6 1669.8,1031.3 1671.0,1026.2 1672.2,1023.9 1673.4,1004.6 1674.6,993.4 1675.8,986.9 1677.0,967.7 1678.2,972.0 1679.4,981.0 1680.6,986.1 1681.8,989.8 1683.0,983.2 1684.2,979.6 1685.4,966.3 1686.6,975.8 1687.8,970.0 1689.0,970.1 1690.2,976.1 1691.4,973.1 1692.6,968.0 1692.4,948.2 1693.6,948.2 1693.8,960.1 1695.0,991.9 1696.2,983.1 1697.4,996.3 1698.6,994.2 1699.8,998.7 1699.6,1012.5 1700.8,1012.5 1701.0,1001.4 1702.2,972.3 1703.4,958.1 1703.7,940.2 1704.9,940.2 1704.6,954.3 1705.8,962.2 1707.0,960.7 1708.2,983.4 1709.4,972.5 1710.6,989.6 1711.8,987.9 1713.0,1001.8 1714.2,1001.3 1715.4,1016.2 1716.6,1014.8 1717.8,1020.4 1719.0,1026.7 1720.2,1023.4 1721.4,1017.9 1722.6,1020.4 1723.8,1005.7 1725.0,1006.5 1726.2,999.7 1727.4,980.1 1728.6,981.2 1729.8,969.5 1731.0,980.8" stroke="#ff0000" stroke-width="2.5"/>
<path d="M1065.0,945.0 1068.2,948.2 1071.4,951.4 1074.6,953.0 1077.9,954.6 1081.1,962.7 1084.3,969.1 1087.5,975.5 1089.9,985.2 1091.5,999.7 1093.1,1020.6 1095.2,1033.4 1097.2,1023.8 1099.6,1012.5 1102.0,1010.9 1104.4,1017.3 1106.8,1030.2 1109.2,1010.9 1111.6,982.0 1114.0,967.5 1116.4,969.1 1118.9,965.9 1121.3,975.5 1122.9,994.8 1124.8,1020.6 1126.9,1007.7 1129.3,988.4 1131.7,988.4 1134.1,1002.9 1136.5,1020.6 1138.6,1035.0 1140.6,1022.2 1143.0,1020.6 1145.4,1039.8 1147.8,1062.4 1150.2,1044.7 1152.6,1020.6 1155.0,994.8 1157.4,978.8 1159.9,957.9 1162.3,946.6 1164.7,956.2 1167.1,988.4 1169.5,1007.7 1171.9,996.4 1174.3,978.8 1177.5,975.5 1180.8,962.7 1183.2,959.5 1185.6,967.5 1188.8,978.8 1192.0,972.3 1194.4,949.8 1196.8,953.0 1199.2,965.9 1201.7,953.0 1204.1,937.0 1206.5,937.0 1208.9,962.7 1211.3,953.0 1212.9,937.0 1215.3,930.5 1217.7,946.6 1220.1,962.7 1223.4,965.9 1225.8,962.7 1228.2,975.5 1231.4,983.6 1234.6,986.8 1237.0,1001.3 1239.4,1031.8 1241.8,1072.0 1243.8,1089.7 1245.9,1075.2 1248.3,1023.8 1249.9,978.8 1252.3,927.3 1254.7,909.6 1257.1,924.1 1259.5,970.7 1261.9,943.4 1264.4,911.2 1266.3,898.4 1268.4,917.7 1270.8,962.7 1273.2,986.8 1276.4,985.2 1279.6,983.6 1282.8,982.0 1285.3,991.6 1287.7,980.4 1290.1,967.5 1292.5,962.7 1294.9,932.1 1297.8,906.4 1300.5,916.1 1302.9,959.5 1303.8,975.5 1306.3,977.1 1309.5,982.0 1311.9,996.4 1314.3,1017.3 1316.7,1036.6 1319.1,1046.3 1321.0,1055.9 1323.9,1043.1 1327.2,1035.0 1330.4,1028.6 1332.8,1020.6 1335.2,1004.5 1337.6,990.0 1340.0,980.4 1342.4,977.1 1345.6,969.1 1348.1,956.2 1350.5,940.2 1352.9,937.0 1356.1,937.0 1358.5,941.8 1360.9,959.5 1363.3,970.7 1365.7,956.2 1368.2,943.4 1370.6,937.0 1373.0,953.0 1375.4,980.4 1377.0,988.4 1378.6,980.4 1380.2,972.3 1382.6,985.2 1385.0,999.7 1387.4,1012.5 1389.9,1002.9 1392.3,990.0 1394.7,985.2 1397.1,967.5 1399.5,959.5 1401.9,975.5 1404.3,994.8 1406.7,1004.5 1410.0,1006.1 1412.4,1010.9 1414.8,1018.9 1417.2,1004.5 1419.6,990.0 1422.0,980.4 1425.2,982.0 1427.6,985.2 1430.9,999.7 1433.3,991.6 1435.7,975.5 1438.1,957.9 1440.5,941.8 1442.1,933.7 1444.5,949.8 1446.9,975.5 1449.3,965.9 1451.8,953.0 1454.2,949.8 1456.6,959.5 1459.0,972.3 1461.4,991.6 1463.8,1010.9 1467.0,1018.9 1469.4,1033.4 1471.0,1036.6 1473.5,1025.4 1475.9,1012.5 1479.1,999.7 1481.5,985.2 1483.9,975.5 1486.3,973.9 1489.5,965.9 1491.9,949.8 1495.2,937.0 1498.4,930.5 1501.6,927.3 1504.0,938.6 1506.4,956.2 1508.8,972.3 1511.2,983.6 1513.6,994.8 1516.1,1023.8 1518.5,1064.0 1520.1,1055.9 1522.5,1015.7 1524.9,983.6 1528.1,949.8 1530.5,959.5 1532.9,991.6 1533.0,994.8 1535.5,1017.3 1537.9,1033.4 1540.3,1052.7 1542.4,1062.4 1544.3,1055.9 1546.7,1023.8 1549.1,991.6 1551.5,975.5 1553.9,985.2 1556.4,996.4 1559.6,1007.7 1562.0,1012.5 1564.4,991.6 1566.8,972.3 1568.4,967.5 1570.8,983.6 1573.2,1007.7 1575.6,1022.2 1578.1,1017.3 1580.5,1014.1 1582.9,1023.8 1584.8,1038.2 1586.9,1023.8 1589.3,1004.5 1591.7,994.8 1594.1,1002.9 1596.5,994.8 1599.0,978.8 1601.4,970.7 1603.0,983.6 1604.6,1010.9 1607.0,1033.4 1609.4,1039.8 1611.8,1020.6 1614.2,1010.9 1616.6,1020.6 1619.1,1033.4 1621.5,1036.6 1623.9,1038.2 1626.3,1052.7 1628.7,1060.7 1631.1,1047.9 1633.5,1031.8 1635.9,1030.2 1639.1,1027.0 1641.6,1017.3 1643.2,1007.7 1645.3,1020.6 1647.2,1046.3 1649.1,1067.2 1651.2,1047.9 1653.6,1031.8 1656.8,1020.6 1659.2,1007.7 1660.5,1004.5" stroke="#0000ff" stroke-width="3.2"/>
</g>
<rect x="1065" y="863.5" width="698" height="254.5999999999999" fill="none" stroke="#000" stroke-width="2.1"/>
<path d="M1069.5,857.0V863.5M1069.5,1118.1V1124.6M1093.2,857.0V863.5M1093.2,1118.1V1124.6M1119.4,857.0V863.5M1119.4,1118.1V1124.6M1144.7,857.0V863.5M1144.7,1118.1V1124.6M1170.9,857.0V863.5M1170.9,1118.1V1124.6M1196.3,857.0V863.5M1196.3,1118.1V1124.6M1222.5,857.0V863.5M1222.5,1118.1V1124.6M1248.7,857.0V863.5M1248.7,1118.1V1124.6M1274.0,857.0V863.5M1274.0,1118.1V1124.6M1300.2,857.0V863.5M1300.2,1118.1V1124.6M1325.6,857.0V863.5M1325.6,1118.1V1124.6M1351.8,857.0V863.5M1351.8,1118.1V1124.6M1378.0,857.0V863.5M1378.0,1118.1V1124.6M1401.7,857.0V863.5M1401.7,1118.1V1124.6M1427.9,857.0V863.5M1427.9,1118.1V1124.6M1453.2,857.0V863.5M1453.2,1118.1V1124.6M1479.4,857.0V863.5M1479.4,1118.1V1124.6M1504.8,857.0V863.5M1504.8,1118.1V1124.6M1531.0,857.0V863.5M1531.0,1118.1V1124.6M1557.2,857.0V863.5M1557.2,1118.1V1124.6M1582.5,857.0V863.5M1582.5,1118.1V1124.6M1608.7,857.0V863.5M1608.7,1118.1V1124.6M1634.1,857.0V863.5M1634.1,1118.1V1124.6M1660.3,857.0V863.5M1660.3,1118.1V1124.6M1686.5,857.0V863.5M1686.5,1118.1V1124.6M1711.0,857.0V863.5M1711.0,1118.1V1124.6M1737.2,857.0V863.5M1737.2,1118.1V1124.6M1762.6,857.0V863.5M1762.6,1118.1V1124.6M1058.5,884.7H1065M1763,884.7H1769.5M1058.5,990.8H1065M1763,990.8H1769.5M1058.5,1096.9H1065M1763,1096.9H1769.5" stroke="#000" stroke-width="2.1" fill="none"/>
<g font-family="'Liberation Serif','Times New Roman',serif" font-size="35.5" text-anchor="middle"><text x="1081.3" y="1149.6">F</text><text x="1106.3" y="1149.6">M</text><text x="1132.0" y="1149.6">A</text><text x="1157.8" y="1149.6">M</text><text x="1183.6" y="1149.6">J</text><text x="1209.4" y="1149.6">J</text><text x="1235.6" y="1149.6">A</text><text x="1261.4" y="1149.6">S</text><text x="1287.1" y="1149.6">O</text><text x="1312.9" y="1149.6">N</text><text x="1338.7" y="1149.6">D</text><text x="1364.9" y="1149.6">J</text><text x="1389.8" y="1149.6">F</text><text x="1414.8" y="1149.6">M</text><text x="1440.5" y="1149.6">A</text><text x="1466.3" y="1149.6">M</text><text x="1492.1" y="1149.6">J</text><text x="1517.9" y="1149.6">J</text><text x="1544.1" y="1149.6">A</text><text x="1569.9" y="1149.6">S</text><text x="1595.6" y="1149.6">O</text><text x="1621.4" y="1149.6">N</text><text x="1647.2" y="1149.6">D</text><text x="1673.4" y="1149.6">J</text><text x="1698.8" y="1149.6">F</text><text x="1724.1" y="1149.6">M</text><text x="1749.9" y="1149.6">A</text><text transform="translate(1081.3,1182.6) scale(0.962,1)">2018</text><text transform="translate(1364.9,1182.6) scale(0.962,1)">2019</text><text transform="translate(1673.4,1182.6) scale(0.962,1)">2020</text></g>
<g font-family="'Liberation Serif','Times New Roman',serif" font-size="34" text-anchor="end"><text x="1044.6" y="896.2">0.5</text><text x="1044.6" y="1002.3">0</text><text x="1044.6" y="1108.4">-0.5</text></g>
<text transform="translate(962.8,992) rotate(-90)" font-family="'Liberation Serif','Times New Roman',serif" font-size="35" text-anchor="middle">V (m/s)</text>
<text transform="translate(1435.4,834.8) scale(0.96,1)" font-family="'Liberation Serif','Times New Roman',serif" font-size="44.5" text-anchor="middle">123.3°E/18°N</text>
<text x="896.5" y="838" font-family="'Liberation Sans',Arial,sans-serif" font-weight="bold" font-size="29">G</text>
<clipPath id="cH"><rect x="1065" y="1264.3" width="698" height="253.70000000000005"/></clipPath>
<g clip-path="url(#cH)" fill="none" stroke-width="2.8" stroke-linejoin="round" stroke-linecap="butt">
<path d="M1065.0,1379.3 1066.2,1363.4 1067.4,1368.0 1068.6,1359.9" stroke="#ff0000" stroke-width="2.5"/>
<path d="M1088.3,1416.6 1089.5,1412.4 1090.7,1397.1 1091.9,1390.4 1093.1,1415.3 1094.3,1406.7 1095.5,1396.0 1096.7,1406.9 1097.9,1400.4 1099.1,1413.6 1100.3,1393.6 1101.5,1412.9 1102.7,1400.1 1103.9,1418.0 1105.1,1388.6 1106.3,1408.2 1107.5,1397.9 1108.7,1406.1 1109.9,1406.2 1111.1,1392.7 1112.3,1413.7 1113.5,1411.4 1114.7,1389.0 1115.9,1420.4 1117.1,1391.3 1118.3,1395.0 1119.5,1420.3 1120.7,1419.1 1121.9,1398.6 1123.1,1430.9 1124.3,1419.7 1125.5,1388.8 1126.7,1390.9 1127.9,1405.2 1129.1,1383.7" stroke="#ff0000" stroke-width="2.5"/>
<path d="M1163.1,1392.0 1164.3,1385.9 1165.5,1406.9 1166.7,1397.4 1167.9,1409.7 1169.1,1434.4 1170.3,1422.7 1171.5,1427.3 1172.7,1435.0" stroke="#ff0000" stroke-width="2.5"/>
<path d="M1192.0,1434.1 1193.2,1428.2 1194.4,1430.9 1195.6,1423.6 1196.8,1430.9 1198.0,1423.0 1199.2,1434.8 1200.4,1427.1 1201.6,1441.3 1202.8,1432.1 1204.0,1430.7 1205.2,1416.5 1206.4,1433.9 1207.6,1421.5 1208.8,1429.8 1210.0,1418.3 1211.2,1428.1 1212.4,1418.7 1213.6,1395.7 1214.8,1398.4 1216.0,1406.7 1217.2,1392.9 1218.4,1410.4 1219.6,1406.5 1220.8,1414.0 1222.0,1398.0 1223.2,1397.4 1224.4,1355.8 1225.6,1341.9 1226.8,1330.5 1228.0,1329.1 1229.2,1333.3 1230.4,1322.8 1231.6,1330.1 1232.8,1325.6 1234.0,1331.2 1235.2,1336.1 1236.4,1331.0 1237.6,1334.6 1238.8,1339.4 1240.0,1351.5 1241.2,1352.8 1242.4,1368.5 1243.6,1360.8 1244.8,1364.1 1246.0,1366.7 1247.2,1355.1 1248.4,1351.4 1249.6,1361.6 1250.8,1350.1 1252.0,1362.2 1253.2,1354.6 1254.4,1333.5 1255.6,1342.1 1256.8,1339.5 1258.0,1319.9 1259.2,1333.9 1260.4,1338.4 1261.6,1336.1 1262.8,1344.7 1264.0,1359.4 1265.2,1353.9 1266.4,1353.8 1267.6,1361.9 1268.8,1350.9 1270.0,1346.1 1271.2,1365.8 1272.4,1359.1 1273.6,1373.9 1274.8,1358.1 1276.0,1374.8 1277.2,1369.6 1278.4,1361.0 1279.6,1354.6 1280.8,1368.0 1282.0,1354.1 1283.2,1359.3 1284.4,1344.8 1285.6,1358.5 1286.8,1358.1 1288.0,1357.6 1289.2,1402.6 1290.4,1411.9 1291.6,1404.7 1292.8,1400.5 1294.0,1390.7 1295.2,1380.4 1296.4,1362.8 1297.6,1377.3 1298.8,1375.0 1300.0,1372.4 1301.2,1368.6 1302.4,1380.5 1303.6,1392.9 1304.8,1402.1 1306.0,1379.6 1307.2,1399.3 1308.4,1362.3 1309.6,1392.8 1310.8,1376.5 1312.0,1395.4 1313.2,1384.5 1314.4,1403.5 1315.6,1395.2 1316.8,1404.9 1318.0,1389.8 1319.2,1392.4 1320.4,1388.3 1321.6,1395.2 1322.8,1392.2 1324.0,1377.8 1325.2,1396.6 1326.4,1386.1 1327.6,1397.2 1328.8,1397.3 1330.0,1376.6 1331.2,1401.2 1332.4,1381.4 1333.6,1406.6 1334.8,1405.5 1336.0,1387.9 1337.2,1416.5 1338.4,1400.5 1339.6,1422.0 1340.8,1391.8 1342.0,1392.3 1343.2,1392.2 1344.4,1402.2 1345.6,1402.6 1346.8,1401.6 1348.0,1399.6 1349.2,1419.9 1350.4,1400.5 1351.6,1420.1 1352.8,1412.2 1354.0,1428.8 1355.2,1425.1 1356.4,1413.8 1357.6,1414.2 1358.8,1393.0 1360.0,1375.3 1361.2,1389.9 1362.4,1364.7 1363.6,1379.9 1364.8,1360.4 1366.0,1373.2 1367.2,1365.6 1368.4,1345.3 1369.6,1364.5 1370.8,1345.7 1372.0,1366.1 1373.2,1352.7 1374.4,1368.2 1375.6,1344.0 1376.8,1366.7 1378.0,1342.8 1379.2,1358.6 1380.4,1343.3 1381.6,1329.6 1382.8,1348.8 1384.0,1335.0 1385.2,1358.9 1386.4,1341.0 1387.6,1371.1 1388.0,1401.3 1389.2,1401.3 1388.8,1345.4 1390.0,1357.9 1391.2,1325.1 1392.4,1297.0 1392.5,1263.0 1393.7,1263.0 1393.6,1298.9 1394.8,1291.8 1396.0,1318.4 1397.2,1295.2 1398.4,1321.4 1399.6,1312.7 1400.8,1320.4 1402.0,1341.4 1403.2,1343.4 1404.4,1365.6 1405.6,1375.3 1406.8,1377.5 1408.0,1360.8 1409.2,1362.7 1410.4,1344.2 1411.6,1364.1 1412.8,1356.4 1414.0,1338.1 1415.2,1344.1 1416.4,1326.6 1417.6,1337.2 1418.8,1305.2 1420.0,1302.5 1421.2,1325.5 1422.4,1318.2 1423.6,1326.6 1424.8,1348.6 1426.0,1352.9 1427.2,1364.7 1428.4,1346.3 1429.6,1355.6 1430.8,1367.2 1432.0,1360.4 1433.2,1359.1 1434.4,1386.1 1435.6,1390.9 1436.8,1385.6 1438.0,1368.1 1439.2,1364.3 1440.4,1361.3 1441.6,1364.5 1442.8,1352.8 1444.0,1351.2 1445.2,1365.9 1446.4,1351.0 1447.6,1370.5 1448.8,1347.7 1450.0,1372.7 1451.2,1372.4 1452.4,1361.2 1453.6,1369.9 1454.8,1375.5 1456.0,1372.3 1457.2,1354.2 1458.4,1380.4 1459.6,1358.0 1460.8,1375.5 1462.0,1362.5 1463.2,1397.8 1464.4,1382.8 1465.6,1400.5 1466.8,1393.5 1468.0,1392.9 1469.2,1398.1 1470.4,1384.8 1471.6,1392.6 1472.8,1392.9 1474.0,1370.4 1475.2,1391.6 1476.4,1366.3 1477.6,1379.7 1478.8,1369.3 1480.0,1367.7 1481.2,1359.7 1482.4,1378.9 1483.6,1334.0 1484.8,1366.8 1486.0,1345.1 1487.2,1373.3 1488.4,1385.4 1489.6,1369.7 1490.8,1392.4 1492.0,1391.8 1493.2,1412.3 1494.4,1416.4 1495.6,1407.9 1496.8,1414.8 1498.0,1432.1 1499.2,1420.0 1500.4,1432.9 1501.6,1454.4 1502.8,1451.4 1504.0,1439.7 1505.2,1426.4 1506.4,1402.4 1507.6,1408.1 1508.8,1388.3 1510.0,1386.8 1511.2,1385.5 1512.4,1401.5 1513.6,1369.4 1514.8,1393.1 1516.0,1401.5 1517.2,1395.2 1518.4,1398.7 1519.6,1369.3 1520.8,1392.1 1522.0,1382.7 1523.2,1398.3 1524.4,1377.6 1525.6,1391.6 1526.8,1371.8 1528.0,1373.9 1529.2,1390.0 1530.4,1384.5 1531.6,1358.8 1532.8,1364.5 1534.0,1388.0 1535.2,1410.7 1536.4,1389.9 1537.6,1417.3 1538.8,1429.4 1540.0,1411.2 1541.2,1428.0 1542.4,1419.4 1543.6,1435.2 1544.8,1415.2 1546.0,1431.8 1547.2,1413.2 1548.4,1421.3 1549.6,1424.2 1550.8,1399.8 1552.0,1401.4 1553.2,1376.7 1554.4,1380.4 1555.6,1374.5 1556.8,1396.3 1558.0,1421.5 1559.2,1401.0 1560.4,1434.3 1561.6,1407.2 1562.8,1361.7 1564.0,1291.7 1565.2,1302.8 1566.4,1304.7 1567.6,1371.7 1568.8,1363.9 1570.0,1353.7 1571.2,1368.3 1572.4,1352.7 1573.6,1353.4 1574.8,1349.9 1576.0,1362.2 1577.2,1349.5 1578.4,1362.3 1579.6,1344.1 1580.8,1359.7 1582.0,1377.5 1583.2,1364.2 1584.4,1367.5 1585.6,1393.2 1586.8,1379.9 1588.0,1398.0 1589.2,1379.3 1590.4,1407.8 1591.6,1390.8 1592.8,1419.5 1594.0,1398.7 1595.2,1410.1 1596.4,1408.1 1597.6,1387.7 1598.8,1406.1 1600.0,1384.8 1601.2,1388.5 1602.4,1360.4 1603.6,1374.3 1604.8,1365.5 1606.0,1382.9 1607.2,1373.6 1608.4,1396.5 1609.6,1386.6 1610.8,1376.1 1612.0,1388.3 1613.2,1371.1 1614.4,1386.6 1615.6,1363.9 1616.8,1396.8 1618.0,1378.0 1619.2,1382.2 1620.4,1425.4 1620.4,1452.7 1621.6,1452.7 1621.6,1384.7 1622.8,1412.1 1624.0,1421.8 1625.2,1411.7 1626.4,1418.3 1627.6,1403.9 1628.8,1409.5 1630.0,1402.0 1631.2,1363.8 1632.4,1381.6 1633.6,1362.0 1634.8,1369.5 1636.0,1371.7 1637.2,1403.6 1638.4,1378.9 1639.6,1389.3 1640.8,1356.8 1642.0,1372.0 1643.2,1346.9 1644.4,1361.2 1645.6,1355.2 1646.8,1377.8 1648.0,1359.7 1649.2,1409.1 1650.4,1447.1 1650.6,1483.3 1651.8,1483.3 1651.6,1432.0 1652.8,1453.9 1654.0,1430.6 1655.2,1393.7 1656.4,1394.1 1657.6,1375.4 1658.8,1385.0 1660.0,1368.8 1661.2,1395.1 1662.4,1395.9 1663.6,1385.4 1664.8,1406.8 1666.0,1406.1 1667.2,1390.3 1668.4,1405.9 1669.6,1393.4 1670.8,1413.6 1672.0,1401.2 1673.2,1396.7 1674.4,1427.3 1675.6,1415.4 1676.8,1428.6 1678.0,1425.8 1679.2,1427.3 1680.4,1443.5 1681.6,1429.4 1682.8,1435.7 1684.0,1456.1 1685.2,1455.7 1686.4,1472.2 1687.6,1463.1 1688.8,1471.9 1690.0,1468.0 1691.2,1477.7 1692.4,1470.3 1693.6,1472.1 1694.8,1467.1 1696.0,1471.0 1697.2,1473.4 1698.4,1466.1 1699.6,1476.8 1700.8,1459.9 1702.0,1475.5 1703.2,1469.5 1704.4,1485.9 1705.6,1468.8 1706.8,1433.9 1708.0,1439.4 1709.2,1414.8 1710.4,1412.4 1711.6,1419.5 1712.8,1407.9 1714.0,1417.0 1715.2,1402.2 1716.4,1397.7 1717.6,1402.7 1718.8,1407.0 1720.0,1436.1 1721.2,1428.8 1722.4,1467.7 1723.6,1470.2 1724.8,1458.4 1726.0,1456.1 1727.2,1437.0 1728.4,1442.1 1729.6,1422.2 1730.8,1422.6 1732.0,1406.4 1733.2,1424.8 1734.4,1408.5 1735.6,1430.1 1736.8,1426.7 1738.0,1409.0 1739.2,1422.0 1740.4,1403.7 1741.6,1429.0 1742.8,1417.2 1744.0,1418.5 1745.2,1433.5 1746.4,1434.9 1747.6,1440.0 1748.8,1427.7 1750.0,1447.7 1751.2,1418.8 1752.4,1433.0 1753.6,1398.2 1754.8,1416.2 1756.0,1391.2 1757.2,1388.3 1758.4,1368.0 1759.6,1378.0 1760.8,1356.1" stroke="#ff0000" stroke-width="2.5"/>
<path d="M1065.0,1399.7 1067.4,1402.9 1069.8,1391.6 1072.2,1378.8 1073.8,1359.5 1075.5,1335.3 1077.5,1320.9 1080.3,1324.1 1081.9,1337.0 1083.5,1359.5 1085.1,1380.4 1086.7,1388.4 1088.3,1407.7 1089.9,1431.8 1092.3,1460.7 1094.7,1457.5 1097.2,1451.1 1099.6,1443.1 1102.0,1438.2 1105.2,1436.6 1107.6,1423.8 1110.0,1422.2 1112.4,1431.8 1114.8,1447.9 1116.8,1464.0 1118.9,1447.9 1120.9,1462.4 1122.9,1455.9 1125.3,1439.8 1127.7,1430.2 1130.1,1423.8 1132.5,1418.9 1134.9,1425.4 1137.3,1431.8 1139.8,1431.8 1142.2,1425.4 1143.8,1407.7 1145.4,1386.8 1147.3,1372.3 1149.4,1365.9 1151.8,1382.0 1154.2,1410.9 1156.3,1449.5 1158.2,1422.2 1160.7,1404.5 1163.1,1391.6 1165.0,1390.0 1167.1,1399.7 1169.5,1415.7 1171.9,1439.8 1174.3,1412.5 1176.7,1378.8 1179.1,1362.7 1181.1,1354.6 1183.2,1362.7 1185.6,1385.2 1188.0,1407.7 1190.4,1417.3 1192.8,1422.2 1195.2,1430.2 1197.6,1428.6 1200.0,1427.0 1203.3,1422.2 1206.5,1418.9 1208.9,1414.1 1211.3,1404.5 1213.7,1420.6 1216.1,1439.8 1218.5,1470.4 1220.1,1447.9 1221.8,1415.7 1223.4,1385.2 1225.0,1362.7 1226.6,1343.4 1229.0,1327.3 1231.4,1324.1 1233.8,1330.5 1236.2,1330.5 1238.6,1338.6 1241.0,1348.2 1243.5,1359.5 1245.1,1375.5 1247.5,1391.6 1249.9,1383.6 1252.3,1362.7 1254.7,1345.0 1257.1,1328.9 1259.5,1341.8 1261.9,1330.5 1265.2,1322.5 1267.6,1312.8 1270.0,1293.5 1271.6,1288.7 1274.0,1309.6 1275.6,1338.6 1277.2,1362.7 1279.1,1402.9 1281.2,1378.8 1283.6,1359.5 1286.5,1346.6 1289.3,1362.7 1291.7,1386.8 1294.1,1362.7 1296.5,1343.4 1299.7,1333.7 1301.3,1328.9 1302.9,1340.2 1303.8,1337.0 1305.5,1359.5 1307.1,1388.4 1308.7,1412.5 1310.8,1430.2 1312.7,1417.3 1314.3,1401.3 1316.7,1396.4 1319.1,1398.0 1321.5,1388.4 1323.9,1373.9 1325.9,1369.1 1328.0,1388.4 1330.0,1409.3 1332.0,1394.8 1334.4,1388.4 1337.6,1390.0 1340.8,1386.8 1344.0,1385.2 1346.4,1383.6 1348.9,1407.7 1350.5,1436.6 1351.3,1447.9 1352.9,1433.4 1355.3,1404.5 1357.7,1390.0 1360.1,1378.8 1362.5,1361.1 1365.7,1365.9 1368.2,1385.2 1369.3,1394.8 1371.4,1378.8 1373.8,1369.1 1376.2,1362.7 1378.6,1330.5 1381.8,1325.7 1385.0,1322.5 1387.0,1314.4 1389.1,1325.7 1391.5,1328.9 1393.9,1346.6 1396.3,1356.2 1398.7,1351.4 1401.1,1346.6 1403.5,1354.6 1405.9,1367.5 1408.3,1382.0 1410.8,1365.9 1414.0,1340.2 1416.4,1320.9 1418.8,1324.1 1422.0,1316.1 1425.2,1324.1 1427.6,1346.6 1429.2,1375.5 1431.7,1359.5 1434.9,1357.9 1437.3,1356.2 1439.7,1365.9 1442.1,1373.9 1444.5,1372.3 1446.9,1353.0 1449.3,1346.6 1451.8,1343.4 1454.2,1340.2 1455.8,1346.6 1457.4,1362.7 1459.8,1391.6 1462.2,1415.7 1464.6,1438.2 1467.0,1423.8 1469.4,1412.5 1471.8,1399.7 1474.3,1390.0 1476.7,1401.3 1479.1,1414.1 1481.5,1402.9 1484.7,1385.2 1487.1,1385.2 1489.5,1394.8 1491.9,1414.1 1495.2,1420.6 1497.6,1435.0 1500.0,1451.1 1502.4,1436.6 1504.8,1417.3 1507.2,1412.5 1510.4,1404.5 1512.8,1414.1 1515.3,1391.6 1517.7,1354.6 1520.1,1364.3 1522.5,1385.2 1525.7,1382.0 1528.1,1378.8 1531.3,1415.7 1533.7,1388.4 1533.8,1391.6 1536.3,1375.5 1538.7,1385.2 1541.1,1390.0 1543.5,1398.0 1545.9,1375.5 1548.3,1370.7 1551.5,1373.9 1553.9,1383.6 1556.4,1407.7 1558.0,1431.8 1559.6,1444.7 1561.2,1415.7 1562.8,1375.5 1564.4,1351.4 1566.8,1338.6 1570.0,1341.8 1573.2,1343.4 1576.4,1349.8 1578.9,1330.5 1580.5,1324.1 1582.9,1337.0 1585.3,1359.5 1587.7,1375.5 1590.1,1394.8 1592.5,1414.1 1594.9,1404.5 1597.3,1385.2 1599.8,1365.9 1602.2,1359.5 1604.6,1369.1 1607.0,1385.2 1609.4,1410.9 1611.8,1391.6 1614.2,1375.5 1616.6,1365.9 1619.1,1375.5 1621.5,1372.3 1624.7,1365.9 1627.1,1375.5 1629.5,1388.4 1631.9,1378.8 1634.3,1375.5 1636.7,1378.8 1639.1,1398.0 1641.6,1391.6 1644.0,1380.4 1646.4,1388.4 1648.8,1404.5 1651.2,1431.8 1652.8,1443.1 1655.2,1417.3 1657.6,1388.4 1660.0,1385.2 1662.5,1401.3 1664.9,1398.0 1667.3,1388.4 1669.7,1383.6 1672.1,1391.6 1674.5,1402.9 1677.7,1407.7 1680.1,1417.3 1682.6,1439.8 1685.0,1459.1 1688.2,1481.6 1690.6,1472.0 1693.0,1464.0 1695.4,1468.8 1697.8,1472.0 1700.2,1455.9 1702.7,1433.4 1705.1,1430.2 1707.5,1417.3 1709.9,1404.5 1713.1,1401.3 1715.5,1388.4 1717.1,1380.4 1719.5,1394.8 1721.9,1423.8 1724.4,1455.9 1726.8,1443.1 1729.2,1425.4 1732.4,1414.1 1735.6,1407.7 1738.8,1399.7 1742.0,1404.5 1745.3,1410.9 1747.7,1427.0 1749.8,1454.3 1752.5,1431.8 1754.9,1399.7 1757.3,1382.0 1759.7,1380.4 1761.3,1391.6" stroke="#0000ff" stroke-width="3.2"/>
</g>
<rect x="1065" y="1264.3" width="698" height="253.70000000000005" fill="none" stroke="#000" stroke-width="2.1"/>
<path d="M1071.7,1257.8V1264.3M1071.7,1518.0V1524.5M1101.8,1257.8V1264.3M1101.8,1518.0V1524.5M1133.0,1257.8V1264.3M1133.0,1518.0V1524.5M1164.2,1257.8V1264.3M1164.2,1518.0V1524.5M1195.9,1257.8V1264.3M1195.9,1518.0V1524.5M1227.0,1257.8V1264.3M1227.0,1518.0V1524.5M1258.2,1257.8V1264.3M1258.2,1518.0V1524.5M1288.9,1257.8V1264.3M1288.9,1518.0V1524.5M1320.0,1257.8V1264.3M1320.0,1518.0V1524.5M1351.2,1257.8V1264.3M1351.2,1518.0V1524.5M1382.9,1257.8V1264.3M1382.9,1518.0V1524.5M1414.1,1257.8V1264.3M1414.1,1518.0V1524.5M1445.2,1257.8V1264.3M1445.2,1518.0V1524.5M1475.4,1257.8V1264.3M1475.4,1518.0V1524.5M1506.6,1257.8V1264.3M1506.6,1518.0V1524.5M1537.7,1257.8V1264.3M1537.7,1518.0V1524.5M1569.4,1257.8V1264.3M1569.4,1518.0V1524.5M1600.6,1257.8V1264.3M1600.6,1518.0V1524.5M1631.8,1257.8V1264.3M1631.8,1518.0V1524.5M1661.9,1257.8V1264.3M1661.9,1518.0V1524.5M1693.1,1257.8V1264.3M1693.1,1518.0V1524.5M1724.2,1257.8V1264.3M1724.2,1518.0V1524.5M1755.9,1257.8V1264.3M1755.9,1518.0V1524.5M1058.5,1285.4H1065M1763,1285.4H1769.5M1058.5,1391.2H1065M1763,1391.2H1769.5M1058.5,1496.9H1065M1763,1496.9H1769.5" stroke="#000" stroke-width="2.1" fill="none"/>
<g font-family="'Liberation Serif','Times New Roman',serif" font-size="35.5" text-anchor="middle"><text x="1086.8" y="1549.6">J</text><text x="1117.4" y="1549.6">M</text><text x="1148.6" y="1549.6">M</text><text x="1180.0" y="1549.6">J</text><text x="1211.5" y="1549.6">S</text><text x="1242.6" y="1549.6">N</text><text x="1273.5" y="1549.6">J</text><text x="1304.5" y="1549.6">M</text><text x="1335.6" y="1549.6">M</text><text x="1367.1" y="1549.6">J</text><text x="1398.5" y="1549.6">S</text><text x="1429.7" y="1549.6">N</text><text x="1460.3" y="1549.6">J</text><text x="1491.0" y="1549.6">M</text><text x="1522.1" y="1549.6">M</text><text x="1553.6" y="1549.6">J</text><text x="1585.0" y="1549.6">S</text><text x="1616.2" y="1549.6">N</text><text x="1646.8" y="1549.6">J</text><text x="1677.5" y="1549.6">M</text><text x="1708.7" y="1549.6">M</text><text x="1740.1" y="1549.6">J</text><text transform="translate(1086.8,1582.6) scale(0.962,1)">2011</text><text transform="translate(1273.5,1582.6) scale(0.962,1)">2012</text><text transform="translate(1460.3,1582.6) scale(0.962,1)">2013</text><text transform="translate(1646.8,1582.6) scale(0.962,1)">2014</text></g>
<g font-family="'Liberation Sans',Arial,sans-serif" font-size="36" text-anchor="end"><text x="1046.0" y="1298.3">0.5</text><text x="1046.0" y="1404.0">0</text><text x="1046.0" y="1509.7">-0.5</text></g>
<text transform="translate(962.8,1392) rotate(-90)" font-family="'Liberation Serif','Times New Roman',serif" font-size="35" text-anchor="middle">V (m/s)</text>
<text transform="translate(1435.4,1235.4) scale(0.96,1)" font-family="'Liberation Serif','Times New Roman',serif" font-size="44.5" text-anchor="middle">127°E/8°N</text>
<text x="896.5" y="1246.5" font-family="'Liberation Sans',Arial,sans-serif" font-weight="bold" font-size="29">H</text>
<path d="M556,82.4H701" stroke="#ff0000" stroke-width="3.2"/>
<path d="M556,122.3H701" stroke="#0000ff" stroke-width="3.2"/>
<g font-family="'Liberation Serif','Times New Roman',serif" font-size="25.5"><text transform="translate(717,91.3) scale(0.962,1)">Mooring</text><text transform="translate(717,132.8) scale(0.958,1)">Satellite</text></g>
</svg></body></html>
